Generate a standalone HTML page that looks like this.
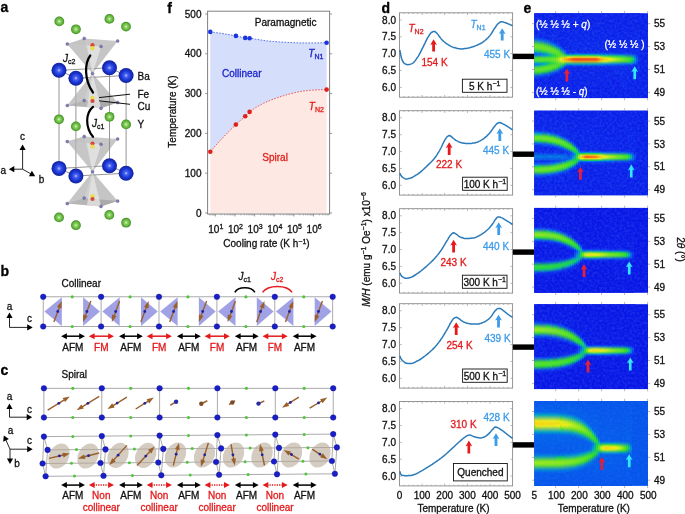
<!DOCTYPE html>
<html lang="en"><head><meta charset="utf-8"><title>Figure</title>
<style>
html,body{margin:0;padding:0;background:#fff;}
body{width:685px;height:514px;overflow:hidden;}
svg{display:block;font-family:'Liberation Sans', 'DejaVu Sans', sans-serif;}
</style></head><body>
<svg width="685" height="514" viewBox="0 0 685 514">
<defs>
<radialGradient id="gB" cx="50%" cy="50%" r="50%" fx="50%" fy="50%">
 <stop offset="0" stop-color="#c4ceff"/><stop offset="0.22" stop-color="#4a64f0"/>
 <stop offset="0.6" stop-color="#1c38d8"/><stop offset="1" stop-color="#10209a"/>
</radialGradient>
<radialGradient id="gG" cx="50%" cy="50%" r="50%" fx="50%" fy="50%">
 <stop offset="0" stop-color="#e4f8d0"/><stop offset="0.28" stop-color="#8fd468"/>
 <stop offset="0.7" stop-color="#62b43c"/><stop offset="1" stop-color="#3f8a24"/>
</radialGradient>

<filter id="nz" x="0" y="0" width="100%" height="100%"><feTurbulence type="fractalNoise" baseFrequency="0.4" numOctaves="2" seed="7"/><feColorMatrix type="matrix" values="0 0 0 0 0.15  0 0 0 0 0.4  0 0 0 0 0.98  2.4 0 0 0 -0.9"/></filter>
<clipPath id="cp0"><rect x="534.2" y="13.2" width="113.8" height="84.9"/></clipPath>
<linearGradient id="h1" x2="0" y2="1"><stop offset="0" stop-color="#0a1fe9"/><stop offset=".271" stop-color="#0a25ea"/><stop offset=".306" stop-color="#055beb"/><stop offset=".365" stop-color="#55e224"/><stop offset=".388" stop-color="#73e620"/><stop offset=".412" stop-color="#66e422"/><stop offset=".447" stop-color="#13cb60"/><stop offset=".471" stop-color="#0074e5"/><stop offset=".482" stop-color="#0460ea"/><stop offset=".494" stop-color="#0079e2"/><stop offset=".529" stop-color="#4ae125"/><stop offset=".553" stop-color="#5ae323"/><stop offset=".565" stop-color="#40e026"/><stop offset=".588" stop-color="#00a4c3"/><stop offset=".6" stop-color="#007ce0"/><stop offset=".612" stop-color="#0090d2"/><stop offset=".647" stop-color="#4de125"/><stop offset=".671" stop-color="#69e521"/><stop offset=".694" stop-color="#43e026"/><stop offset=".741" stop-color="#0755ec"/><stop offset=".776" stop-color="#0a21ea"/><stop offset="1" stop-color="#0a1fe9"/></linearGradient>
<linearGradient id="h2" x2="0" y2="1"><stop offset="0" stop-color="#0a1fe9"/><stop offset=".271" stop-color="#0a24ea"/><stop offset=".306" stop-color="#0657ec"/><stop offset=".365" stop-color="#51e224"/><stop offset=".388" stop-color="#73e620"/><stop offset=".412" stop-color="#68e521"/><stop offset=".447" stop-color="#16ce56"/><stop offset=".471" stop-color="#0079e1"/><stop offset=".482" stop-color="#0363ea"/><stop offset=".494" stop-color="#007ae1"/><stop offset=".529" stop-color="#4be125"/><stop offset=".553" stop-color="#5be323"/><stop offset=".565" stop-color="#40e026"/><stop offset=".588" stop-color="#00a5c2"/><stop offset=".6" stop-color="#007fdd"/><stop offset=".612" stop-color="#0096cd"/><stop offset=".647" stop-color="#51e224"/><stop offset=".671" stop-color="#68e521"/><stop offset=".694" stop-color="#3fe026"/><stop offset=".741" stop-color="#0751ec"/><stop offset=".776" stop-color="#0a21ea"/><stop offset="1" stop-color="#0a1fe9"/></linearGradient>
<linearGradient id="h3" x2="0" y2="1"><stop offset="0" stop-color="#0a1fe9"/><stop offset=".282" stop-color="#0a2beb"/><stop offset=".318" stop-color="#006fe8"/><stop offset=".376" stop-color="#64e422"/><stop offset=".412" stop-color="#6ce521"/><stop offset=".447" stop-color="#1cd24c"/><stop offset=".471" stop-color="#0083db"/><stop offset=".482" stop-color="#0268e9"/><stop offset=".494" stop-color="#007ce0"/><stop offset=".529" stop-color="#4ce125"/><stop offset=".553" stop-color="#5ce323"/><stop offset=".565" stop-color="#41e026"/><stop offset=".588" stop-color="#01a7be"/><stop offset=".6" stop-color="#0085d9"/><stop offset=".612" stop-color="#00a1c6"/><stop offset=".647" stop-color="#56e323"/><stop offset=".671" stop-color="#67e521"/><stop offset=".694" stop-color="#37df27"/><stop offset=".741" stop-color="#094bed"/><stop offset=".776" stop-color="#0a20e9"/><stop offset="1" stop-color="#0a1fe9"/></linearGradient>
<linearGradient id="h4" x2="0" y2="1"><stop offset="0" stop-color="#0a1fe9"/><stop offset=".282" stop-color="#0a27eb"/><stop offset=".318" stop-color="#0364ea"/><stop offset=".376" stop-color="#5de323"/><stop offset=".4" stop-color="#74e620"/><stop offset=".424" stop-color="#5fe422"/><stop offset=".482" stop-color="#0071e7"/><stop offset=".494" stop-color="#007fde"/><stop offset=".529" stop-color="#4ce125"/><stop offset=".553" stop-color="#5ce323"/><stop offset=".576" stop-color="#1fd348"/><stop offset=".588" stop-color="#02a9b9"/><stop offset=".6" stop-color="#008ed3"/><stop offset=".624" stop-color="#1ed349"/><stop offset=".647" stop-color="#5ce323"/><stop offset=".671" stop-color="#65e422"/><stop offset=".694" stop-color="#2edc2e"/><stop offset=".729" stop-color="#0364ea"/><stop offset=".765" stop-color="#0a22ea"/><stop offset="1" stop-color="#0a1fe9"/></linearGradient>
<linearGradient id="h5" x2="0" y2="1"><stop offset="0" stop-color="#0a1fe9"/><stop offset=".282" stop-color="#0a24ea"/><stop offset=".318" stop-color="#0658eb"/><stop offset=".376" stop-color="#51e224"/><stop offset=".4" stop-color="#73e620"/><stop offset=".424" stop-color="#67e521"/><stop offset=".459" stop-color="#15ce58"/><stop offset=".482" stop-color="#007fde"/><stop offset=".494" stop-color="#0084da"/><stop offset=".529" stop-color="#4de125"/><stop offset=".553" stop-color="#5de323"/><stop offset=".576" stop-color="#1fd347"/><stop offset=".588" stop-color="#04acaf"/><stop offset=".6" stop-color="#009bca"/><stop offset=".635" stop-color="#4ae125"/><stop offset=".659" stop-color="#68e521"/><stop offset=".682" stop-color="#47e125"/><stop offset=".729" stop-color="#0658eb"/><stop offset=".765" stop-color="#0a21ea"/><stop offset="1" stop-color="#0a1fe9"/></linearGradient>
<linearGradient id="h6" x2="0" y2="1"><stop offset="0" stop-color="#0a1fe9"/><stop offset=".294" stop-color="#0a28eb"/><stop offset=".329" stop-color="#0268e9"/><stop offset=".388" stop-color="#5fe422"/><stop offset=".424" stop-color="#6ee521"/><stop offset=".447" stop-color="#3ddf27"/><stop offset=".482" stop-color="#0091d1"/><stop offset=".494" stop-color="#008cd5"/><stop offset=".529" stop-color="#4ee125"/><stop offset=".553" stop-color="#5ee323"/><stop offset=".576" stop-color="#20d446"/><stop offset=".588" stop-color="#07b2a1"/><stop offset=".6" stop-color="#03abb3"/><stop offset=".635" stop-color="#55e224"/><stop offset=".659" stop-color="#67e521"/><stop offset=".682" stop-color="#38df27"/><stop offset=".729" stop-color="#094ced"/><stop offset=".765" stop-color="#0a20e9"/><stop offset="1" stop-color="#0a1fe9"/></linearGradient>
<linearGradient id="h7" x2="0" y2="1"><stop offset="0" stop-color="#0a1fe9"/><stop offset=".294" stop-color="#0a23ea"/><stop offset=".329" stop-color="#0656ec"/><stop offset=".388" stop-color="#50e224"/><stop offset=".412" stop-color="#72e620"/><stop offset=".435" stop-color="#67e521"/><stop offset=".482" stop-color="#01a7bd"/><stop offset=".494" stop-color="#0098cc"/><stop offset=".529" stop-color="#4ee224"/><stop offset=".553" stop-color="#5fe422"/><stop offset=".576" stop-color="#21d544"/><stop offset=".588" stop-color="#0bbb8a"/><stop offset=".6" stop-color="#0cbe82"/><stop offset=".635" stop-color="#5ee422"/><stop offset=".659" stop-color="#63e422"/><stop offset=".682" stop-color="#2ad936"/><stop offset=".718" stop-color="#045eeb"/><stop offset=".753" stop-color="#0a22ea"/><stop offset="1" stop-color="#0a1fe9"/></linearGradient>
<linearGradient id="h8" x2="0" y2="1"><stop offset="0" stop-color="#0a1fe9"/><stop offset=".306" stop-color="#0a26ea"/><stop offset=".341" stop-color="#0460ea"/><stop offset=".4" stop-color="#59e323"/><stop offset=".424" stop-color="#72e620"/><stop offset=".447" stop-color="#5ee323"/><stop offset=".494" stop-color="#02a9b7"/><stop offset=".506" stop-color="#0ec179"/><stop offset=".529" stop-color="#4fe224"/><stop offset=".553" stop-color="#5fe422"/><stop offset=".588" stop-color="#11c868"/><stop offset=".6" stop-color="#18cf53"/><stop offset=".624" stop-color="#51e224"/><stop offset=".647" stop-color="#66e422"/><stop offset=".671" stop-color="#39df27"/><stop offset=".718" stop-color="#084ded"/><stop offset=".753" stop-color="#0a20e9"/><stop offset="1" stop-color="#0a1fe9"/></linearGradient>
<linearGradient id="h9" x2="0" y2="1"><stop offset="0" stop-color="#0a1fe9"/><stop offset=".318" stop-color="#0a28eb"/><stop offset=".353" stop-color="#0269e9"/><stop offset=".412" stop-color="#5fe422"/><stop offset=".447" stop-color="#68e521"/><stop offset=".494" stop-color="#0dbf7e"/><stop offset=".506" stop-color="#14cd5a"/><stop offset=".529" stop-color="#57e323"/><stop offset=".553" stop-color="#67e521"/><stop offset=".588" stop-color="#1cd24c"/><stop offset=".624" stop-color="#5ce323"/><stop offset=".647" stop-color="#5fe422"/><stop offset=".671" stop-color="#27d83b"/><stop offset=".706" stop-color="#055aeb"/><stop offset=".741" stop-color="#0a21ea"/><stop offset="1" stop-color="#0a1fe9"/></linearGradient>
<linearGradient id="h10" x2="0" y2="1"><stop offset="0" stop-color="#0a1fe9"/><stop offset=".329" stop-color="#0a29eb"/><stop offset=".365" stop-color="#006ee8"/><stop offset=".412" stop-color="#48e125"/><stop offset=".435" stop-color="#6be521"/><stop offset=".459" stop-color="#61e422"/><stop offset=".494" stop-color="#1bd14e"/><stop offset=".506" stop-color="#1ed34a"/><stop offset=".529" stop-color="#5fe422"/><stop offset=".553" stop-color="#70e620"/><stop offset=".588" stop-color="#2ad936"/><stop offset=".624" stop-color="#60e422"/><stop offset=".647" stop-color="#50e224"/><stop offset=".706" stop-color="#0a46ee"/><stop offset=".753" stop-color="#0a1fe9"/><stop offset="1" stop-color="#0a1fe9"/></linearGradient>
<linearGradient id="h11" x2="0" y2="1"><stop offset="0" stop-color="#0a1fe9"/><stop offset=".341" stop-color="#0a2aeb"/><stop offset=".376" stop-color="#0070e8"/><stop offset=".424" stop-color="#48e125"/><stop offset=".447" stop-color="#67e521"/><stop offset=".471" stop-color="#58e323"/><stop offset=".494" stop-color="#2bda34"/><stop offset=".506" stop-color="#2ada35"/><stop offset=".541" stop-color="#7be71f"/><stop offset=".565" stop-color="#64e422"/><stop offset=".588" stop-color="#3cdf27"/><stop offset=".624" stop-color="#5de323"/><stop offset=".647" stop-color="#37df27"/><stop offset=".694" stop-color="#084eed"/><stop offset=".729" stop-color="#0a20e9"/><stop offset="1" stop-color="#0a1fe9"/></linearGradient>
<linearGradient id="h12" x2="0" y2="1"><stop offset="0" stop-color="#0a1fe9"/><stop offset=".353" stop-color="#0a28eb"/><stop offset=".388" stop-color="#016de8"/><stop offset=".435" stop-color="#43e026"/><stop offset=".459" stop-color="#60e422"/><stop offset=".506" stop-color="#3fe026"/><stop offset=".541" stop-color="#91e91d"/><stop offset=".565" stop-color="#79e71f"/><stop offset=".588" stop-color="#53e224"/><stop offset=".624" stop-color="#51e224"/><stop offset=".647" stop-color="#1fd348"/><stop offset=".682" stop-color="#0753ec"/><stop offset=".718" stop-color="#0a21ea"/><stop offset="1" stop-color="#0a1fe9"/></linearGradient>
<linearGradient id="h13" x2="0" y2="1"><stop offset="0" stop-color="#0a1fe9"/><stop offset=".365" stop-color="#0a25ea"/><stop offset=".4" stop-color="#0365ea"/><stop offset=".447" stop-color="#39df27"/><stop offset=".471" stop-color="#56e224"/><stop offset=".506" stop-color="#5ae323"/><stop offset=".541" stop-color="#bcec19"/><stop offset=".565" stop-color="#a2ea1b"/><stop offset=".6" stop-color="#55e224"/><stop offset=".624" stop-color="#36df27"/><stop offset=".671" stop-color="#0655ec"/><stop offset=".706" stop-color="#0a21ea"/><stop offset="1" stop-color="#0a1fe9"/></linearGradient>
<linearGradient id="h14" x2="0" y2="1"><stop offset="0" stop-color="#0a1fe9"/><stop offset=".376" stop-color="#0a22ea"/><stop offset=".412" stop-color="#0658eb"/><stop offset=".471" stop-color="#3edf27"/><stop offset=".506" stop-color="#6de521"/><stop offset=".529" stop-color="#d3ee17"/><stop offset=".553" stop-color="#eef014"/><stop offset=".576" stop-color="#95e91c"/><stop offset=".635" stop-color="#04adae"/><stop offset=".671" stop-color="#0a37ec"/><stop offset=".729" stop-color="#0a1fe9"/><stop offset="1" stop-color="#0a1fe9"/></linearGradient>
<linearGradient id="h15" x2="0" y2="1"><stop offset="0" stop-color="#0a1fe9"/><stop offset=".4" stop-color="#0a24ea"/><stop offset=".435" stop-color="#0363ea"/><stop offset=".506" stop-color="#73e620"/><stop offset=".529" stop-color="#f4e211"/><stop offset=".553" stop-color="#f8d40e"/><stop offset=".565" stop-color="#f2e812"/><stop offset=".612" stop-color="#14cc5c"/><stop offset=".647" stop-color="#084ded"/><stop offset=".682" stop-color="#0a20e9"/><stop offset="1" stop-color="#0a1fe9"/></linearGradient>
<linearGradient id="h16" x2="0" y2="1"><stop offset="0" stop-color="#0a1fe9"/><stop offset=".424" stop-color="#0a24ea"/><stop offset=".459" stop-color="#0365ea"/><stop offset=".494" stop-color="#29d938"/><stop offset=".529" stop-color="#fbcd0d"/><stop offset=".541" stop-color="#ffb20a"/><stop offset=".553" stop-color="#ffb90a"/><stop offset=".565" stop-color="#f7d90f"/><stop offset=".6" stop-color="#13cb5f"/><stop offset=".624" stop-color="#045fea"/><stop offset=".659" stop-color="#0a22ea"/><stop offset="1" stop-color="#0a1fe9"/></linearGradient>
<linearGradient id="h17" x2="0" y2="1"><stop offset="0" stop-color="#0a1fe9"/><stop offset=".447" stop-color="#0a22ea"/><stop offset=".471" stop-color="#0a47ee"/><stop offset=".482" stop-color="#0074e5"/><stop offset=".494" stop-color="#0fc375"/><stop offset=".518" stop-color="#daee16"/><stop offset=".529" stop-color="#fec20b"/><stop offset=".541" stop-color="#ff940a"/><stop offset=".553" stop-color="#ff9d0a"/><stop offset=".565" stop-color="#f9d10e"/><stop offset=".6" stop-color="#01a7bf"/><stop offset=".612" stop-color="#045fea"/><stop offset=".635" stop-color="#0a25ea"/><stop offset="1" stop-color="#0a1fe9"/></linearGradient>
<linearGradient id="h18" x2="0" y2="1"><stop offset="0" stop-color="#0a1fe9"/><stop offset=".459" stop-color="#0a27eb"/><stop offset=".471" stop-color="#0a3fed"/><stop offset=".482" stop-color="#016de8"/><stop offset=".494" stop-color="#0dbf7e"/><stop offset=".518" stop-color="#e9f015"/><stop offset=".529" stop-color="#ffb10a"/><stop offset=".541" stop-color="#ff7b0a"/><stop offset=".553" stop-color="#ff830a"/><stop offset=".565" stop-color="#fdc60c"/><stop offset=".6" stop-color="#01a6c0"/><stop offset=".612" stop-color="#055deb"/><stop offset=".635" stop-color="#0a23ea"/><stop offset="1" stop-color="#0a1fe9"/></linearGradient>
<linearGradient id="h19" x2="0" y2="1"><stop offset="0" stop-color="#0a1fe9"/><stop offset=".459" stop-color="#0a27eb"/><stop offset=".471" stop-color="#0a40ed"/><stop offset=".482" stop-color="#0070e8"/><stop offset=".494" stop-color="#10c570"/><stop offset=".518" stop-color="#f2ea13"/><stop offset=".529" stop-color="#ff980a"/><stop offset=".541" stop-color="#fb630b"/><stop offset=".553" stop-color="#fe6a0a"/><stop offset=".565" stop-color="#ffb70a"/><stop offset=".6" stop-color="#03abb5"/><stop offset=".612" stop-color="#045fea"/><stop offset=".635" stop-color="#0a23ea"/><stop offset="1" stop-color="#0a1fe9"/></linearGradient>
<linearGradient id="h20" x2="0" y2="1"><stop offset="0" stop-color="#0a1fe9"/><stop offset=".459" stop-color="#0a27eb"/><stop offset=".471" stop-color="#0a41ed"/><stop offset=".482" stop-color="#0073e6"/><stop offset=".494" stop-color="#12c964"/><stop offset=".518" stop-color="#f4e111"/><stop offset=".529" stop-color="#ff820a"/><stop offset=".541" stop-color="#f5510d"/><stop offset=".553" stop-color="#f7570d"/><stop offset=".565" stop-color="#ffa20a"/><stop offset=".6" stop-color="#05aeaa"/><stop offset=".612" stop-color="#0461ea"/><stop offset=".635" stop-color="#0a24ea"/><stop offset="1" stop-color="#0a1fe9"/></linearGradient>
<linearGradient id="h21" x2="0" y2="1"><stop offset="0" stop-color="#0a1fe9"/><stop offset=".459" stop-color="#0a28eb"/><stop offset=".471" stop-color="#0a42ee"/><stop offset=".482" stop-color="#0074e5"/><stop offset=".494" stop-color="#14cc5c"/><stop offset=".518" stop-color="#f6dc10"/><stop offset=".529" stop-color="#ff750a"/><stop offset=".541" stop-color="#f2460e"/><stop offset=".553" stop-color="#f44c0e"/><stop offset=".565" stop-color="#ff950a"/><stop offset=".6" stop-color="#06b1a4"/><stop offset=".612" stop-color="#0362ea"/><stop offset=".635" stop-color="#0a24ea"/><stop offset="1" stop-color="#0a1fe9"/></linearGradient>
<linearGradient id="h22" x2="0" y2="1"><stop offset="0" stop-color="#0a1fe9"/><stop offset=".459" stop-color="#0a28eb"/><stop offset=".471" stop-color="#0a42ee"/><stop offset=".482" stop-color="#0074e5"/><stop offset=".494" stop-color="#13cc5d"/><stop offset=".518" stop-color="#f6dc10"/><stop offset=".529" stop-color="#ff760a"/><stop offset=".541" stop-color="#f2460e"/><stop offset=".553" stop-color="#f44d0e"/><stop offset=".565" stop-color="#ff960a"/><stop offset=".6" stop-color="#06b1a4"/><stop offset=".612" stop-color="#0362ea"/><stop offset=".635" stop-color="#0a24ea"/><stop offset="1" stop-color="#0a1fe9"/></linearGradient>
<linearGradient id="h23" x2="0" y2="1"><stop offset="0" stop-color="#0a1fe9"/><stop offset=".459" stop-color="#0a28eb"/><stop offset=".471" stop-color="#0a42ee"/><stop offset=".482" stop-color="#0074e5"/><stop offset=".494" stop-color="#13cc5d"/><stop offset=".518" stop-color="#f6dd10"/><stop offset=".529" stop-color="#ff760a"/><stop offset=".541" stop-color="#f2470e"/><stop offset=".553" stop-color="#f44d0e"/><stop offset=".565" stop-color="#ff970a"/><stop offset=".6" stop-color="#06b1a5"/><stop offset=".612" stop-color="#0362ea"/><stop offset=".635" stop-color="#0a24ea"/><stop offset="1" stop-color="#0a1fe9"/></linearGradient>
<linearGradient id="h24" x2="0" y2="1"><stop offset="0" stop-color="#0a1fe9"/><stop offset=".459" stop-color="#0a28eb"/><stop offset=".471" stop-color="#0a42ee"/><stop offset=".482" stop-color="#0074e5"/><stop offset=".494" stop-color="#13cc5d"/><stop offset=".518" stop-color="#f6dd10"/><stop offset=".529" stop-color="#ff770a"/><stop offset=".541" stop-color="#f2470e"/><stop offset=".553" stop-color="#f44e0e"/><stop offset=".565" stop-color="#ff980a"/><stop offset=".6" stop-color="#06b0a5"/><stop offset=".612" stop-color="#0362ea"/><stop offset=".635" stop-color="#0a24ea"/><stop offset="1" stop-color="#0a1fe9"/></linearGradient>
<linearGradient id="h25" x2="0" y2="1"><stop offset="0" stop-color="#0a1fe9"/><stop offset=".459" stop-color="#0a28eb"/><stop offset=".471" stop-color="#0a42ee"/><stop offset=".482" stop-color="#0074e5"/><stop offset=".494" stop-color="#13cc5e"/><stop offset=".518" stop-color="#f6dd10"/><stop offset=".529" stop-color="#ff780a"/><stop offset=".541" stop-color="#f2480e"/><stop offset=".553" stop-color="#f54f0d"/><stop offset=".565" stop-color="#ff980a"/><stop offset=".6" stop-color="#06b0a5"/><stop offset=".612" stop-color="#0362ea"/><stop offset=".635" stop-color="#0a24ea"/><stop offset="1" stop-color="#0a1fe9"/></linearGradient>
<linearGradient id="h26" x2="0" y2="1"><stop offset="0" stop-color="#0a1fe9"/><stop offset=".459" stop-color="#0a28eb"/><stop offset=".471" stop-color="#0a42ee"/><stop offset=".482" stop-color="#0074e5"/><stop offset=".494" stop-color="#13cb5e"/><stop offset=".518" stop-color="#f6de10"/><stop offset=".529" stop-color="#ff780a"/><stop offset=".541" stop-color="#f3490e"/><stop offset=".553" stop-color="#f54f0d"/><stop offset=".565" stop-color="#ff990a"/><stop offset=".6" stop-color="#06b0a6"/><stop offset=".612" stop-color="#0362ea"/><stop offset=".635" stop-color="#0a24ea"/><stop offset="1" stop-color="#0a1fe9"/></linearGradient>
<linearGradient id="h27" x2="0" y2="1"><stop offset="0" stop-color="#0a1fe9"/><stop offset=".459" stop-color="#0a28eb"/><stop offset=".471" stop-color="#0a42ee"/><stop offset=".482" stop-color="#0074e5"/><stop offset=".494" stop-color="#13cb5f"/><stop offset=".518" stop-color="#f5de10"/><stop offset=".529" stop-color="#ff790a"/><stop offset=".541" stop-color="#f3490e"/><stop offset=".553" stop-color="#f5500d"/><stop offset=".565" stop-color="#ff9a0a"/><stop offset=".6" stop-color="#06b0a6"/><stop offset=".612" stop-color="#0362ea"/><stop offset=".635" stop-color="#0a24ea"/><stop offset="1" stop-color="#0a1fe9"/></linearGradient>
<linearGradient id="h28" x2="0" y2="1"><stop offset="0" stop-color="#0a1fe9"/><stop offset=".459" stop-color="#0a28eb"/><stop offset=".471" stop-color="#0a42ee"/><stop offset=".482" stop-color="#0074e6"/><stop offset=".494" stop-color="#13cb5f"/><stop offset=".518" stop-color="#f5de10"/><stop offset=".529" stop-color="#ff7a0a"/><stop offset=".541" stop-color="#f34a0e"/><stop offset=".553" stop-color="#f5500d"/><stop offset=".565" stop-color="#ff9a0a"/><stop offset=".6" stop-color="#05b0a6"/><stop offset=".612" stop-color="#0362ea"/><stop offset=".635" stop-color="#0a24ea"/><stop offset="1" stop-color="#0a1fe9"/></linearGradient>
<linearGradient id="h29" x2="0" y2="1"><stop offset="0" stop-color="#0a1fe9"/><stop offset=".459" stop-color="#0a28eb"/><stop offset=".471" stop-color="#0a42ee"/><stop offset=".482" stop-color="#0073e6"/><stop offset=".494" stop-color="#13cb5f"/><stop offset=".518" stop-color="#f5de10"/><stop offset=".529" stop-color="#ff7b0a"/><stop offset=".541" stop-color="#f34a0e"/><stop offset=".553" stop-color="#f5510d"/><stop offset=".565" stop-color="#ff9b0a"/><stop offset=".6" stop-color="#05b0a7"/><stop offset=".612" stop-color="#0361ea"/><stop offset=".635" stop-color="#0a24ea"/><stop offset="1" stop-color="#0a1fe9"/></linearGradient>
<linearGradient id="h30" x2="0" y2="1"><stop offset="0" stop-color="#0a1fe9"/><stop offset=".459" stop-color="#0a28eb"/><stop offset=".471" stop-color="#0a42ee"/><stop offset=".482" stop-color="#0073e6"/><stop offset=".494" stop-color="#13cb60"/><stop offset=".518" stop-color="#f5df11"/><stop offset=".529" stop-color="#ff7b0a"/><stop offset=".541" stop-color="#f34b0e"/><stop offset=".553" stop-color="#f6520d"/><stop offset=".565" stop-color="#ff9c0a"/><stop offset=".6" stop-color="#05b0a7"/><stop offset=".612" stop-color="#0361ea"/><stop offset=".635" stop-color="#0a24ea"/><stop offset="1" stop-color="#0a1fe9"/></linearGradient>
<linearGradient id="h31" x2="0" y2="1"><stop offset="0" stop-color="#0a1fe9"/><stop offset=".459" stop-color="#0a28eb"/><stop offset=".471" stop-color="#0a42ee"/><stop offset=".482" stop-color="#0073e6"/><stop offset=".494" stop-color="#13cb60"/><stop offset=".518" stop-color="#f5df11"/><stop offset=".529" stop-color="#ff7c0a"/><stop offset=".541" stop-color="#f44c0e"/><stop offset=".553" stop-color="#f6520d"/><stop offset=".565" stop-color="#ff9c0a"/><stop offset=".6" stop-color="#05b0a7"/><stop offset=".612" stop-color="#0361ea"/><stop offset=".635" stop-color="#0a24ea"/><stop offset="1" stop-color="#0a1fe9"/></linearGradient>
<linearGradient id="h32" x2="0" y2="1"><stop offset="0" stop-color="#0a1fe9"/><stop offset=".459" stop-color="#0a27eb"/><stop offset=".471" stop-color="#0a41ed"/><stop offset=".482" stop-color="#0071e7"/><stop offset=".494" stop-color="#11c769"/><stop offset=".518" stop-color="#f3e512"/><stop offset=".529" stop-color="#ff8b0a"/><stop offset=".541" stop-color="#f8580c"/><stop offset=".553" stop-color="#fa5f0c"/><stop offset=".565" stop-color="#ffab0a"/><stop offset=".6" stop-color="#04adaf"/><stop offset=".612" stop-color="#0460ea"/><stop offset=".635" stop-color="#0a23ea"/><stop offset="1" stop-color="#0a1fe9"/></linearGradient>
<linearGradient id="h33" x2="0" y2="1"><stop offset="0" stop-color="#0a1fe9"/><stop offset=".459" stop-color="#0a27eb"/><stop offset=".471" stop-color="#0a3fed"/><stop offset=".482" stop-color="#016de8"/><stop offset=".494" stop-color="#0dbf7e"/><stop offset=".518" stop-color="#eaf015"/><stop offset=".529" stop-color="#ffb00a"/><stop offset=".541" stop-color="#ff7a0a"/><stop offset=".553" stop-color="#ff820a"/><stop offset=".565" stop-color="#fdc60c"/><stop offset=".6" stop-color="#01a6c0"/><stop offset=".612" stop-color="#055deb"/><stop offset=".635" stop-color="#0a23ea"/><stop offset="1" stop-color="#0a1fe9"/></linearGradient>
<linearGradient id="h34" x2="0" y2="1"><stop offset="0" stop-color="#0a1fe9"/><stop offset=".459" stop-color="#0a26ea"/><stop offset=".482" stop-color="#0269e9"/><stop offset=".494" stop-color="#09b793"/><stop offset=".518" stop-color="#caed17"/><stop offset=".529" stop-color="#fcc90c"/><stop offset=".541" stop-color="#ffa30a"/><stop offset=".553" stop-color="#ffaa0a"/><stop offset=".565" stop-color="#f8d60f"/><stop offset=".6" stop-color="#009fc7"/><stop offset=".612" stop-color="#055aeb"/><stop offset=".635" stop-color="#0a23ea"/><stop offset="1" stop-color="#0a1fe9"/></linearGradient>
<linearGradient id="h35" x2="0" y2="1"><stop offset="0" stop-color="#0a1fe9"/><stop offset=".459" stop-color="#0a25ea"/><stop offset=".482" stop-color="#0266e9"/><stop offset=".494" stop-color="#06b1a5"/><stop offset=".518" stop-color="#b0eb1a"/><stop offset=".529" stop-color="#f7d80f"/><stop offset=".541" stop-color="#fec10b"/><stop offset=".553" stop-color="#fdc40b"/><stop offset=".565" stop-color="#f3e412"/><stop offset=".6" stop-color="#0098cc"/><stop offset=".612" stop-color="#0657ec"/><stop offset=".635" stop-color="#0a22ea"/><stop offset="1" stop-color="#0a1fe9"/></linearGradient>
<linearGradient id="h36" x2="0" y2="1"><stop offset="0" stop-color="#0a1fe9"/><stop offset=".459" stop-color="#0a25ea"/><stop offset=".482" stop-color="#0363ea"/><stop offset=".494" stop-color="#03acb1"/><stop offset=".518" stop-color="#9eea1b"/><stop offset=".529" stop-color="#f4e211"/><stop offset=".541" stop-color="#fbcc0d"/><stop offset=".553" stop-color="#facf0d"/><stop offset=".565" stop-color="#f0ee14"/><stop offset=".6" stop-color="#0094cf"/><stop offset=".612" stop-color="#0655ec"/><stop offset=".635" stop-color="#0a22ea"/><stop offset="1" stop-color="#0a1fe9"/></linearGradient>
<linearGradient id="h37" x2="0" y2="1"><stop offset="0" stop-color="#0a1fe9"/><stop offset=".459" stop-color="#0a25ea"/><stop offset=".482" stop-color="#0461ea"/><stop offset=".494" stop-color="#01a7be"/><stop offset=".518" stop-color="#8be91d"/><stop offset=".529" stop-color="#f1ed13"/><stop offset=".541" stop-color="#f7d70f"/><stop offset=".553" stop-color="#f6db10"/><stop offset=".565" stop-color="#deef16"/><stop offset=".6" stop-color="#008fd2"/><stop offset=".612" stop-color="#0753ec"/><stop offset=".635" stop-color="#0a22ea"/><stop offset="1" stop-color="#0a1fe9"/></linearGradient>
<linearGradient id="h38" x2="0" y2="1"><stop offset="0" stop-color="#0a1fe9"/><stop offset=".459" stop-color="#0a24ea"/><stop offset=".482" stop-color="#045eeb"/><stop offset=".506" stop-color="#2bda34"/><stop offset=".529" stop-color="#e1ef15"/><stop offset=".541" stop-color="#f4e311"/><stop offset=".553" stop-color="#f3e612"/><stop offset=".565" stop-color="#c8ed18"/><stop offset=".6" stop-color="#008ad6"/><stop offset=".612" stop-color="#0751ec"/><stop offset=".635" stop-color="#0a22ea"/><stop offset="1" stop-color="#0a1fe9"/></linearGradient>
<linearGradient id="h39" x2="0" y2="1"><stop offset="0" stop-color="#0a1fe9"/><stop offset=".459" stop-color="#0a24ea"/><stop offset=".482" stop-color="#055ceb"/><stop offset=".506" stop-color="#26d73c"/><stop offset=".529" stop-color="#caed17"/><stop offset=".541" stop-color="#f1ee14"/><stop offset=".553" stop-color="#eef014"/><stop offset=".565" stop-color="#b2eb1a"/><stop offset=".6" stop-color="#0086d9"/><stop offset=".612" stop-color="#084fed"/><stop offset=".635" stop-color="#0a22ea"/><stop offset="1" stop-color="#0a1fe9"/></linearGradient>
<linearGradient id="h40" x2="0" y2="1"><stop offset="0" stop-color="#0a1fe9"/><stop offset=".459" stop-color="#0a24ea"/><stop offset=".482" stop-color="#0559eb"/><stop offset=".506" stop-color="#22d543"/><stop offset=".529" stop-color="#b4ec19"/><stop offset=".541" stop-color="#ddef16"/><stop offset=".553" stop-color="#d7ee16"/><stop offset=".565" stop-color="#9dea1c"/><stop offset=".6" stop-color="#0082dc"/><stop offset=".624" stop-color="#0a2feb"/><stop offset=".741" stop-color="#0a1fe9"/><stop offset="1" stop-color="#0a1fe9"/></linearGradient>
<linearGradient id="h41" x2="0" y2="1"><stop offset="0" stop-color="#0a1fe9"/><stop offset=".459" stop-color="#0a23ea"/><stop offset=".482" stop-color="#0657ec"/><stop offset=".506" stop-color="#1ed34a"/><stop offset=".529" stop-color="#a1ea1b"/><stop offset=".541" stop-color="#c9ed18"/><stop offset=".553" stop-color="#c3ed18"/><stop offset=".565" stop-color="#8be91d"/><stop offset=".6" stop-color="#007ede"/><stop offset=".624" stop-color="#0a2eeb"/><stop offset=".765" stop-color="#0a1fe9"/><stop offset="1" stop-color="#0a1fe9"/></linearGradient>
<linearGradient id="h42" x2="0" y2="1"><stop offset="0" stop-color="#0a1fe9"/><stop offset=".459" stop-color="#0a23ea"/><stop offset=".482" stop-color="#0655ec"/><stop offset=".506" stop-color="#1ad050"/><stop offset=".529" stop-color="#8ee91d"/><stop offset=".541" stop-color="#b4ec19"/><stop offset=".553" stop-color="#aeeb1a"/><stop offset=".565" stop-color="#7ce71f"/><stop offset=".6" stop-color="#007ae1"/><stop offset=".624" stop-color="#0a2deb"/><stop offset=".788" stop-color="#0a1fe9"/><stop offset="1" stop-color="#0a1fe9"/></linearGradient>
<linearGradient id="h43" x2="0" y2="1"><stop offset="0" stop-color="#0a1fe9"/><stop offset=".459" stop-color="#0a23ea"/><stop offset=".482" stop-color="#0753ec"/><stop offset=".506" stop-color="#16ce57"/><stop offset=".529" stop-color="#7de71f"/><stop offset=".541" stop-color="#9fea1b"/><stop offset=".553" stop-color="#9aea1c"/><stop offset=".565" stop-color="#71e620"/><stop offset=".6" stop-color="#0076e4"/><stop offset=".624" stop-color="#0a2ceb"/><stop offset=".835" stop-color="#0a1fe9"/><stop offset="1" stop-color="#0a1fe9"/></linearGradient>
<linearGradient id="h44" x2="0" y2="1"><stop offset="0" stop-color="#0a1fe9"/><stop offset=".459" stop-color="#0a22ea"/><stop offset=".482" stop-color="#0751ec"/><stop offset=".506" stop-color="#12c964"/><stop offset=".529" stop-color="#71e620"/><stop offset=".541" stop-color="#8be91d"/><stop offset=".553" stop-color="#85e81e"/><stop offset=".565" stop-color="#65e422"/><stop offset=".6" stop-color="#0072e6"/><stop offset=".624" stop-color="#0a2ceb"/><stop offset=".894" stop-color="#0a1fe9"/><stop offset="1" stop-color="#0a1fe9"/></linearGradient>
<linearGradient id="h45" x2="0" y2="1"><stop offset="0" stop-color="#0a1fe9"/><stop offset=".459" stop-color="#0a22ea"/><stop offset=".482" stop-color="#084fed"/><stop offset=".506" stop-color="#0fc376"/><stop offset=".529" stop-color="#66e422"/><stop offset=".541" stop-color="#7ae71f"/><stop offset=".553" stop-color="#77e71f"/><stop offset=".565" stop-color="#5ae323"/><stop offset=".6" stop-color="#006fe8"/><stop offset=".624" stop-color="#0a2beb"/><stop offset="1" stop-color="#0a1fe9"/></linearGradient>
<linearGradient id="h46" x2="0" y2="1"><stop offset="0" stop-color="#0a1fe9"/><stop offset=".459" stop-color="#0a22ea"/><stop offset=".482" stop-color="#084ded"/><stop offset=".506" stop-color="#0bbb88"/><stop offset=".529" stop-color="#59e323"/><stop offset=".553" stop-color="#6ae521"/><stop offset=".565" stop-color="#4ee125"/><stop offset=".6" stop-color="#016be9"/><stop offset=".624" stop-color="#0a2aeb"/><stop offset="1" stop-color="#0a1fe9"/></linearGradient>
<linearGradient id="h47" x2="0" y2="1"><stop offset="0" stop-color="#0a1fe9"/><stop offset=".459" stop-color="#0a22ea"/><stop offset=".482" stop-color="#094bed"/><stop offset=".529" stop-color="#4be125"/><stop offset=".553" stop-color="#5be323"/><stop offset=".565" stop-color="#41e026"/><stop offset=".6" stop-color="#0267e9"/><stop offset=".624" stop-color="#0a29eb"/><stop offset="1" stop-color="#0a1fe9"/></linearGradient>
<linearGradient id="h48" x2="0" y2="1"><stop offset="0" stop-color="#0a1fe9"/><stop offset=".459" stop-color="#0a22ea"/><stop offset=".482" stop-color="#0948ee"/><stop offset=".529" stop-color="#3edf27"/><stop offset=".553" stop-color="#4de125"/><stop offset=".576" stop-color="#18cf54"/><stop offset=".6" stop-color="#0363ea"/><stop offset=".624" stop-color="#0a28eb"/><stop offset="1" stop-color="#0a1fe9"/></linearGradient>
<linearGradient id="h49" x2="0" y2="1"><stop offset="0" stop-color="#0a1fe9"/><stop offset=".459" stop-color="#0a21ea"/><stop offset=".482" stop-color="#0a44ee"/><stop offset=".529" stop-color="#2ada35"/><stop offset=".553" stop-color="#33de28"/><stop offset=".576" stop-color="#0ec179"/><stop offset=".612" stop-color="#0a3bed"/><stop offset=".659" stop-color="#0a1fe9"/><stop offset="1" stop-color="#0a1fe9"/></linearGradient>
<linearGradient id="h50" x2="0" y2="1"><stop offset="0" stop-color="#0a1fe9"/><stop offset=".471" stop-color="#0a28eb"/><stop offset=".506" stop-color="#0082dc"/><stop offset=".529" stop-color="#13cb60"/><stop offset=".553" stop-color="#19d052"/><stop offset=".576" stop-color="#00a2c5"/><stop offset=".612" stop-color="#0a34ec"/><stop offset=".682" stop-color="#0a1fe9"/><stop offset="1" stop-color="#0a1fe9"/></linearGradient>
<linearGradient id="h51" x2="0" y2="1"><stop offset="0" stop-color="#0a1fe9"/><stop offset=".471" stop-color="#0a24ea"/><stop offset=".541" stop-color="#00a0c6"/><stop offset=".576" stop-color="#0077e3"/><stop offset=".612" stop-color="#0a2ceb"/><stop offset=".859" stop-color="#0a1fe9"/><stop offset="1" stop-color="#0a1fe9"/></linearGradient>
<linearGradient id="h52" x2="0" y2="1"><stop offset="0" stop-color="#0a1fe9"/><stop offset=".482" stop-color="#0a26ea"/><stop offset=".541" stop-color="#0362ea"/><stop offset=".635" stop-color="#0a1fe9"/><stop offset="1" stop-color="#0a1fe9"/></linearGradient>
<linearGradient id="h53" x2="0" y2="1"><stop offset="0" stop-color="#0a1fe9"/><stop offset=".506" stop-color="#0a29eb"/><stop offset=".588" stop-color="#0a28eb"/><stop offset="1" stop-color="#0a1fe9"/></linearGradient>
<clipPath id="cp1"><rect x="534.2" y="110.5" width="113.8" height="84.9"/></clipPath>
<linearGradient id="h54" x2="0" y2="1"><stop offset="0" stop-color="#0a1fe9"/><stop offset=".224" stop-color="#0a23ea"/><stop offset=".247" stop-color="#0949ee"/><stop offset=".271" stop-color="#00a2c5"/><stop offset=".306" stop-color="#63e422"/><stop offset=".329" stop-color="#72e620"/><stop offset=".353" stop-color="#38df27"/><stop offset=".388" stop-color="#0266e9"/><stop offset=".412" stop-color="#0a2deb"/><stop offset=".482" stop-color="#0a22ea"/><stop offset=".541" stop-color="#0079e2"/><stop offset=".576" stop-color="#0658eb"/><stop offset=".6" stop-color="#0a2deb"/><stop offset=".624" stop-color="#0a48ee"/><stop offset=".647" stop-color="#00a4c3"/><stop offset=".671" stop-color="#42e026"/><stop offset=".694" stop-color="#73e620"/><stop offset=".718" stop-color="#58e323"/><stop offset=".765" stop-color="#0559eb"/><stop offset=".8" stop-color="#0a21ea"/><stop offset="1" stop-color="#0a1fe9"/></linearGradient>
<linearGradient id="h55" x2="0" y2="1"><stop offset="0" stop-color="#0a1fe9"/><stop offset=".224" stop-color="#0a23ea"/><stop offset=".247" stop-color="#0a48ee"/><stop offset=".271" stop-color="#00a1c6"/><stop offset=".306" stop-color="#62e422"/><stop offset=".329" stop-color="#72e620"/><stop offset=".353" stop-color="#39df27"/><stop offset=".388" stop-color="#0267e9"/><stop offset=".412" stop-color="#0a2eeb"/><stop offset=".482" stop-color="#0a22ea"/><stop offset=".541" stop-color="#0079e2"/><stop offset=".576" stop-color="#0658eb"/><stop offset=".6" stop-color="#0a2deb"/><stop offset=".624" stop-color="#0948ee"/><stop offset=".647" stop-color="#00a5c2"/><stop offset=".671" stop-color="#43e026"/><stop offset=".694" stop-color="#73e620"/><stop offset=".718" stop-color="#57e323"/><stop offset=".765" stop-color="#0559eb"/><stop offset=".8" stop-color="#0a21ea"/><stop offset="1" stop-color="#0a1fe9"/></linearGradient>
<linearGradient id="h56" x2="0" y2="1"><stop offset="0" stop-color="#0a1fe9"/><stop offset=".224" stop-color="#0a22ea"/><stop offset=".247" stop-color="#0a46ee"/><stop offset=".271" stop-color="#009dc8"/><stop offset=".306" stop-color="#60e422"/><stop offset=".329" stop-color="#72e620"/><stop offset=".353" stop-color="#3bdf27"/><stop offset=".388" stop-color="#026ae9"/><stop offset=".412" stop-color="#0a2feb"/><stop offset=".482" stop-color="#0a22ea"/><stop offset=".541" stop-color="#0078e2"/><stop offset=".576" stop-color="#0658eb"/><stop offset=".6" stop-color="#0a2deb"/><stop offset=".624" stop-color="#0949ee"/><stop offset=".647" stop-color="#01a7bd"/><stop offset=".671" stop-color="#45e026"/><stop offset=".694" stop-color="#73e620"/><stop offset=".718" stop-color="#56e323"/><stop offset=".765" stop-color="#0658eb"/><stop offset=".8" stop-color="#0a21ea"/><stop offset="1" stop-color="#0a1fe9"/></linearGradient>
<linearGradient id="h57" x2="0" y2="1"><stop offset="0" stop-color="#0a1fe9"/><stop offset=".224" stop-color="#0a22ea"/><stop offset=".247" stop-color="#0a43ee"/><stop offset=".271" stop-color="#0097cd"/><stop offset=".306" stop-color="#5de323"/><stop offset=".329" stop-color="#73e620"/><stop offset=".353" stop-color="#40e026"/><stop offset=".388" stop-color="#016ee8"/><stop offset=".412" stop-color="#0a30ec"/><stop offset=".482" stop-color="#0a22ea"/><stop offset=".541" stop-color="#0078e2"/><stop offset=".576" stop-color="#0657ec"/><stop offset=".6" stop-color="#0a2deb"/><stop offset=".624" stop-color="#094bed"/><stop offset=".659" stop-color="#21d444"/><stop offset=".682" stop-color="#69e521"/><stop offset=".706" stop-color="#6ee620"/><stop offset=".729" stop-color="#2bda34"/><stop offset=".765" stop-color="#0655ec"/><stop offset=".8" stop-color="#0a21ea"/><stop offset="1" stop-color="#0a1fe9"/></linearGradient>
<linearGradient id="h58" x2="0" y2="1"><stop offset="0" stop-color="#0a1fe9"/><stop offset=".235" stop-color="#0a2aeb"/><stop offset=".259" stop-color="#045fea"/><stop offset=".306" stop-color="#59e323"/><stop offset=".329" stop-color="#73e620"/><stop offset=".353" stop-color="#46e125"/><stop offset=".4" stop-color="#084eed"/><stop offset=".435" stop-color="#0a20e9"/><stop offset=".494" stop-color="#0a2deb"/><stop offset=".541" stop-color="#0078e3"/><stop offset=".576" stop-color="#0657ec"/><stop offset=".6" stop-color="#0a2eeb"/><stop offset=".624" stop-color="#084eed"/><stop offset=".671" stop-color="#4ce125"/><stop offset=".694" stop-color="#74e620"/><stop offset=".718" stop-color="#50e224"/><stop offset=".765" stop-color="#0752ec"/><stop offset=".8" stop-color="#0a20e9"/><stop offset="1" stop-color="#0a1fe9"/></linearGradient>
<linearGradient id="h59" x2="0" y2="1"><stop offset="0" stop-color="#0a1fe9"/><stop offset=".235" stop-color="#0a28eb"/><stop offset=".259" stop-color="#0658eb"/><stop offset=".306" stop-color="#52e224"/><stop offset=".329" stop-color="#74e620"/><stop offset=".353" stop-color="#4ee224"/><stop offset=".4" stop-color="#0754ec"/><stop offset=".435" stop-color="#0a21ea"/><stop offset=".494" stop-color="#0a2deb"/><stop offset=".541" stop-color="#0077e3"/><stop offset=".576" stop-color="#0657ec"/><stop offset=".6" stop-color="#0a2eeb"/><stop offset=".624" stop-color="#0753ec"/><stop offset=".671" stop-color="#51e224"/><stop offset=".694" stop-color="#74e620"/><stop offset=".718" stop-color="#4ae125"/><stop offset=".765" stop-color="#084ded"/><stop offset=".8" stop-color="#0a20e9"/><stop offset="1" stop-color="#0a1fe9"/></linearGradient>
<linearGradient id="h60" x2="0" y2="1"><stop offset="0" stop-color="#0a1fe9"/><stop offset=".235" stop-color="#0a25ea"/><stop offset=".259" stop-color="#084fed"/><stop offset=".306" stop-color="#48e125"/><stop offset=".329" stop-color="#73e620"/><stop offset=".353" stop-color="#57e323"/><stop offset=".4" stop-color="#055deb"/><stop offset=".435" stop-color="#0a21ea"/><stop offset=".494" stop-color="#0a2deb"/><stop offset=".541" stop-color="#0077e3"/><stop offset=".576" stop-color="#0657ec"/><stop offset=".6" stop-color="#0a2feb"/><stop offset=".624" stop-color="#0658eb"/><stop offset=".671" stop-color="#57e323"/><stop offset=".694" stop-color="#73e620"/><stop offset=".718" stop-color="#43e026"/><stop offset=".753" stop-color="#016de8"/><stop offset=".776" stop-color="#0a2feb"/><stop offset=".906" stop-color="#0a1fe9"/><stop offset="1" stop-color="#0a1fe9"/></linearGradient>
<linearGradient id="h61" x2="0" y2="1"><stop offset="0" stop-color="#0a1fe9"/><stop offset=".235" stop-color="#0a22ea"/><stop offset=".259" stop-color="#0a46ee"/><stop offset=".282" stop-color="#009dc9"/><stop offset=".318" stop-color="#60e422"/><stop offset=".341" stop-color="#72e620"/><stop offset=".365" stop-color="#3adf27"/><stop offset=".4" stop-color="#0269e9"/><stop offset=".424" stop-color="#0a2eeb"/><stop offset=".482" stop-color="#0a22ea"/><stop offset=".541" stop-color="#0076e4"/><stop offset=".576" stop-color="#0657ec"/><stop offset=".6" stop-color="#0a31ec"/><stop offset=".624" stop-color="#0460ea"/><stop offset=".671" stop-color="#5ee323"/><stop offset=".694" stop-color="#72e620"/><stop offset=".718" stop-color="#39df27"/><stop offset=".753" stop-color="#0364ea"/><stop offset=".776" stop-color="#0a2beb"/><stop offset="1" stop-color="#0a1fe9"/></linearGradient>
<linearGradient id="h62" x2="0" y2="1"><stop offset="0" stop-color="#0a1fe9"/><stop offset=".247" stop-color="#0a28eb"/><stop offset=".271" stop-color="#0559eb"/><stop offset=".318" stop-color="#54e224"/><stop offset=".341" stop-color="#73e620"/><stop offset=".365" stop-color="#4ae125"/><stop offset=".412" stop-color="#0751ec"/><stop offset=".447" stop-color="#0a21ea"/><stop offset=".494" stop-color="#0a2deb"/><stop offset=".541" stop-color="#0076e4"/><stop offset=".576" stop-color="#0656ec"/><stop offset=".6" stop-color="#0a33ec"/><stop offset=".624" stop-color="#016ae9"/><stop offset=".659" stop-color="#40e026"/><stop offset=".682" stop-color="#72e620"/><stop offset=".706" stop-color="#58e323"/><stop offset=".753" stop-color="#055aeb"/><stop offset=".788" stop-color="#0a21ea"/><stop offset="1" stop-color="#0a1fe9"/></linearGradient>
<linearGradient id="h63" x2="0" y2="1"><stop offset="0" stop-color="#0a1fe9"/><stop offset=".247" stop-color="#0a23ea"/><stop offset=".271" stop-color="#094bed"/><stop offset=".306" stop-color="#1ed34a"/><stop offset=".329" stop-color="#64e422"/><stop offset=".353" stop-color="#6fe620"/><stop offset=".376" stop-color="#31dd2a"/><stop offset=".412" stop-color="#045fea"/><stop offset=".435" stop-color="#0a2aeb"/><stop offset=".482" stop-color="#0a22ea"/><stop offset=".541" stop-color="#0075e4"/><stop offset=".576" stop-color="#0656ec"/><stop offset=".6" stop-color="#0a37ec"/><stop offset=".624" stop-color="#0077e3"/><stop offset=".659" stop-color="#4ce125"/><stop offset=".682" stop-color="#72e620"/><stop offset=".706" stop-color="#4ce125"/><stop offset=".753" stop-color="#084fed"/><stop offset=".788" stop-color="#0a20e9"/><stop offset="1" stop-color="#0a1fe9"/></linearGradient>
<linearGradient id="h64" x2="0" y2="1"><stop offset="0" stop-color="#0a1fe9"/><stop offset=".259" stop-color="#0a29eb"/><stop offset=".282" stop-color="#055aeb"/><stop offset=".329" stop-color="#54e224"/><stop offset=".353" stop-color="#71e620"/><stop offset=".376" stop-color="#45e026"/><stop offset=".424" stop-color="#084ded"/><stop offset=".459" stop-color="#0a20e9"/><stop offset=".506" stop-color="#0a41ed"/><stop offset=".541" stop-color="#0075e5"/><stop offset=".576" stop-color="#0656ec"/><stop offset=".6" stop-color="#0a3ded"/><stop offset=".624" stop-color="#0089d7"/><stop offset=".659" stop-color="#57e323"/><stop offset=".682" stop-color="#71e620"/><stop offset=".706" stop-color="#3ddf27"/><stop offset=".741" stop-color="#0267e9"/><stop offset=".765" stop-color="#0a2ceb"/><stop offset=".988" stop-color="#0a1fe9"/><stop offset="1" stop-color="#0a1fe9"/></linearGradient>
<linearGradient id="h65" x2="0" y2="1"><stop offset="0" stop-color="#0a1fe9"/><stop offset=".259" stop-color="#0a22ea"/><stop offset=".282" stop-color="#0a47ee"/><stop offset=".306" stop-color="#00a0c7"/><stop offset=".341" stop-color="#60e422"/><stop offset=".365" stop-color="#6de521"/><stop offset=".388" stop-color="#31dd2a"/><stop offset=".424" stop-color="#0460ea"/><stop offset=".447" stop-color="#0a2aeb"/><stop offset=".494" stop-color="#0a2deb"/><stop offset=".541" stop-color="#0075e5"/><stop offset=".576" stop-color="#0656ec"/><stop offset=".6" stop-color="#0a47ee"/><stop offset=".624" stop-color="#009ec8"/><stop offset=".647" stop-color="#3ddf27"/><stop offset=".671" stop-color="#6fe620"/><stop offset=".694" stop-color="#54e224"/><stop offset=".741" stop-color="#0657ec"/><stop offset=".776" stop-color="#0a21ea"/><stop offset="1" stop-color="#0a1fe9"/></linearGradient>
<linearGradient id="h66" x2="0" y2="1"><stop offset="0" stop-color="#0a1fe9"/><stop offset=".271" stop-color="#0a25ea"/><stop offset=".294" stop-color="#0850ed"/><stop offset=".341" stop-color="#49e125"/><stop offset=".365" stop-color="#6ee521"/><stop offset=".388" stop-color="#4ae125"/><stop offset=".435" stop-color="#0752ec"/><stop offset=".471" stop-color="#0a21ea"/><stop offset=".506" stop-color="#0a41ed"/><stop offset=".541" stop-color="#0074e5"/><stop offset=".576" stop-color="#0656ec"/><stop offset=".588" stop-color="#0a45ee"/><stop offset=".6" stop-color="#0752ec"/><stop offset=".647" stop-color="#4de125"/><stop offset=".671" stop-color="#6ee521"/><stop offset=".694" stop-color="#41e026"/><stop offset=".729" stop-color="#016ce9"/><stop offset=".753" stop-color="#0a2eeb"/><stop offset=".906" stop-color="#0a1fe9"/><stop offset="1" stop-color="#0a1fe9"/></linearGradient>
<linearGradient id="h67" x2="0" y2="1"><stop offset="0" stop-color="#0a1fe9"/><stop offset=".282" stop-color="#0a27eb"/><stop offset=".306" stop-color="#0658eb"/><stop offset=".353" stop-color="#50e224"/><stop offset=".376" stop-color="#6be521"/><stop offset=".4" stop-color="#3cdf27"/><stop offset=".435" stop-color="#016be9"/><stop offset=".459" stop-color="#0a2feb"/><stop offset=".494" stop-color="#0a2ceb"/><stop offset=".541" stop-color="#0074e5"/><stop offset=".588" stop-color="#094bed"/><stop offset=".6" stop-color="#0361ea"/><stop offset=".647" stop-color="#5ae323"/><stop offset=".671" stop-color="#68e521"/><stop offset=".694" stop-color="#2bda33"/><stop offset=".729" stop-color="#0656ec"/><stop offset=".765" stop-color="#0a21ea"/><stop offset="1" stop-color="#0a1fe9"/></linearGradient>
<linearGradient id="h68" x2="0" y2="1"><stop offset="0" stop-color="#0a1fe9"/><stop offset=".294" stop-color="#0a29eb"/><stop offset=".318" stop-color="#055ceb"/><stop offset=".365" stop-color="#52e224"/><stop offset=".388" stop-color="#66e521"/><stop offset=".412" stop-color="#30dd2b"/><stop offset=".447" stop-color="#0460ea"/><stop offset=".471" stop-color="#0a2aeb"/><stop offset=".494" stop-color="#0a2ceb"/><stop offset=".541" stop-color="#0073e6"/><stop offset=".588" stop-color="#0655ec"/><stop offset=".612" stop-color="#05b0a6"/><stop offset=".635" stop-color="#48e125"/><stop offset=".659" stop-color="#67e521"/><stop offset=".682" stop-color="#39df27"/><stop offset=".718" stop-color="#0365ea"/><stop offset=".741" stop-color="#0a2beb"/><stop offset="1" stop-color="#0a1fe9"/></linearGradient>
<linearGradient id="h69" x2="0" y2="1"><stop offset="0" stop-color="#0a1fe9"/><stop offset=".306" stop-color="#0a29eb"/><stop offset=".329" stop-color="#055ceb"/><stop offset=".376" stop-color="#50e224"/><stop offset=".4" stop-color="#60e422"/><stop offset=".424" stop-color="#2ada35"/><stop offset=".459" stop-color="#0659eb"/><stop offset=".482" stop-color="#0a28eb"/><stop offset=".541" stop-color="#006ee8"/><stop offset=".576" stop-color="#0659eb"/><stop offset=".588" stop-color="#0365ea"/><stop offset=".635" stop-color="#55e224"/><stop offset=".659" stop-color="#5ee323"/><stop offset=".682" stop-color="#22d543"/><stop offset=".718" stop-color="#094ced"/><stop offset=".753" stop-color="#0a20e9"/><stop offset="1" stop-color="#0a1fe9"/></linearGradient>
<linearGradient id="h70" x2="0" y2="1"><stop offset="0" stop-color="#0a1fe9"/><stop offset=".318" stop-color="#0a27eb"/><stop offset=".341" stop-color="#0658eb"/><stop offset=".388" stop-color="#49e125"/><stop offset=".412" stop-color="#5ae323"/><stop offset=".435" stop-color="#26d73b"/><stop offset=".471" stop-color="#0754ec"/><stop offset=".494" stop-color="#0a2ceb"/><stop offset=".541" stop-color="#0363ea"/><stop offset=".576" stop-color="#045deb"/><stop offset=".6" stop-color="#08b49a"/><stop offset=".624" stop-color="#45e026"/><stop offset=".647" stop-color="#5ae323"/><stop offset=".671" stop-color="#28d839"/><stop offset=".706" stop-color="#0753ec"/><stop offset=".741" stop-color="#0a20e9"/><stop offset="1" stop-color="#0a1fe9"/></linearGradient>
<linearGradient id="h71" x2="0" y2="1"><stop offset="0" stop-color="#0a1fe9"/><stop offset=".329" stop-color="#0a24ea"/><stop offset=".353" stop-color="#0850ed"/><stop offset=".4" stop-color="#3edf27"/><stop offset=".424" stop-color="#52e224"/><stop offset=".447" stop-color="#24d63f"/><stop offset=".482" stop-color="#0753ec"/><stop offset=".506" stop-color="#0a35ec"/><stop offset=".576" stop-color="#016de8"/><stop offset=".612" stop-color="#34de28"/><stop offset=".635" stop-color="#53e224"/><stop offset=".659" stop-color="#2ad936"/><stop offset=".694" stop-color="#0658eb"/><stop offset=".718" stop-color="#0a26ea"/><stop offset="1" stop-color="#0a1fe9"/></linearGradient>
<linearGradient id="h72" x2="0" y2="1"><stop offset="0" stop-color="#0a1fe9"/><stop offset=".341" stop-color="#0a21ea"/><stop offset=".365" stop-color="#0a43ee"/><stop offset=".412" stop-color="#2edc2f"/><stop offset=".435" stop-color="#47e125"/><stop offset=".459" stop-color="#23d641"/><stop offset=".494" stop-color="#0655ec"/><stop offset=".506" stop-color="#0a42ee"/><stop offset=".565" stop-color="#016de8"/><stop offset=".588" stop-color="#0ec278"/><stop offset=".612" stop-color="#3fe026"/><stop offset=".635" stop-color="#3fe026"/><stop offset=".659" stop-color="#0dbf80"/><stop offset=".682" stop-color="#0658eb"/><stop offset=".706" stop-color="#0a26ea"/><stop offset="1" stop-color="#0a1fe9"/></linearGradient>
<linearGradient id="h73" x2="0" y2="1"><stop offset="0" stop-color="#0a1fe9"/><stop offset=".365" stop-color="#0a24ea"/><stop offset=".388" stop-color="#0850ed"/><stop offset=".435" stop-color="#30dd2c"/><stop offset=".459" stop-color="#32de28"/><stop offset=".482" stop-color="#0bbb89"/><stop offset=".506" stop-color="#0364ea"/><stop offset=".565" stop-color="#00a0c7"/><stop offset=".6" stop-color="#30dd2b"/><stop offset=".624" stop-color="#32de29"/><stop offset=".647" stop-color="#09b696"/><stop offset=".671" stop-color="#0754ec"/><stop offset=".706" stop-color="#0a20e9"/><stop offset="1" stop-color="#0a1fe9"/></linearGradient>
<linearGradient id="h74" x2="0" y2="1"><stop offset="0" stop-color="#0a1fe9"/><stop offset=".388" stop-color="#0a26ea"/><stop offset=".412" stop-color="#0657ec"/><stop offset=".447" stop-color="#1cd24c"/><stop offset=".471" stop-color="#29d936"/><stop offset=".494" stop-color="#0ec278"/><stop offset=".506" stop-color="#009dc9"/><stop offset=".518" stop-color="#0095ce"/><stop offset=".6" stop-color="#2ada35"/><stop offset=".624" stop-color="#16ce57"/><stop offset=".659" stop-color="#094aed"/><stop offset=".694" stop-color="#0a20e9"/><stop offset="1" stop-color="#0a1fe9"/></linearGradient>
<linearGradient id="h75" x2="0" y2="1"><stop offset="0" stop-color="#0a1fe9"/><stop offset=".412" stop-color="#0a25ea"/><stop offset=".435" stop-color="#0754ec"/><stop offset=".471" stop-color="#12c966"/><stop offset=".518" stop-color="#19d051"/><stop offset=".553" stop-color="#3ddf27"/><stop offset=".6" stop-color="#16ce57"/><stop offset=".647" stop-color="#0a3bed"/><stop offset=".694" stop-color="#0a1fe9"/><stop offset="1" stop-color="#0a1fe9"/></linearGradient>
<linearGradient id="h76" x2="0" y2="1"><stop offset="0" stop-color="#0a1fe9"/><stop offset=".435" stop-color="#0a21ea"/><stop offset=".471" stop-color="#0460ea"/><stop offset=".506" stop-color="#19d052"/><stop offset=".529" stop-color="#7ee81e"/><stop offset=".541" stop-color="#adeb1a"/><stop offset=".553" stop-color="#aeeb1a"/><stop offset=".565" stop-color="#7de71f"/><stop offset=".6" stop-color="#008cd5"/><stop offset=".624" stop-color="#0a3fed"/><stop offset=".671" stop-color="#0a1fe9"/><stop offset="1" stop-color="#0a1fe9"/></linearGradient>
<linearGradient id="h77" x2="0" y2="1"><stop offset="0" stop-color="#0a1fe9"/><stop offset=".471" stop-color="#0a24ea"/><stop offset=".482" stop-color="#0a3ced"/><stop offset=".494" stop-color="#006fe8"/><stop offset=".506" stop-color="#12ca63"/><stop offset=".529" stop-color="#edf014"/><stop offset=".541" stop-color="#fad00e"/><stop offset=".553" stop-color="#f9d10e"/><stop offset=".565" stop-color="#e1ef15"/><stop offset=".588" stop-color="#0ec17b"/><stop offset=".6" stop-color="#0269e9"/><stop offset=".612" stop-color="#0a39ed"/><stop offset=".647" stop-color="#0a1fe9"/><stop offset="1" stop-color="#0a1fe9"/></linearGradient>
<linearGradient id="h78" x2="0" y2="1"><stop offset="0" stop-color="#0a1fe9"/><stop offset=".471" stop-color="#0a25ea"/><stop offset=".482" stop-color="#0a3fed"/><stop offset=".494" stop-color="#0076e4"/><stop offset=".506" stop-color="#1ad14f"/><stop offset=".529" stop-color="#f7d90f"/><stop offset=".541" stop-color="#ffaa0a"/><stop offset=".553" stop-color="#ffad0a"/><stop offset=".565" stop-color="#f5df11"/><stop offset=".588" stop-color="#15cd59"/><stop offset=".6" stop-color="#006fe8"/><stop offset=".612" stop-color="#0a3bed"/><stop offset=".647" stop-color="#0a1fe9"/><stop offset="1" stop-color="#0a1fe9"/></linearGradient>
<linearGradient id="h79" x2="0" y2="1"><stop offset="0" stop-color="#0a1fe9"/><stop offset=".471" stop-color="#0a25ea"/><stop offset=".482" stop-color="#0a42ee"/><stop offset=".494" stop-color="#007ddf"/><stop offset=".506" stop-color="#22d543"/><stop offset=".529" stop-color="#fdc40b"/><stop offset=".541" stop-color="#ff760a"/><stop offset=".553" stop-color="#ff7a0a"/><stop offset=".565" stop-color="#fbca0c"/><stop offset=".588" stop-color="#1cd14d"/><stop offset=".6" stop-color="#0075e4"/><stop offset=".612" stop-color="#0a3eed"/><stop offset=".647" stop-color="#0a1fe9"/><stop offset="1" stop-color="#0a1fe9"/></linearGradient>
<linearGradient id="h80" x2="0" y2="1"><stop offset="0" stop-color="#0a1fe9"/><stop offset=".471" stop-color="#0a26ea"/><stop offset=".482" stop-color="#0a43ee"/><stop offset=".494" stop-color="#0081dc"/><stop offset=".506" stop-color="#26d73c"/><stop offset=".529" stop-color="#ffb30a"/><stop offset=".541" stop-color="#fa5f0c"/><stop offset=".553" stop-color="#fb620b"/><stop offset=".565" stop-color="#ffbf0a"/><stop offset=".588" stop-color="#1fd347"/><stop offset=".6" stop-color="#0079e2"/><stop offset=".612" stop-color="#0a3fed"/><stop offset=".635" stop-color="#0a20e9"/><stop offset="1" stop-color="#0a1fe9"/></linearGradient>
<linearGradient id="h81" x2="0" y2="1"><stop offset="0" stop-color="#0a1fe9"/><stop offset=".471" stop-color="#0a26ea"/><stop offset=".482" stop-color="#0a43ee"/><stop offset=".494" stop-color="#0080dd"/><stop offset=".506" stop-color="#24d63f"/><stop offset=".529" stop-color="#ffbb0a"/><stop offset=".541" stop-color="#fc660b"/><stop offset=".553" stop-color="#fd690b"/><stop offset=".565" stop-color="#fec30b"/><stop offset=".588" stop-color="#1ed349"/><stop offset=".6" stop-color="#0078e3"/><stop offset=".612" stop-color="#0a3fed"/><stop offset=".635" stop-color="#0a20e9"/><stop offset="1" stop-color="#0a1fe9"/></linearGradient>
<linearGradient id="h82" x2="0" y2="1"><stop offset="0" stop-color="#0a1fe9"/><stop offset=".471" stop-color="#0a26ea"/><stop offset=".482" stop-color="#0a42ee"/><stop offset=".494" stop-color="#007fde"/><stop offset=".506" stop-color="#23d641"/><stop offset=".529" stop-color="#fec00a"/><stop offset=".541" stop-color="#ff6d0a"/><stop offset=".553" stop-color="#ff700a"/><stop offset=".565" stop-color="#fdc60c"/><stop offset=".588" stop-color="#1dd24b"/><stop offset=".6" stop-color="#0077e3"/><stop offset=".612" stop-color="#0a3eed"/><stop offset=".647" stop-color="#0a1fe9"/><stop offset="1" stop-color="#0a1fe9"/></linearGradient>
<linearGradient id="h83" x2="0" y2="1"><stop offset="0" stop-color="#0a1fe9"/><stop offset=".471" stop-color="#0a25ea"/><stop offset=".482" stop-color="#0a42ee"/><stop offset=".494" stop-color="#007ddf"/><stop offset=".506" stop-color="#22d543"/><stop offset=".529" stop-color="#fdc40b"/><stop offset=".541" stop-color="#ff750a"/><stop offset=".553" stop-color="#ff780a"/><stop offset=".565" stop-color="#fcc90c"/><stop offset=".588" stop-color="#1cd14d"/><stop offset=".6" stop-color="#0076e4"/><stop offset=".612" stop-color="#0a3eed"/><stop offset=".647" stop-color="#0a1fe9"/><stop offset="1" stop-color="#0a1fe9"/></linearGradient>
<linearGradient id="h84" x2="0" y2="1"><stop offset="0" stop-color="#0a1fe9"/><stop offset=".471" stop-color="#0a25ea"/><stop offset=".482" stop-color="#0a41ed"/><stop offset=".494" stop-color="#007cdf"/><stop offset=".506" stop-color="#21d445"/><stop offset=".529" stop-color="#fcc70c"/><stop offset=".541" stop-color="#ff7d0a"/><stop offset=".553" stop-color="#ff810a"/><stop offset=".565" stop-color="#fbcd0d"/><stop offset=".588" stop-color="#1bd14f"/><stop offset=".6" stop-color="#0075e5"/><stop offset=".612" stop-color="#0a3ded"/><stop offset=".647" stop-color="#0a1fe9"/><stop offset="1" stop-color="#0a1fe9"/></linearGradient>
<linearGradient id="h85" x2="0" y2="1"><stop offset="0" stop-color="#0a1fe9"/><stop offset=".471" stop-color="#0a25ea"/><stop offset=".482" stop-color="#0a40ed"/><stop offset=".494" stop-color="#0079e1"/><stop offset=".506" stop-color="#1ed24a"/><stop offset=".529" stop-color="#fad00e"/><stop offset=".541" stop-color="#ff930a"/><stop offset=".553" stop-color="#ff960a"/><stop offset=".565" stop-color="#f8d60f"/><stop offset=".588" stop-color="#18cf54"/><stop offset=".6" stop-color="#0072e7"/><stop offset=".612" stop-color="#0a3ced"/><stop offset=".647" stop-color="#0a1fe9"/><stop offset="1" stop-color="#0a1fe9"/></linearGradient>
<linearGradient id="h86" x2="0" y2="1"><stop offset="0" stop-color="#0a1fe9"/><stop offset=".471" stop-color="#0a24ea"/><stop offset=".482" stop-color="#0a3eed"/><stop offset=".494" stop-color="#0074e5"/><stop offset=".506" stop-color="#18cf54"/><stop offset=".529" stop-color="#f5e111"/><stop offset=".541" stop-color="#ffbb0a"/><stop offset=".553" stop-color="#ffbe0a"/><stop offset=".565" stop-color="#f3e612"/><stop offset=".588" stop-color="#12ca62"/><stop offset=".6" stop-color="#016de8"/><stop offset=".612" stop-color="#0a3bed"/><stop offset=".647" stop-color="#0a1fe9"/><stop offset="1" stop-color="#0a1fe9"/></linearGradient>
<linearGradient id="h87" x2="0" y2="1"><stop offset="0" stop-color="#0a1fe9"/><stop offset=".471" stop-color="#0a24ea"/><stop offset=".482" stop-color="#0a3ced"/><stop offset=".494" stop-color="#006fe8"/><stop offset=".506" stop-color="#12c963"/><stop offset=".529" stop-color="#edf014"/><stop offset=".541" stop-color="#fad00e"/><stop offset=".553" stop-color="#f9d10e"/><stop offset=".565" stop-color="#e1ef15"/><stop offset=".588" stop-color="#0ec07b"/><stop offset=".6" stop-color="#0269e9"/><stop offset=".612" stop-color="#0a39ed"/><stop offset=".647" stop-color="#0a1fe9"/><stop offset="1" stop-color="#0a1fe9"/></linearGradient>
<linearGradient id="h88" x2="0" y2="1"><stop offset="0" stop-color="#0a1fe9"/><stop offset=".471" stop-color="#0a23ea"/><stop offset=".482" stop-color="#0a3aed"/><stop offset=".494" stop-color="#016ae9"/><stop offset=".529" stop-color="#c7ed18"/><stop offset=".541" stop-color="#f4e311"/><stop offset=".553" stop-color="#f4e412"/><stop offset=".565" stop-color="#bdec19"/><stop offset=".588" stop-color="#09b794"/><stop offset=".6" stop-color="#0364ea"/><stop offset=".612" stop-color="#0a37ec"/><stop offset=".659" stop-color="#0a1fe9"/><stop offset="1" stop-color="#0a1fe9"/></linearGradient>
<linearGradient id="h89" x2="0" y2="1"><stop offset="0" stop-color="#0a1fe9"/><stop offset=".471" stop-color="#0a23ea"/><stop offset=".482" stop-color="#0a38ec"/><stop offset=".494" stop-color="#0266e9"/><stop offset=".529" stop-color="#abeb1a"/><stop offset=".541" stop-color="#edf014"/><stop offset=".553" stop-color="#eaf015"/><stop offset=".565" stop-color="#a1ea1b"/><stop offset=".588" stop-color="#05b0a7"/><stop offset=".6" stop-color="#0461ea"/><stop offset=".612" stop-color="#0a35ec"/><stop offset=".659" stop-color="#0a1fe9"/><stop offset="1" stop-color="#0a1fe9"/></linearGradient>
<linearGradient id="h90" x2="0" y2="1"><stop offset="0" stop-color="#0a1fe9"/><stop offset=".471" stop-color="#0a23ea"/><stop offset=".482" stop-color="#0a37ec"/><stop offset=".494" stop-color="#0364ea"/><stop offset=".529" stop-color="#9aea1c"/><stop offset=".541" stop-color="#daee16"/><stop offset=".553" stop-color="#d7ee16"/><stop offset=".565" stop-color="#90e91d"/><stop offset=".588" stop-color="#03abb3"/><stop offset=".6" stop-color="#045eeb"/><stop offset=".624" stop-color="#0a22ea"/><stop offset="1" stop-color="#0a1fe9"/></linearGradient>
<linearGradient id="h91" x2="0" y2="1"><stop offset="0" stop-color="#0a1fe9"/><stop offset=".471" stop-color="#0a22ea"/><stop offset=".494" stop-color="#0361ea"/><stop offset=".529" stop-color="#89e91d"/><stop offset=".541" stop-color="#c7ed18"/><stop offset=".553" stop-color="#c4ed18"/><stop offset=".565" stop-color="#81e81e"/><stop offset=".588" stop-color="#01a7be"/><stop offset=".6" stop-color="#055ceb"/><stop offset=".624" stop-color="#0a22ea"/><stop offset="1" stop-color="#0a1fe9"/></linearGradient>
<linearGradient id="h92" x2="0" y2="1"><stop offset="0" stop-color="#0a1fe9"/><stop offset=".471" stop-color="#0a22ea"/><stop offset=".494" stop-color="#045fea"/><stop offset=".529" stop-color="#7ce71f"/><stop offset=".541" stop-color="#b4ec19"/><stop offset=".553" stop-color="#b2eb1a"/><stop offset=".565" stop-color="#77e71f"/><stop offset=".588" stop-color="#00a2c5"/><stop offset=".6" stop-color="#055aeb"/><stop offset=".624" stop-color="#0a22ea"/><stop offset="1" stop-color="#0a1fe9"/></linearGradient>
<linearGradient id="h93" x2="0" y2="1"><stop offset="0" stop-color="#0a1fe9"/><stop offset=".471" stop-color="#0a22ea"/><stop offset=".494" stop-color="#055deb"/><stop offset=".529" stop-color="#72e620"/><stop offset=".541" stop-color="#a1ea1b"/><stop offset=".553" stop-color="#9fea1b"/><stop offset=".565" stop-color="#6ce521"/><stop offset=".6" stop-color="#0658eb"/><stop offset=".624" stop-color="#0a22ea"/><stop offset="1" stop-color="#0a1fe9"/></linearGradient>
<linearGradient id="h94" x2="0" y2="1"><stop offset="0" stop-color="#0a1fe9"/><stop offset=".471" stop-color="#0a22ea"/><stop offset=".494" stop-color="#055beb"/><stop offset=".529" stop-color="#67e521"/><stop offset=".541" stop-color="#8fe91d"/><stop offset=".553" stop-color="#8ce91d"/><stop offset=".565" stop-color="#62e422"/><stop offset=".6" stop-color="#0656ec"/><stop offset=".624" stop-color="#0a21ea"/><stop offset="1" stop-color="#0a1fe9"/></linearGradient>
<linearGradient id="h95" x2="0" y2="1"><stop offset="0" stop-color="#0a1fe9"/><stop offset=".471" stop-color="#0a22ea"/><stop offset=".494" stop-color="#0659eb"/><stop offset=".529" stop-color="#5de323"/><stop offset=".541" stop-color="#7ee81e"/><stop offset=".553" stop-color="#7de71f"/><stop offset=".565" stop-color="#58e323"/><stop offset=".6" stop-color="#0754ec"/><stop offset=".624" stop-color="#0a21ea"/><stop offset="1" stop-color="#0a1fe9"/></linearGradient>
<linearGradient id="h96" x2="0" y2="1"><stop offset="0" stop-color="#0a1fe9"/><stop offset=".471" stop-color="#0a22ea"/><stop offset=".494" stop-color="#0656ec"/><stop offset=".529" stop-color="#53e224"/><stop offset=".541" stop-color="#72e620"/><stop offset=".553" stop-color="#71e620"/><stop offset=".565" stop-color="#4ee125"/><stop offset=".6" stop-color="#0752ec"/><stop offset=".624" stop-color="#0a21ea"/><stop offset="1" stop-color="#0a1fe9"/></linearGradient>
<linearGradient id="h97" x2="0" y2="1"><stop offset="0" stop-color="#0a1fe9"/><stop offset=".471" stop-color="#0a21ea"/><stop offset=".494" stop-color="#0754ec"/><stop offset=".529" stop-color="#49e125"/><stop offset=".541" stop-color="#67e521"/><stop offset=".553" stop-color="#66e521"/><stop offset=".565" stop-color="#44e026"/><stop offset=".6" stop-color="#0850ed"/><stop offset=".624" stop-color="#0a21ea"/><stop offset="1" stop-color="#0a1fe9"/></linearGradient>
<linearGradient id="h98" x2="0" y2="1"><stop offset="0" stop-color="#0a1fe9"/><stop offset=".471" stop-color="#0a21ea"/><stop offset=".494" stop-color="#0752ec"/><stop offset=".529" stop-color="#3fe026"/><stop offset=".541" stop-color="#5ce323"/><stop offset=".553" stop-color="#5be323"/><stop offset=".565" stop-color="#3bdf27"/><stop offset=".6" stop-color="#084eed"/><stop offset=".624" stop-color="#0a21ea"/><stop offset="1" stop-color="#0a1fe9"/></linearGradient>
<linearGradient id="h99" x2="0" y2="1"><stop offset="0" stop-color="#0a1fe9"/><stop offset=".471" stop-color="#0a21ea"/><stop offset=".494" stop-color="#0850ed"/><stop offset=".529" stop-color="#35de28"/><stop offset=".541" stop-color="#51e224"/><stop offset=".553" stop-color="#50e224"/><stop offset=".565" stop-color="#32de29"/><stop offset=".6" stop-color="#084ced"/><stop offset=".624" stop-color="#0a21ea"/><stop offset="1" stop-color="#0a1fe9"/></linearGradient>
<linearGradient id="h100" x2="0" y2="1"><stop offset="0" stop-color="#0a1fe9"/><stop offset=".471" stop-color="#0a21ea"/><stop offset=".494" stop-color="#084eed"/><stop offset=".529" stop-color="#2edc2e"/><stop offset=".541" stop-color="#46e125"/><stop offset=".553" stop-color="#45e026"/><stop offset=".565" stop-color="#2cdb32"/><stop offset=".6" stop-color="#094bed"/><stop offset=".624" stop-color="#0a21ea"/><stop offset="1" stop-color="#0a1fe9"/></linearGradient>
<linearGradient id="h101" x2="0" y2="1"><stop offset="0" stop-color="#0a1fe9"/><stop offset=".482" stop-color="#0a2aeb"/><stop offset=".506" stop-color="#0070e8"/><stop offset=".529" stop-color="#19d051"/><stop offset=".541" stop-color="#26d73c"/><stop offset=".553" stop-color="#26d73d"/><stop offset=".576" stop-color="#00a5c3"/><stop offset=".6" stop-color="#0a43ee"/><stop offset=".635" stop-color="#0a1fe9"/><stop offset="1" stop-color="#0a1fe9"/></linearGradient>
<linearGradient id="h102" x2="0" y2="1"><stop offset="0" stop-color="#0a1fe9"/><stop offset=".482" stop-color="#0a27eb"/><stop offset=".506" stop-color="#055ceb"/><stop offset=".529" stop-color="#03abb2"/><stop offset=".553" stop-color="#0bbb89"/><stop offset=".576" stop-color="#0082dc"/><stop offset=".6" stop-color="#0a39ed"/><stop offset=".647" stop-color="#0a1fe9"/><stop offset="1" stop-color="#0a1fe9"/></linearGradient>
<linearGradient id="h103" x2="0" y2="1"><stop offset="0" stop-color="#0a1fe9"/><stop offset=".482" stop-color="#0a22ea"/><stop offset=".541" stop-color="#0080dd"/><stop offset=".576" stop-color="#055ceb"/><stop offset=".612" stop-color="#0a22ea"/><stop offset="1" stop-color="#0a1fe9"/></linearGradient>
<linearGradient id="h104" x2="0" y2="1"><stop offset="0" stop-color="#0a1fe9"/><stop offset=".494" stop-color="#0a24ea"/><stop offset=".553" stop-color="#094ced"/><stop offset=".635" stop-color="#0a1fe9"/><stop offset="1" stop-color="#0a1fe9"/></linearGradient>
<clipPath id="cp2"><rect x="534.2" y="207.9" width="113.8" height="84.9"/></clipPath>
<linearGradient id="h105" x2="0" y2="1"><stop offset="0" stop-color="#0816e6"/><stop offset=".212" stop-color="#0819e7"/><stop offset=".235" stop-color="#0a30ec"/><stop offset=".259" stop-color="#008fd3"/><stop offset=".294" stop-color="#6fe620"/><stop offset=".318" stop-color="#93e91c"/><stop offset=".329" stop-color="#7ee71f"/><stop offset=".353" stop-color="#26d73b"/><stop offset=".376" stop-color="#016de8"/><stop offset=".4" stop-color="#0a22ea"/><stop offset=".459" stop-color="#0816e6"/><stop offset=".612" stop-color="#091ae7"/><stop offset=".635" stop-color="#0a39ed"/><stop offset=".682" stop-color="#27d83a"/><stop offset=".706" stop-color="#31dd2a"/><stop offset=".729" stop-color="#11c66b"/><stop offset=".765" stop-color="#0a37ec"/><stop offset=".8" stop-color="#0817e6"/><stop offset="1" stop-color="#0816e6"/></linearGradient>
<linearGradient id="h106" x2="0" y2="1"><stop offset="0" stop-color="#0816e6"/><stop offset=".212" stop-color="#0819e7"/><stop offset=".235" stop-color="#0a2feb"/><stop offset=".259" stop-color="#008dd3"/><stop offset=".294" stop-color="#6de521"/><stop offset=".318" stop-color="#90e91d"/><stop offset=".329" stop-color="#7ce71f"/><stop offset=".353" stop-color="#26d73c"/><stop offset=".376" stop-color="#016de8"/><stop offset=".4" stop-color="#0a22ea"/><stop offset=".459" stop-color="#0816e6"/><stop offset=".612" stop-color="#091ae7"/><stop offset=".635" stop-color="#0a39ed"/><stop offset=".682" stop-color="#26d73c"/><stop offset=".706" stop-color="#30dd2c"/><stop offset=".729" stop-color="#10c56f"/><stop offset=".765" stop-color="#0a36ec"/><stop offset=".8" stop-color="#0817e6"/><stop offset="1" stop-color="#0816e6"/></linearGradient>
<linearGradient id="h107" x2="0" y2="1"><stop offset="0" stop-color="#0816e6"/><stop offset=".224" stop-color="#091de8"/><stop offset=".247" stop-color="#0655ec"/><stop offset=".294" stop-color="#6be521"/><stop offset=".318" stop-color="#8ee91d"/><stop offset=".329" stop-color="#7ce71f"/><stop offset=".353" stop-color="#26d73c"/><stop offset=".376" stop-color="#006ee8"/><stop offset=".4" stop-color="#0a22ea"/><stop offset=".459" stop-color="#0816e6"/><stop offset=".612" stop-color="#091ae7"/><stop offset=".635" stop-color="#0a39ed"/><stop offset=".682" stop-color="#26d73d"/><stop offset=".706" stop-color="#2fdc2d"/><stop offset=".729" stop-color="#0fc374"/><stop offset=".765" stop-color="#0a36ec"/><stop offset=".8" stop-color="#0817e6"/><stop offset="1" stop-color="#0816e6"/></linearGradient>
<linearGradient id="h108" x2="0" y2="1"><stop offset="0" stop-color="#0816e6"/><stop offset=".224" stop-color="#091de8"/><stop offset=".247" stop-color="#0753ec"/><stop offset=".294" stop-color="#68e521"/><stop offset=".318" stop-color="#8ce91d"/><stop offset=".329" stop-color="#7be71f"/><stop offset=".353" stop-color="#27d83a"/><stop offset=".376" stop-color="#0070e8"/><stop offset=".4" stop-color="#0a22ea"/><stop offset=".459" stop-color="#0816e6"/><stop offset=".612" stop-color="#091ae7"/><stop offset=".635" stop-color="#0a3aed"/><stop offset=".682" stop-color="#25d73d"/><stop offset=".706" stop-color="#2edc2f"/><stop offset=".729" stop-color="#0ec17a"/><stop offset=".765" stop-color="#0a34ec"/><stop offset=".8" stop-color="#0817e6"/><stop offset="1" stop-color="#0816e6"/></linearGradient>
<linearGradient id="h109" x2="0" y2="1"><stop offset="0" stop-color="#0816e6"/><stop offset=".224" stop-color="#091ce8"/><stop offset=".247" stop-color="#084fed"/><stop offset=".294" stop-color="#63e422"/><stop offset=".318" stop-color="#89e91d"/><stop offset=".329" stop-color="#7ce71f"/><stop offset=".353" stop-color="#2ad936"/><stop offset=".388" stop-color="#0a46ee"/><stop offset=".424" stop-color="#0818e7"/><stop offset=".612" stop-color="#091ae7"/><stop offset=".635" stop-color="#0a3bed"/><stop offset=".682" stop-color="#25d73d"/><stop offset=".706" stop-color="#2ddb31"/><stop offset=".729" stop-color="#0cbd83"/><stop offset=".765" stop-color="#0a32ec"/><stop offset=".8" stop-color="#0817e6"/><stop offset="1" stop-color="#0816e6"/></linearGradient>
<linearGradient id="h110" x2="0" y2="1"><stop offset="0" stop-color="#0816e6"/><stop offset=".224" stop-color="#091ce8"/><stop offset=".247" stop-color="#094aed"/><stop offset=".294" stop-color="#5de323"/><stop offset=".306" stop-color="#7ce71f"/><stop offset=".329" stop-color="#7de71f"/><stop offset=".353" stop-color="#2ddb30"/><stop offset=".388" stop-color="#094bed"/><stop offset=".412" stop-color="#091ce8"/><stop offset=".612" stop-color="#091ae7"/><stop offset=".635" stop-color="#0a3eed"/><stop offset=".682" stop-color="#25d73d"/><stop offset=".706" stop-color="#2bda33"/><stop offset=".729" stop-color="#0ab98f"/><stop offset=".765" stop-color="#0a2feb"/><stop offset=".8" stop-color="#0817e6"/><stop offset="1" stop-color="#0816e6"/></linearGradient>
<linearGradient id="h111" x2="0" y2="1"><stop offset="0" stop-color="#0816e6"/><stop offset=".224" stop-color="#091be8"/><stop offset=".247" stop-color="#0a43ee"/><stop offset=".282" stop-color="#26d73b"/><stop offset=".306" stop-color="#77e71f"/><stop offset=".329" stop-color="#7ee71f"/><stop offset=".353" stop-color="#32de29"/><stop offset=".388" stop-color="#0850ed"/><stop offset=".412" stop-color="#091de8"/><stop offset=".6" stop-color="#0817e6"/><stop offset=".635" stop-color="#0a41ed"/><stop offset=".682" stop-color="#26d73c"/><stop offset=".706" stop-color="#2ad936"/><stop offset=".729" stop-color="#07b39e"/><stop offset=".765" stop-color="#0a2ceb"/><stop offset=".812" stop-color="#0816e6"/><stop offset="1" stop-color="#0816e6"/></linearGradient>
<linearGradient id="h112" x2="0" y2="1"><stop offset="0" stop-color="#0816e6"/><stop offset=".224" stop-color="#091ae7"/><stop offset=".247" stop-color="#0a3aed"/><stop offset=".271" stop-color="#00a1c6"/><stop offset=".294" stop-color="#49e125"/><stop offset=".306" stop-color="#70e620"/><stop offset=".329" stop-color="#7fe81e"/><stop offset=".353" stop-color="#3bdf27"/><stop offset=".388" stop-color="#0659eb"/><stop offset=".412" stop-color="#091ee9"/><stop offset=".565" stop-color="#0816e6"/><stop offset=".612" stop-color="#091be8"/><stop offset=".635" stop-color="#0a46ee"/><stop offset=".671" stop-color="#16ce57"/><stop offset=".694" stop-color="#2bda33"/><stop offset=".718" stop-color="#19d052"/><stop offset=".765" stop-color="#0a28eb"/><stop offset=".812" stop-color="#0816e6"/><stop offset="1" stop-color="#0816e6"/></linearGradient>
<linearGradient id="h113" x2="0" y2="1"><stop offset="0" stop-color="#0816e6"/><stop offset=".224" stop-color="#0819e7"/><stop offset=".247" stop-color="#0a31ec"/><stop offset=".271" stop-color="#008ed3"/><stop offset=".306" stop-color="#66e521"/><stop offset=".329" stop-color="#7fe81e"/><stop offset=".341" stop-color="#6fe620"/><stop offset=".365" stop-color="#1ed24a"/><stop offset=".388" stop-color="#0364ea"/><stop offset=".412" stop-color="#0a20e9"/><stop offset=".494" stop-color="#0816e6"/><stop offset=".612" stop-color="#091ce8"/><stop offset=".635" stop-color="#094bed"/><stop offset=".671" stop-color="#19d052"/><stop offset=".694" stop-color="#2ada35"/><stop offset=".718" stop-color="#15cd59"/><stop offset=".753" stop-color="#0a44ee"/><stop offset=".788" stop-color="#0818e7"/><stop offset="1" stop-color="#0816e6"/></linearGradient>
<linearGradient id="h114" x2="0" y2="1"><stop offset="0" stop-color="#0816e6"/><stop offset=".235" stop-color="#091ce8"/><stop offset=".259" stop-color="#094aed"/><stop offset=".306" stop-color="#58e323"/><stop offset=".329" stop-color="#7ee71f"/><stop offset=".353" stop-color="#55e224"/><stop offset=".4" stop-color="#0a46ee"/><stop offset=".435" stop-color="#0818e7"/><stop offset=".612" stop-color="#091de8"/><stop offset=".635" stop-color="#0752ec"/><stop offset=".671" stop-color="#1bd14e"/><stop offset=".694" stop-color="#29d937"/><stop offset=".718" stop-color="#10c570"/><stop offset=".753" stop-color="#0a3bed"/><stop offset=".788" stop-color="#0817e6"/><stop offset="1" stop-color="#0816e6"/></linearGradient>
<linearGradient id="h115" x2="0" y2="1"><stop offset="0" stop-color="#0816e6"/><stop offset=".235" stop-color="#091ae7"/><stop offset=".259" stop-color="#0a39ed"/><stop offset=".282" stop-color="#009ec8"/><stop offset=".306" stop-color="#44e026"/><stop offset=".318" stop-color="#6be521"/><stop offset=".341" stop-color="#78e71f"/><stop offset=".365" stop-color="#34de28"/><stop offset=".4" stop-color="#0655ec"/><stop offset=".424" stop-color="#091de8"/><stop offset=".588" stop-color="#0817e6"/><stop offset=".624" stop-color="#0a35ec"/><stop offset=".671" stop-color="#1ed349"/><stop offset=".694" stop-color="#27d83a"/><stop offset=".718" stop-color="#0ab98f"/><stop offset=".753" stop-color="#0a32ec"/><stop offset=".788" stop-color="#0817e6"/><stop offset="1" stop-color="#0816e6"/></linearGradient>
<linearGradient id="h116" x2="0" y2="1"><stop offset="0" stop-color="#0816e6"/><stop offset=".247" stop-color="#091ce8"/><stop offset=".271" stop-color="#084ded"/><stop offset=".318" stop-color="#59e323"/><stop offset=".341" stop-color="#79e71f"/><stop offset=".353" stop-color="#6ce521"/><stop offset=".376" stop-color="#20d446"/><stop offset=".4" stop-color="#0268e9"/><stop offset=".424" stop-color="#0a21ea"/><stop offset=".494" stop-color="#0816e6"/><stop offset=".6" stop-color="#091ae7"/><stop offset=".624" stop-color="#0a3eed"/><stop offset=".671" stop-color="#21d445"/><stop offset=".694" stop-color="#24d63f"/><stop offset=".718" stop-color="#03aab5"/><stop offset=".753" stop-color="#0a28eb"/><stop offset=".8" stop-color="#0816e6"/><stop offset="1" stop-color="#0816e6"/></linearGradient>
<linearGradient id="h117" x2="0" y2="1"><stop offset="0" stop-color="#0816e6"/><stop offset=".247" stop-color="#0919e7"/><stop offset=".271" stop-color="#0a36ec"/><stop offset=".294" stop-color="#0099cb"/><stop offset=".318" stop-color="#3fe026"/><stop offset=".329" stop-color="#66e422"/><stop offset=".353" stop-color="#73e620"/><stop offset=".376" stop-color="#30dd2b"/><stop offset=".412" stop-color="#0751ec"/><stop offset=".435" stop-color="#091de8"/><stop offset=".588" stop-color="#0818e7"/><stop offset=".624" stop-color="#094aed"/><stop offset=".659" stop-color="#15ce58"/><stop offset=".682" stop-color="#25d73e"/><stop offset=".706" stop-color="#0fc473"/><stop offset=".741" stop-color="#0a3ded"/><stop offset=".776" stop-color="#0817e6"/><stop offset="1" stop-color="#0816e6"/></linearGradient>
<linearGradient id="h118" x2="0" y2="1"><stop offset="0" stop-color="#0816e6"/><stop offset=".259" stop-color="#091be8"/><stop offset=".282" stop-color="#0a44ee"/><stop offset=".329" stop-color="#4de125"/><stop offset=".353" stop-color="#72e620"/><stop offset=".376" stop-color="#49e125"/><stop offset=".424" stop-color="#0a40ed"/><stop offset=".459" stop-color="#0817e6"/><stop offset=".588" stop-color="#0819e7"/><stop offset=".612" stop-color="#0a31ec"/><stop offset=".659" stop-color="#1ad050"/><stop offset=".682" stop-color="#22d542"/><stop offset=".706" stop-color="#06b2a2"/><stop offset=".741" stop-color="#0a2eeb"/><stop offset=".776" stop-color="#0817e6"/><stop offset="1" stop-color="#0816e6"/></linearGradient>
<linearGradient id="h119" x2="0" y2="1"><stop offset="0" stop-color="#0816e6"/><stop offset=".271" stop-color="#091ce8"/><stop offset=".294" stop-color="#084ded"/><stop offset=".341" stop-color="#54e224"/><stop offset=".365" stop-color="#6de521"/><stop offset=".388" stop-color="#37df27"/><stop offset=".424" stop-color="#055aeb"/><stop offset=".447" stop-color="#091ee9"/><stop offset=".565" stop-color="#0816e6"/><stop offset=".6" stop-color="#0a21ea"/><stop offset=".635" stop-color="#0099cb"/><stop offset=".659" stop-color="#1dd24b"/><stop offset=".682" stop-color="#1dd24b"/><stop offset=".741" stop-color="#0a21ea"/><stop offset=".8" stop-color="#0816e6"/><stop offset="1" stop-color="#0816e6"/></linearGradient>
<linearGradient id="h120" x2="0" y2="1"><stop offset="0" stop-color="#0816e6"/><stop offset=".282" stop-color="#091de8"/><stop offset=".306" stop-color="#0752ec"/><stop offset=".353" stop-color="#55e224"/><stop offset=".376" stop-color="#67e521"/><stop offset=".4" stop-color="#2cdb32"/><stop offset=".435" stop-color="#084eed"/><stop offset=".459" stop-color="#091ce8"/><stop offset=".576" stop-color="#0818e7"/><stop offset=".6" stop-color="#0a2ceb"/><stop offset=".647" stop-color="#15ce58"/><stop offset=".671" stop-color="#1fd348"/><stop offset=".694" stop-color="#05aeab"/><stop offset=".729" stop-color="#0a2deb"/><stop offset=".776" stop-color="#0816e6"/><stop offset="1" stop-color="#0816e6"/></linearGradient>
<linearGradient id="h121" x2="0" y2="1"><stop offset="0" stop-color="#0816e6"/><stop offset=".294" stop-color="#091de8"/><stop offset=".318" stop-color="#0752ec"/><stop offset=".365" stop-color="#51e224"/><stop offset=".388" stop-color="#5fe422"/><stop offset=".412" stop-color="#25d73d"/><stop offset=".447" stop-color="#0a47ee"/><stop offset=".471" stop-color="#091be8"/><stop offset=".576" stop-color="#091ae7"/><stop offset=".6" stop-color="#0a3eed"/><stop offset=".635" stop-color="#0ec179"/><stop offset=".659" stop-color="#1fd348"/><stop offset=".682" stop-color="#0cbd84"/><stop offset=".718" stop-color="#0a3aed"/><stop offset=".753" stop-color="#0817e6"/><stop offset="1" stop-color="#0816e6"/></linearGradient>
<linearGradient id="h122" x2="0" y2="1"><stop offset="0" stop-color="#0816e6"/><stop offset=".306" stop-color="#091ce8"/><stop offset=".329" stop-color="#084ced"/><stop offset=".376" stop-color="#49e125"/><stop offset=".4" stop-color="#58e323"/><stop offset=".424" stop-color="#21d544"/><stop offset=".459" stop-color="#0a42ee"/><stop offset=".494" stop-color="#0817e6"/><stop offset=".576" stop-color="#091de8"/><stop offset=".6" stop-color="#0754ec"/><stop offset=".635" stop-color="#16ce57"/><stop offset=".659" stop-color="#1cd14d"/><stop offset=".682" stop-color="#00a1c6"/><stop offset=".718" stop-color="#0a24ea"/><stop offset=".765" stop-color="#0816e6"/><stop offset="1" stop-color="#0816e6"/></linearGradient>
<linearGradient id="h123" x2="0" y2="1"><stop offset="0" stop-color="#0816e6"/><stop offset=".318" stop-color="#091ae7"/><stop offset=".341" stop-color="#0a41ed"/><stop offset=".388" stop-color="#3bdf27"/><stop offset=".412" stop-color="#4fe224"/><stop offset=".435" stop-color="#20d446"/><stop offset=".471" stop-color="#0a42ee"/><stop offset=".506" stop-color="#0817e6"/><stop offset=".565" stop-color="#091be8"/><stop offset=".588" stop-color="#0a46ee"/><stop offset=".624" stop-color="#10c56f"/><stop offset=".647" stop-color="#1bd14f"/><stop offset=".671" stop-color="#02a9b8"/><stop offset=".706" stop-color="#0a29eb"/><stop offset=".753" stop-color="#0816e6"/><stop offset="1" stop-color="#0816e6"/></linearGradient>
<linearGradient id="h124" x2="0" y2="1"><stop offset="0" stop-color="#0816e6"/><stop offset=".329" stop-color="#0819e7"/><stop offset=".353" stop-color="#0a31ec"/><stop offset=".4" stop-color="#2bda33"/><stop offset=".424" stop-color="#44e026"/><stop offset=".447" stop-color="#20d446"/><stop offset=".482" stop-color="#0a46ee"/><stop offset=".506" stop-color="#091be8"/><stop offset=".565" stop-color="#0a23ea"/><stop offset=".588" stop-color="#0461ea"/><stop offset=".612" stop-color="#0ab98f"/><stop offset=".635" stop-color="#18cf54"/><stop offset=".659" stop-color="#03abb3"/><stop offset=".694" stop-color="#0a2ceb"/><stop offset=".741" stop-color="#0816e6"/><stop offset="1" stop-color="#0816e6"/></linearGradient>
<linearGradient id="h125" x2="0" y2="1"><stop offset="0" stop-color="#0816e6"/><stop offset=".353" stop-color="#091ae7"/><stop offset=".376" stop-color="#0a3fed"/><stop offset=".424" stop-color="#2ddb30"/><stop offset=".447" stop-color="#31dd2a"/><stop offset=".471" stop-color="#09b793"/><stop offset=".494" stop-color="#084eed"/><stop offset=".506" stop-color="#0a2deb"/><stop offset=".576" stop-color="#0461ea"/><stop offset=".612" stop-color="#10c56f"/><stop offset=".635" stop-color="#0fc276"/><stop offset=".682" stop-color="#0a2beb"/><stop offset=".729" stop-color="#0816e6"/><stop offset="1" stop-color="#0816e6"/></linearGradient>
<linearGradient id="h126" x2="0" y2="1"><stop offset="0" stop-color="#0816e6"/><stop offset=".376" stop-color="#091be8"/><stop offset=".4" stop-color="#0a46ee"/><stop offset=".435" stop-color="#18cf53"/><stop offset=".459" stop-color="#29d938"/><stop offset=".482" stop-color="#0ec179"/><stop offset=".506" stop-color="#0460ea"/><stop offset=".518" stop-color="#0753ec"/><stop offset=".553" stop-color="#0080dc"/><stop offset=".588" stop-color="#01a7bd"/><stop offset=".612" stop-color="#0dbf7f"/><stop offset=".635" stop-color="#009cca"/><stop offset=".671" stop-color="#0a26ea"/><stop offset=".718" stop-color="#0816e6"/><stop offset="1" stop-color="#0816e6"/></linearGradient>
<linearGradient id="h127" x2="0" y2="1"><stop offset="0" stop-color="#0816e6"/><stop offset=".4" stop-color="#091ae7"/><stop offset=".424" stop-color="#0a41ed"/><stop offset=".459" stop-color="#0fc373"/><stop offset=".482" stop-color="#19d052"/><stop offset=".518" stop-color="#008bd5"/><stop offset=".565" stop-color="#0ab98f"/><stop offset=".612" stop-color="#00a4c4"/><stop offset=".659" stop-color="#0a20e9"/><stop offset=".729" stop-color="#0816e6"/><stop offset="1" stop-color="#0816e6"/></linearGradient>
<linearGradient id="h128" x2="0" y2="1"><stop offset="0" stop-color="#0816e6"/><stop offset=".424" stop-color="#0818e7"/><stop offset=".459" stop-color="#0755ec"/><stop offset=".482" stop-color="#00a2c5"/><stop offset=".553" stop-color="#2ada35"/><stop offset=".576" stop-color="#18cf54"/><stop offset=".635" stop-color="#0a27eb"/><stop offset=".682" stop-color="#0816e6"/><stop offset="1" stop-color="#0816e6"/></linearGradient>
<linearGradient id="h129" x2="0" y2="1"><stop offset="0" stop-color="#0816e6"/><stop offset=".459" stop-color="#0818e7"/><stop offset=".482" stop-color="#0a2ceb"/><stop offset=".506" stop-color="#0084da"/><stop offset=".529" stop-color="#3edf27"/><stop offset=".541" stop-color="#6ae521"/><stop offset=".553" stop-color="#72e620"/><stop offset=".565" stop-color="#5ce323"/><stop offset=".6" stop-color="#045fea"/><stop offset=".624" stop-color="#091ce8"/><stop offset="1" stop-color="#0816e6"/></linearGradient>
<linearGradient id="h130" x2="0" y2="1"><stop offset="0" stop-color="#0816e6"/><stop offset=".471" stop-color="#0818e7"/><stop offset=".494" stop-color="#0a3ded"/><stop offset=".506" stop-color="#007fde"/><stop offset=".529" stop-color="#6ae521"/><stop offset=".541" stop-color="#bbec19"/><stop offset=".553" stop-color="#d1ee17"/><stop offset=".565" stop-color="#a7eb1b"/><stop offset=".6" stop-color="#0267e9"/><stop offset=".612" stop-color="#0a2eeb"/><stop offset=".635" stop-color="#0817e6"/><stop offset="1" stop-color="#0816e6"/></linearGradient>
<linearGradient id="h131" x2="0" y2="1"><stop offset="0" stop-color="#0816e6"/><stop offset=".471" stop-color="#0818e7"/><stop offset=".494" stop-color="#0a40ed"/><stop offset=".506" stop-color="#0086d9"/><stop offset=".529" stop-color="#7ae71f"/><stop offset=".541" stop-color="#daee16"/><stop offset=".553" stop-color="#f0f014"/><stop offset=".565" stop-color="#c5ed18"/><stop offset=".576" stop-color="#60e422"/><stop offset=".6" stop-color="#016ce9"/><stop offset=".612" stop-color="#0a31ec"/><stop offset=".635" stop-color="#0817e6"/><stop offset="1" stop-color="#0816e6"/></linearGradient>
<linearGradient id="h132" x2="0" y2="1"><stop offset="0" stop-color="#0816e6"/><stop offset=".471" stop-color="#0818e7"/><stop offset=".494" stop-color="#0a42ee"/><stop offset=".506" stop-color="#008ad6"/><stop offset=".529" stop-color="#87e81e"/><stop offset=".541" stop-color="#f0f014"/><stop offset=".553" stop-color="#f3e612"/><stop offset=".565" stop-color="#daee16"/><stop offset=".576" stop-color="#6ae521"/><stop offset=".6" stop-color="#0070e8"/><stop offset=".612" stop-color="#0a32ec"/><stop offset=".635" stop-color="#0817e6"/><stop offset="1" stop-color="#0816e6"/></linearGradient>
<linearGradient id="h133" x2="0" y2="1"><stop offset="0" stop-color="#0816e6"/><stop offset=".471" stop-color="#0818e7"/><stop offset=".494" stop-color="#0a43ee"/><stop offset=".506" stop-color="#008cd4"/><stop offset=".529" stop-color="#8de91d"/><stop offset=".541" stop-color="#f1ed13"/><stop offset=".553" stop-color="#f4e211"/><stop offset=".565" stop-color="#e1ef15"/><stop offset=".576" stop-color="#6ee521"/><stop offset=".6" stop-color="#0071e7"/><stop offset=".612" stop-color="#0a33ec"/><stop offset=".635" stop-color="#0817e6"/><stop offset="1" stop-color="#0816e6"/></linearGradient>
<linearGradient id="h134" x2="0" y2="1"><stop offset="0" stop-color="#0816e6"/><stop offset=".471" stop-color="#0818e7"/><stop offset=".494" stop-color="#0a41ed"/><stop offset=".506" stop-color="#0089d6"/><stop offset=".529" stop-color="#84e81e"/><stop offset=".541" stop-color="#ecf014"/><stop offset=".553" stop-color="#f3e712"/><stop offset=".565" stop-color="#d6ee16"/><stop offset=".576" stop-color="#68e521"/><stop offset=".6" stop-color="#006fe8"/><stop offset=".612" stop-color="#0a32ec"/><stop offset=".635" stop-color="#0817e6"/><stop offset="1" stop-color="#0816e6"/></linearGradient>
<linearGradient id="h135" x2="0" y2="1"><stop offset="0" stop-color="#0816e6"/><stop offset=".471" stop-color="#0818e7"/><stop offset=".494" stop-color="#0a40ed"/><stop offset=".506" stop-color="#0087d8"/><stop offset=".529" stop-color="#7de71f"/><stop offset=".541" stop-color="#e0ef15"/><stop offset=".553" stop-color="#f1ed13"/><stop offset=".565" stop-color="#cbed17"/><stop offset=".576" stop-color="#63e422"/><stop offset=".6" stop-color="#016de8"/><stop offset=".612" stop-color="#0a31ec"/><stop offset=".635" stop-color="#0817e6"/><stop offset="1" stop-color="#0816e6"/></linearGradient>
<linearGradient id="h136" x2="0" y2="1"><stop offset="0" stop-color="#0816e6"/><stop offset=".471" stop-color="#0818e7"/><stop offset=".494" stop-color="#0a3fed"/><stop offset=".506" stop-color="#0084da"/><stop offset=".529" stop-color="#77e71f"/><stop offset=".541" stop-color="#d4ee17"/><stop offset=".553" stop-color="#ebf014"/><stop offset=".565" stop-color="#bfec18"/><stop offset=".576" stop-color="#5de323"/><stop offset=".6" stop-color="#016be9"/><stop offset=".612" stop-color="#0a30ec"/><stop offset=".635" stop-color="#0817e6"/><stop offset="1" stop-color="#0816e6"/></linearGradient>
<linearGradient id="h137" x2="0" y2="1"><stop offset="0" stop-color="#0816e6"/><stop offset=".471" stop-color="#0818e7"/><stop offset=".494" stop-color="#0a3eed"/><stop offset=".506" stop-color="#0082dc"/><stop offset=".529" stop-color="#71e620"/><stop offset=".541" stop-color="#c9ed18"/><stop offset=".553" stop-color="#dfef16"/><stop offset=".565" stop-color="#b4ec19"/><stop offset=".576" stop-color="#57e323"/><stop offset=".6" stop-color="#026ae9"/><stop offset=".612" stop-color="#0a2feb"/><stop offset=".635" stop-color="#0817e6"/><stop offset="1" stop-color="#0816e6"/></linearGradient>
<linearGradient id="h138" x2="0" y2="1"><stop offset="0" stop-color="#0816e6"/><stop offset=".471" stop-color="#0818e7"/><stop offset=".494" stop-color="#0a3ded"/><stop offset=".506" stop-color="#007fdd"/><stop offset=".529" stop-color="#6be521"/><stop offset=".541" stop-color="#bdec19"/><stop offset=".553" stop-color="#d2ee17"/><stop offset=".565" stop-color="#a9eb1a"/><stop offset=".6" stop-color="#0268e9"/><stop offset=".612" stop-color="#0a2eeb"/><stop offset=".635" stop-color="#0817e6"/><stop offset="1" stop-color="#0816e6"/></linearGradient>
<linearGradient id="h139" x2="0" y2="1"><stop offset="0" stop-color="#0816e6"/><stop offset=".471" stop-color="#0818e7"/><stop offset=".494" stop-color="#0a3bed"/><stop offset=".506" stop-color="#007ce0"/><stop offset=".529" stop-color="#63e422"/><stop offset=".541" stop-color="#aeeb1a"/><stop offset=".553" stop-color="#c3ed18"/><stop offset=".565" stop-color="#9aea1c"/><stop offset=".6" stop-color="#0365ea"/><stop offset=".612" stop-color="#0a2deb"/><stop offset=".635" stop-color="#0817e6"/><stop offset="1" stop-color="#0816e6"/></linearGradient>
<linearGradient id="h140" x2="0" y2="1"><stop offset="0" stop-color="#0816e6"/><stop offset=".471" stop-color="#0818e7"/><stop offset=".494" stop-color="#0a39ed"/><stop offset=".506" stop-color="#0077e3"/><stop offset=".529" stop-color="#59e323"/><stop offset=".541" stop-color="#9aea1c"/><stop offset=".553" stop-color="#aeeb1a"/><stop offset=".565" stop-color="#87e81e"/><stop offset=".6" stop-color="#0362ea"/><stop offset=".612" stop-color="#0a2ceb"/><stop offset=".647" stop-color="#0816e6"/><stop offset="1" stop-color="#0816e6"/></linearGradient>
<linearGradient id="h141" x2="0" y2="1"><stop offset="0" stop-color="#0816e6"/><stop offset=".471" stop-color="#0818e7"/><stop offset=".494" stop-color="#0a37ec"/><stop offset=".506" stop-color="#0073e6"/><stop offset=".529" stop-color="#4ee224"/><stop offset=".541" stop-color="#85e81e"/><stop offset=".553" stop-color="#99ea1c"/><stop offset=".565" stop-color="#79e71f"/><stop offset=".6" stop-color="#045fea"/><stop offset=".612" stop-color="#0a2aeb"/><stop offset=".647" stop-color="#0816e6"/><stop offset="1" stop-color="#0816e6"/></linearGradient>
<linearGradient id="h142" x2="0" y2="1"><stop offset="0" stop-color="#0816e6"/><stop offset=".482" stop-color="#091ce8"/><stop offset=".494" stop-color="#0a35ec"/><stop offset=".506" stop-color="#006fe8"/><stop offset=".529" stop-color="#44e026"/><stop offset=".541" stop-color="#78e71f"/><stop offset=".553" stop-color="#84e81e"/><stop offset=".565" stop-color="#6de521"/><stop offset=".6" stop-color="#055ceb"/><stop offset=".612" stop-color="#0a29eb"/><stop offset=".647" stop-color="#0816e6"/><stop offset="1" stop-color="#0816e6"/></linearGradient>
<linearGradient id="h143" x2="0" y2="1"><stop offset="0" stop-color="#0816e6"/><stop offset=".482" stop-color="#091ce8"/><stop offset=".494" stop-color="#0a34ec"/><stop offset=".506" stop-color="#016ce9"/><stop offset=".529" stop-color="#3edf27"/><stop offset=".541" stop-color="#70e620"/><stop offset=".553" stop-color="#7ce71f"/><stop offset=".565" stop-color="#66e422"/><stop offset=".6" stop-color="#055aeb"/><stop offset=".612" stop-color="#0a28eb"/><stop offset=".647" stop-color="#0816e6"/><stop offset="1" stop-color="#0816e6"/></linearGradient>
<linearGradient id="h144" x2="0" y2="1"><stop offset="0" stop-color="#0816e6"/><stop offset=".482" stop-color="#091ce8"/><stop offset=".494" stop-color="#0a33ec"/><stop offset=".506" stop-color="#016ae9"/><stop offset=".529" stop-color="#38df27"/><stop offset=".541" stop-color="#6ae521"/><stop offset=".553" stop-color="#75e620"/><stop offset=".565" stop-color="#5fe422"/><stop offset=".6" stop-color="#0658eb"/><stop offset=".612" stop-color="#0a27eb"/><stop offset=".647" stop-color="#0816e6"/><stop offset="1" stop-color="#0816e6"/></linearGradient>
<linearGradient id="h145" x2="0" y2="1"><stop offset="0" stop-color="#0816e6"/><stop offset=".482" stop-color="#091ce8"/><stop offset=".494" stop-color="#0a32ec"/><stop offset=".506" stop-color="#0268e9"/><stop offset=".529" stop-color="#33de28"/><stop offset=".541" stop-color="#63e422"/><stop offset=".553" stop-color="#6ee521"/><stop offset=".565" stop-color="#59e323"/><stop offset=".6" stop-color="#0657ec"/><stop offset=".624" stop-color="#091ae7"/><stop offset="1" stop-color="#0816e6"/></linearGradient>
<linearGradient id="h146" x2="0" y2="1"><stop offset="0" stop-color="#0816e6"/><stop offset=".482" stop-color="#091ce8"/><stop offset=".494" stop-color="#0a31ec"/><stop offset=".518" stop-color="#07b49c"/><stop offset=".529" stop-color="#2fdd2c"/><stop offset=".541" stop-color="#5de323"/><stop offset=".553" stop-color="#67e521"/><stop offset=".565" stop-color="#53e224"/><stop offset=".6" stop-color="#0655ec"/><stop offset=".624" stop-color="#091ae7"/><stop offset="1" stop-color="#0816e6"/></linearGradient>
<linearGradient id="h147" x2="0" y2="1"><stop offset="0" stop-color="#0816e6"/><stop offset=".482" stop-color="#091ce8"/><stop offset=".494" stop-color="#0a30ec"/><stop offset=".518" stop-color="#06b0a6"/><stop offset=".529" stop-color="#2cdb32"/><stop offset=".541" stop-color="#56e224"/><stop offset=".553" stop-color="#60e422"/><stop offset=".565" stop-color="#4ce125"/><stop offset=".6" stop-color="#0753ec"/><stop offset=".624" stop-color="#091ae7"/><stop offset="1" stop-color="#0816e6"/></linearGradient>
<linearGradient id="h148" x2="0" y2="1"><stop offset="0" stop-color="#0816e6"/><stop offset=".482" stop-color="#091be8"/><stop offset=".506" stop-color="#0460ea"/><stop offset=".529" stop-color="#26d73d"/><stop offset=".541" stop-color="#48e125"/><stop offset=".553" stop-color="#52e224"/><stop offset=".565" stop-color="#3fe026"/><stop offset=".6" stop-color="#0850ed"/><stop offset=".624" stop-color="#091ae7"/><stop offset="1" stop-color="#0816e6"/></linearGradient>
<linearGradient id="h149" x2="0" y2="1"><stop offset="0" stop-color="#0816e6"/><stop offset=".482" stop-color="#091be8"/><stop offset=".506" stop-color="#055beb"/><stop offset=".529" stop-color="#1ed349"/><stop offset=".541" stop-color="#39df27"/><stop offset=".553" stop-color="#43e026"/><stop offset=".565" stop-color="#31de29"/><stop offset=".6" stop-color="#094ced"/><stop offset=".624" stop-color="#091ae7"/><stop offset="1" stop-color="#0816e6"/></linearGradient>
<linearGradient id="h150" x2="0" y2="1"><stop offset="0" stop-color="#0816e6"/><stop offset=".482" stop-color="#091be8"/><stop offset=".506" stop-color="#0656ec"/><stop offset=".529" stop-color="#17cf54"/><stop offset=".541" stop-color="#2edc2f"/><stop offset=".553" stop-color="#33de28"/><stop offset=".565" stop-color="#29d937"/><stop offset=".6" stop-color="#0948ee"/><stop offset=".624" stop-color="#0919e7"/><stop offset="1" stop-color="#0816e6"/></linearGradient>
<linearGradient id="h151" x2="0" y2="1"><stop offset="0" stop-color="#0816e6"/><stop offset=".482" stop-color="#091ae7"/><stop offset=".506" stop-color="#094bed"/><stop offset=".541" stop-color="#1ad050"/><stop offset=".565" stop-color="#16ce57"/><stop offset=".6" stop-color="#0a3eed"/><stop offset=".624" stop-color="#0819e7"/><stop offset="1" stop-color="#0816e6"/></linearGradient>
<linearGradient id="h152" x2="0" y2="1"><stop offset="0" stop-color="#0816e6"/><stop offset=".482" stop-color="#0919e7"/><stop offset=".506" stop-color="#0a3ced"/><stop offset=".541" stop-color="#03abb4"/><stop offset=".565" stop-color="#00a6c1"/><stop offset=".612" stop-color="#091de8"/><stop offset=".847" stop-color="#0816e6"/><stop offset="1" stop-color="#0816e6"/></linearGradient>
<linearGradient id="h153" x2="0" y2="1"><stop offset="0" stop-color="#0816e6"/><stop offset=".494" stop-color="#091ce8"/><stop offset=".541" stop-color="#016ce9"/><stop offset=".576" stop-color="#0656ec"/><stop offset=".612" stop-color="#091ae7"/><stop offset="1" stop-color="#0816e6"/></linearGradient>
<linearGradient id="h154" x2="0" y2="1"><stop offset="0" stop-color="#0816e6"/><stop offset=".506" stop-color="#091ce8"/><stop offset=".553" stop-color="#0a3aed"/><stop offset=".635" stop-color="#0816e6"/><stop offset="1" stop-color="#0816e6"/></linearGradient>
<clipPath id="cp3"><rect x="534.2" y="304.2" width="113.8" height="84.9"/></clipPath>
<linearGradient id="h155" x2="0" y2="1"><stop offset="0" stop-color="#0816e6"/><stop offset=".188" stop-color="#091ae7"/><stop offset=".224" stop-color="#0754ec"/><stop offset=".271" stop-color="#60e422"/><stop offset=".294" stop-color="#a3ea1b"/><stop offset=".318" stop-color="#8ae91d"/><stop offset=".341" stop-color="#30dd2b"/><stop offset=".376" stop-color="#0656ec"/><stop offset=".412" stop-color="#091ae7"/><stop offset=".612" stop-color="#091ce8"/><stop offset=".635" stop-color="#0a48ee"/><stop offset=".682" stop-color="#41e026"/><stop offset=".706" stop-color="#5fe422"/><stop offset=".729" stop-color="#37df27"/><stop offset=".776" stop-color="#0a3eed"/><stop offset=".812" stop-color="#0818e7"/><stop offset="1" stop-color="#0816e6"/></linearGradient>
<linearGradient id="h156" x2="0" y2="1"><stop offset="0" stop-color="#0816e6"/><stop offset=".188" stop-color="#0919e7"/><stop offset=".224" stop-color="#0753ec"/><stop offset=".271" stop-color="#5ee422"/><stop offset=".294" stop-color="#9fea1b"/><stop offset=".318" stop-color="#87e81e"/><stop offset=".341" stop-color="#30dd2c"/><stop offset=".376" stop-color="#0656ec"/><stop offset=".412" stop-color="#091ae7"/><stop offset=".612" stop-color="#091ce8"/><stop offset=".635" stop-color="#0a48ee"/><stop offset=".682" stop-color="#40e026"/><stop offset=".706" stop-color="#5fe422"/><stop offset=".729" stop-color="#36df27"/><stop offset=".776" stop-color="#0a3ded"/><stop offset=".812" stop-color="#0818e7"/><stop offset="1" stop-color="#0816e6"/></linearGradient>
<linearGradient id="h157" x2="0" y2="1"><stop offset="0" stop-color="#0816e6"/><stop offset=".188" stop-color="#0919e7"/><stop offset=".224" stop-color="#0752ec"/><stop offset=".271" stop-color="#5be323"/><stop offset=".294" stop-color="#9bea1c"/><stop offset=".318" stop-color="#84e81e"/><stop offset=".341" stop-color="#2fdd2c"/><stop offset=".376" stop-color="#0656ec"/><stop offset=".412" stop-color="#091ae7"/><stop offset=".612" stop-color="#091ce8"/><stop offset=".635" stop-color="#0948ee"/><stop offset=".682" stop-color="#40e026"/><stop offset=".706" stop-color="#5ee323"/><stop offset=".729" stop-color="#35de28"/><stop offset=".776" stop-color="#0a3ded"/><stop offset=".812" stop-color="#0818e7"/><stop offset="1" stop-color="#0816e6"/></linearGradient>
<linearGradient id="h158" x2="0" y2="1"><stop offset="0" stop-color="#0816e6"/><stop offset=".188" stop-color="#0919e7"/><stop offset=".224" stop-color="#0850ed"/><stop offset=".282" stop-color="#7de71f"/><stop offset=".306" stop-color="#99ea1c"/><stop offset=".329" stop-color="#60e422"/><stop offset=".376" stop-color="#0657ec"/><stop offset=".412" stop-color="#091ae7"/><stop offset=".612" stop-color="#091ce8"/><stop offset=".635" stop-color="#0949ee"/><stop offset=".682" stop-color="#40e026"/><stop offset=".706" stop-color="#5de323"/><stop offset=".729" stop-color="#33de28"/><stop offset=".776" stop-color="#0a3ced"/><stop offset=".812" stop-color="#0817e6"/><stop offset="1" stop-color="#0816e6"/></linearGradient>
<linearGradient id="h159" x2="0" y2="1"><stop offset="0" stop-color="#0816e6"/><stop offset=".2" stop-color="#091de8"/><stop offset=".224" stop-color="#084ded"/><stop offset=".282" stop-color="#79e71f"/><stop offset=".306" stop-color="#96e91c"/><stop offset=".329" stop-color="#61e422"/><stop offset=".376" stop-color="#0559eb"/><stop offset=".412" stop-color="#091ae7"/><stop offset=".612" stop-color="#091ce8"/><stop offset=".635" stop-color="#094aed"/><stop offset=".682" stop-color="#41e026"/><stop offset=".706" stop-color="#5ce323"/><stop offset=".729" stop-color="#31de29"/><stop offset=".776" stop-color="#0a3aed"/><stop offset=".812" stop-color="#0817e6"/><stop offset="1" stop-color="#0816e6"/></linearGradient>
<linearGradient id="h160" x2="0" y2="1"><stop offset="0" stop-color="#0816e6"/><stop offset=".2" stop-color="#091de8"/><stop offset=".224" stop-color="#0949ee"/><stop offset=".282" stop-color="#74e620"/><stop offset=".306" stop-color="#92e91d"/><stop offset=".329" stop-color="#63e422"/><stop offset=".376" stop-color="#055deb"/><stop offset=".4" stop-color="#0a20e9"/><stop offset=".482" stop-color="#0816e6"/><stop offset=".612" stop-color="#091de8"/><stop offset=".635" stop-color="#084ced"/><stop offset=".682" stop-color="#42e026"/><stop offset=".706" stop-color="#5be323"/><stop offset=".729" stop-color="#2fdd2c"/><stop offset=".776" stop-color="#0a37ec"/><stop offset=".812" stop-color="#0817e6"/><stop offset="1" stop-color="#0816e6"/></linearGradient>
<linearGradient id="h161" x2="0" y2="1"><stop offset="0" stop-color="#0816e6"/><stop offset=".2" stop-color="#091ce8"/><stop offset=".224" stop-color="#0a44ee"/><stop offset=".259" stop-color="#1dd24b"/><stop offset=".282" stop-color="#6de521"/><stop offset=".306" stop-color="#8fe91d"/><stop offset=".329" stop-color="#66e422"/><stop offset=".376" stop-color="#0362ea"/><stop offset=".4" stop-color="#0a21ea"/><stop offset=".471" stop-color="#0816e6"/><stop offset=".612" stop-color="#091de8"/><stop offset=".635" stop-color="#0850ed"/><stop offset=".682" stop-color="#44e026"/><stop offset=".706" stop-color="#5ae323"/><stop offset=".729" stop-color="#2ddb30"/><stop offset=".765" stop-color="#055aeb"/><stop offset=".788" stop-color="#091fe9"/><stop offset=".906" stop-color="#0816e6"/><stop offset="1" stop-color="#0816e6"/></linearGradient>
<linearGradient id="h162" x2="0" y2="1"><stop offset="0" stop-color="#0816e6"/><stop offset=".2" stop-color="#091be8"/><stop offset=".224" stop-color="#0a3ded"/><stop offset=".259" stop-color="#16ce56"/><stop offset=".282" stop-color="#65e422"/><stop offset=".306" stop-color="#8be91d"/><stop offset=".329" stop-color="#6ae521"/><stop offset=".388" stop-color="#0a42ee"/><stop offset=".424" stop-color="#0818e7"/><stop offset=".6" stop-color="#0819e7"/><stop offset=".624" stop-color="#0a2feb"/><stop offset=".647" stop-color="#0084da"/><stop offset=".682" stop-color="#47e125"/><stop offset=".706" stop-color="#58e323"/><stop offset=".729" stop-color="#2ad936"/><stop offset=".765" stop-color="#0655ec"/><stop offset=".788" stop-color="#091ee9"/><stop offset=".941" stop-color="#0816e6"/><stop offset="1" stop-color="#0816e6"/></linearGradient>
<linearGradient id="h163" x2="0" y2="1"><stop offset="0" stop-color="#0816e6"/><stop offset=".2" stop-color="#091ae7"/><stop offset=".235" stop-color="#0659eb"/><stop offset=".282" stop-color="#5ae323"/><stop offset=".306" stop-color="#87e81e"/><stop offset=".329" stop-color="#6fe620"/><stop offset=".388" stop-color="#0949ee"/><stop offset=".424" stop-color="#0819e7"/><stop offset=".6" stop-color="#0919e7"/><stop offset=".624" stop-color="#0a33ec"/><stop offset=".659" stop-color="#10c471"/><stop offset=".682" stop-color="#4ae125"/><stop offset=".706" stop-color="#56e323"/><stop offset=".729" stop-color="#25d73d"/><stop offset=".765" stop-color="#084fed"/><stop offset=".8" stop-color="#0819e7"/><stop offset="1" stop-color="#0816e6"/></linearGradient>
<linearGradient id="h164" x2="0" y2="1"><stop offset="0" stop-color="#0816e6"/><stop offset=".212" stop-color="#091de8"/><stop offset=".235" stop-color="#084ded"/><stop offset=".294" stop-color="#70e620"/><stop offset=".318" stop-color="#82e81e"/><stop offset=".341" stop-color="#52e224"/><stop offset=".388" stop-color="#0752ec"/><stop offset=".424" stop-color="#0919e7"/><stop offset=".6" stop-color="#091ae7"/><stop offset=".624" stop-color="#0a39ed"/><stop offset=".671" stop-color="#2fdd2c"/><stop offset=".694" stop-color="#58e323"/><stop offset=".718" stop-color="#3cdf27"/><stop offset=".765" stop-color="#0948ee"/><stop offset=".8" stop-color="#0818e7"/><stop offset="1" stop-color="#0816e6"/></linearGradient>
<linearGradient id="h165" x2="0" y2="1"><stop offset="0" stop-color="#0816e6"/><stop offset=".212" stop-color="#091ce8"/><stop offset=".235" stop-color="#0a40ed"/><stop offset=".271" stop-color="#19d052"/><stop offset=".294" stop-color="#64e422"/><stop offset=".318" stop-color="#80e81e"/><stop offset=".341" stop-color="#5ce323"/><stop offset=".388" stop-color="#045deb"/><stop offset=".424" stop-color="#091be8"/><stop offset=".6" stop-color="#091be8"/><stop offset=".624" stop-color="#0a40ed"/><stop offset=".671" stop-color="#34de28"/><stop offset=".694" stop-color="#57e323"/><stop offset=".718" stop-color="#34de28"/><stop offset=".765" stop-color="#0a3fed"/><stop offset=".8" stop-color="#0818e7"/><stop offset="1" stop-color="#0816e6"/></linearGradient>
<linearGradient id="h166" x2="0" y2="1"><stop offset="0" stop-color="#0816e6"/><stop offset=".212" stop-color="#091ae7"/><stop offset=".247" stop-color="#0655ec"/><stop offset=".294" stop-color="#53e224"/><stop offset=".318" stop-color="#7ce71f"/><stop offset=".341" stop-color="#66e422"/><stop offset=".4" stop-color="#0a45ee"/><stop offset=".435" stop-color="#0818e7"/><stop offset=".6" stop-color="#091ce8"/><stop offset=".624" stop-color="#0949ee"/><stop offset=".671" stop-color="#3cdf27"/><stop offset=".694" stop-color="#55e224"/><stop offset=".718" stop-color="#2ddb31"/><stop offset=".765" stop-color="#0a35ec"/><stop offset=".8" stop-color="#0817e6"/><stop offset="1" stop-color="#0816e6"/></linearGradient>
<linearGradient id="h167" x2="0" y2="1"><stop offset="0" stop-color="#0816e6"/><stop offset=".224" stop-color="#091ce8"/><stop offset=".247" stop-color="#0a44ee"/><stop offset=".306" stop-color="#63e422"/><stop offset=".329" stop-color="#79e71f"/><stop offset=".353" stop-color="#4fe224"/><stop offset=".4" stop-color="#0753ec"/><stop offset=".435" stop-color="#091ae7"/><stop offset=".588" stop-color="#0819e7"/><stop offset=".612" stop-color="#0a2eeb"/><stop offset=".647" stop-color="#0bbc88"/><stop offset=".671" stop-color="#42e026"/><stop offset=".694" stop-color="#52e224"/><stop offset=".718" stop-color="#24d63f"/><stop offset=".753" stop-color="#084fed"/><stop offset=".788" stop-color="#0819e7"/><stop offset="1" stop-color="#0816e6"/></linearGradient>
<linearGradient id="h168" x2="0" y2="1"><stop offset="0" stop-color="#0816e6"/><stop offset=".224" stop-color="#091ae7"/><stop offset=".259" stop-color="#0753ec"/><stop offset=".306" stop-color="#4ee125"/><stop offset=".329" stop-color="#75e620"/><stop offset=".353" stop-color="#5ee323"/><stop offset=".412" stop-color="#0a3fed"/><stop offset=".447" stop-color="#0818e7"/><stop offset=".588" stop-color="#091ae7"/><stop offset=".612" stop-color="#0a38ec"/><stop offset=".659" stop-color="#2edc2f"/><stop offset=".682" stop-color="#51e224"/><stop offset=".706" stop-color="#33de28"/><stop offset=".753" stop-color="#0a41ed"/><stop offset=".788" stop-color="#0818e7"/><stop offset="1" stop-color="#0816e6"/></linearGradient>
<linearGradient id="h169" x2="0" y2="1"><stop offset="0" stop-color="#0816e6"/><stop offset=".235" stop-color="#091be8"/><stop offset=".259" stop-color="#0a3bed"/><stop offset=".294" stop-color="#13cc5d"/><stop offset=".318" stop-color="#58e323"/><stop offset=".341" stop-color="#71e620"/><stop offset=".365" stop-color="#4be125"/><stop offset=".412" stop-color="#0752ec"/><stop offset=".447" stop-color="#0919e7"/><stop offset=".588" stop-color="#091be8"/><stop offset=".612" stop-color="#0a45ee"/><stop offset=".659" stop-color="#36de28"/><stop offset=".682" stop-color="#4fe224"/><stop offset=".706" stop-color="#29d938"/><stop offset=".741" stop-color="#0657ec"/><stop offset=".765" stop-color="#091ee9"/><stop offset=".906" stop-color="#0816e6"/><stop offset="1" stop-color="#0816e6"/></linearGradient>
<linearGradient id="h170" x2="0" y2="1"><stop offset="0" stop-color="#0816e6"/><stop offset=".247" stop-color="#091ce8"/><stop offset=".271" stop-color="#0a44ee"/><stop offset=".329" stop-color="#5de323"/><stop offset=".353" stop-color="#6ce521"/><stop offset=".376" stop-color="#3adf27"/><stop offset=".424" stop-color="#0a43ee"/><stop offset=".459" stop-color="#0818e7"/><stop offset=".588" stop-color="#091de8"/><stop offset=".612" stop-color="#0753ec"/><stop offset=".659" stop-color="#3ee026"/><stop offset=".682" stop-color="#49e125"/><stop offset=".706" stop-color="#1bd14e"/><stop offset=".741" stop-color="#0a44ee"/><stop offset=".776" stop-color="#0818e7"/><stop offset="1" stop-color="#0816e6"/></linearGradient>
<linearGradient id="h171" x2="0" y2="1"><stop offset="0" stop-color="#0816e6"/><stop offset=".259" stop-color="#091de8"/><stop offset=".282" stop-color="#094aed"/><stop offset=".329" stop-color="#40e026"/><stop offset=".353" stop-color="#68e521"/><stop offset=".376" stop-color="#50e224"/><stop offset=".435" stop-color="#0a37ec"/><stop offset=".471" stop-color="#0818e7"/><stop offset=".576" stop-color="#091ae7"/><stop offset=".6" stop-color="#0a3ded"/><stop offset=".647" stop-color="#2edc2e"/><stop offset=".671" stop-color="#48e125"/><stop offset=".694" stop-color="#26d73b"/><stop offset=".729" stop-color="#0655ec"/><stop offset=".753" stop-color="#091ee9"/><stop offset=".929" stop-color="#0816e6"/><stop offset="1" stop-color="#0816e6"/></linearGradient>
<linearGradient id="h172" x2="0" y2="1"><stop offset="0" stop-color="#0816e6"/><stop offset=".271" stop-color="#091de8"/><stop offset=".294" stop-color="#094ced"/><stop offset=".341" stop-color="#40e026"/><stop offset=".365" stop-color="#63e422"/><stop offset=".388" stop-color="#46e026"/><stop offset=".435" stop-color="#0751ec"/><stop offset=".471" stop-color="#0919e7"/><stop offset=".576" stop-color="#091de8"/><stop offset=".6" stop-color="#084eed"/><stop offset=".647" stop-color="#36df27"/><stop offset=".671" stop-color="#3fe026"/><stop offset=".694" stop-color="#15ce58"/><stop offset=".729" stop-color="#0a3ded"/><stop offset=".765" stop-color="#0817e6"/><stop offset="1" stop-color="#0816e6"/></linearGradient>
<linearGradient id="h173" x2="0" y2="1"><stop offset="0" stop-color="#0816e6"/><stop offset=".282" stop-color="#091ce8"/><stop offset=".306" stop-color="#0949ee"/><stop offset=".353" stop-color="#3cdf27"/><stop offset=".376" stop-color="#5de323"/><stop offset=".4" stop-color="#3ddf27"/><stop offset=".447" stop-color="#094aed"/><stop offset=".482" stop-color="#0819e7"/><stop offset=".565" stop-color="#091ae7"/><stop offset=".588" stop-color="#0a3bed"/><stop offset=".635" stop-color="#2bda34"/><stop offset=".659" stop-color="#3cdf27"/><stop offset=".682" stop-color="#1cd24c"/><stop offset=".718" stop-color="#0948ee"/><stop offset=".753" stop-color="#0818e7"/><stop offset="1" stop-color="#0816e6"/></linearGradient>
<linearGradient id="h174" x2="0" y2="1"><stop offset="0" stop-color="#0816e6"/><stop offset=".294" stop-color="#091be8"/><stop offset=".318" stop-color="#0a42ee"/><stop offset=".365" stop-color="#32de28"/><stop offset=".388" stop-color="#55e224"/><stop offset=".412" stop-color="#36de28"/><stop offset=".459" stop-color="#0a46ee"/><stop offset=".494" stop-color="#0818e7"/><stop offset=".565" stop-color="#091de8"/><stop offset=".588" stop-color="#0751ec"/><stop offset=".624" stop-color="#20d446"/><stop offset=".647" stop-color="#36de28"/><stop offset=".671" stop-color="#20d446"/><stop offset=".718" stop-color="#0a2beb"/><stop offset=".765" stop-color="#0816e6"/><stop offset="1" stop-color="#0816e6"/></linearGradient>
<linearGradient id="h175" x2="0" y2="1"><stop offset="0" stop-color="#0816e6"/><stop offset=".306" stop-color="#091ae7"/><stop offset=".329" stop-color="#0a36ec"/><stop offset=".388" stop-color="#40e026"/><stop offset=".412" stop-color="#46e125"/><stop offset=".435" stop-color="#1ad050"/><stop offset=".471" stop-color="#0a44ee"/><stop offset=".506" stop-color="#0818e7"/><stop offset=".553" stop-color="#091be8"/><stop offset=".576" stop-color="#0a41ed"/><stop offset=".624" stop-color="#28d839"/><stop offset=".647" stop-color="#2ddb31"/><stop offset=".671" stop-color="#0ab98e"/><stop offset=".706" stop-color="#0a2feb"/><stop offset=".741" stop-color="#0817e6"/><stop offset="1" stop-color="#0816e6"/></linearGradient>
<linearGradient id="h176" x2="0" y2="1"><stop offset="0" stop-color="#0816e6"/><stop offset=".329" stop-color="#091ce8"/><stop offset=".353" stop-color="#0948ee"/><stop offset=".4" stop-color="#2fdc2c"/><stop offset=".424" stop-color="#3ddf27"/><stop offset=".447" stop-color="#1ad051"/><stop offset=".482" stop-color="#0a46ee"/><stop offset=".506" stop-color="#091ce8"/><stop offset=".565" stop-color="#0a37ec"/><stop offset=".612" stop-color="#1fd347"/><stop offset=".635" stop-color="#27d83a"/><stop offset=".659" stop-color="#09b794"/><stop offset=".694" stop-color="#0a2feb"/><stop offset=".729" stop-color="#0817e6"/><stop offset="1" stop-color="#0816e6"/></linearGradient>
<linearGradient id="h177" x2="0" y2="1"><stop offset="0" stop-color="#0816e6"/><stop offset=".341" stop-color="#0819e7"/><stop offset=".365" stop-color="#0a30ec"/><stop offset=".412" stop-color="#1fd347"/><stop offset=".435" stop-color="#30dd2b"/><stop offset=".459" stop-color="#1ad14f"/><stop offset=".494" stop-color="#094ced"/><stop offset=".506" stop-color="#0a33ec"/><stop offset=".565" stop-color="#0460ea"/><stop offset=".6" stop-color="#16ce56"/><stop offset=".624" stop-color="#20d446"/><stop offset=".647" stop-color="#05aeab"/><stop offset=".682" stop-color="#0a2beb"/><stop offset=".729" stop-color="#0816e6"/><stop offset="1" stop-color="#0816e6"/></linearGradient>
<linearGradient id="h178" x2="0" y2="1"><stop offset="0" stop-color="#0816e6"/><stop offset=".365" stop-color="#0919e7"/><stop offset=".388" stop-color="#0a33ec"/><stop offset=".435" stop-color="#1cd14d"/><stop offset=".459" stop-color="#24d63f"/><stop offset=".482" stop-color="#07b49c"/><stop offset=".506" stop-color="#045fea"/><stop offset=".576" stop-color="#02aab7"/><stop offset=".6" stop-color="#16ce56"/><stop offset=".624" stop-color="#0dc07c"/><stop offset=".671" stop-color="#0a23ea"/><stop offset=".718" stop-color="#0816e6"/><stop offset="1" stop-color="#0816e6"/></linearGradient>
<linearGradient id="h179" x2="0" y2="1"><stop offset="0" stop-color="#0816e6"/><stop offset=".388" stop-color="#0819e7"/><stop offset=".424" stop-color="#0753ec"/><stop offset=".459" stop-color="#11c769"/><stop offset=".482" stop-color="#14cd5a"/><stop offset=".518" stop-color="#0093d0"/><stop offset=".576" stop-color="#0ec278"/><stop offset=".612" stop-color="#01a8bc"/><stop offset=".659" stop-color="#091ee9"/><stop offset=".776" stop-color="#0816e6"/><stop offset="1" stop-color="#0816e6"/></linearGradient>
<linearGradient id="h180" x2="0" y2="1"><stop offset="0" stop-color="#0816e6"/><stop offset=".424" stop-color="#091ae7"/><stop offset=".459" stop-color="#0364ea"/><stop offset=".482" stop-color="#01a7be"/><stop offset=".553" stop-color="#2ddb30"/><stop offset=".576" stop-color="#12c867"/><stop offset=".635" stop-color="#0a21ea"/><stop offset=".694" stop-color="#0816e6"/><stop offset="1" stop-color="#0816e6"/></linearGradient>
<linearGradient id="h181" x2="0" y2="1"><stop offset="0" stop-color="#0816e6"/><stop offset=".459" stop-color="#091ae7"/><stop offset=".482" stop-color="#0a3bed"/><stop offset=".506" stop-color="#01a7bd"/><stop offset=".529" stop-color="#5de323"/><stop offset=".541" stop-color="#79e71f"/><stop offset=".553" stop-color="#73e620"/><stop offset=".565" stop-color="#4ae125"/><stop offset=".6" stop-color="#0a48ee"/><stop offset=".624" stop-color="#091ae7"/><stop offset="1" stop-color="#0816e6"/></linearGradient>
<linearGradient id="h182" x2="0" y2="1"><stop offset="0" stop-color="#0816e6"/><stop offset=".471" stop-color="#091ae7"/><stop offset=".482" stop-color="#0a27eb"/><stop offset=".494" stop-color="#055ceb"/><stop offset=".529" stop-color="#a4eb1b"/><stop offset=".541" stop-color="#e0ef15"/><stop offset=".553" stop-color="#d7ee16"/><stop offset=".565" stop-color="#84e81e"/><stop offset=".588" stop-color="#0097cd"/><stop offset=".6" stop-color="#094aed"/><stop offset=".624" stop-color="#0819e7"/><stop offset="1" stop-color="#0816e6"/></linearGradient>
<linearGradient id="h183" x2="0" y2="1"><stop offset="0" stop-color="#0816e6"/><stop offset=".471" stop-color="#091ae7"/><stop offset=".482" stop-color="#0a29eb"/><stop offset=".494" stop-color="#0460ea"/><stop offset=".529" stop-color="#c2ed18"/><stop offset=".541" stop-color="#f2e812"/><stop offset=".553" stop-color="#f1ed13"/><stop offset=".565" stop-color="#a0ea1b"/><stop offset=".588" stop-color="#009fc7"/><stop offset=".6" stop-color="#084ded"/><stop offset=".612" stop-color="#0a21ea"/><stop offset=".671" stop-color="#0816e6"/><stop offset="1" stop-color="#0816e6"/></linearGradient>
<linearGradient id="h184" x2="0" y2="1"><stop offset="0" stop-color="#0816e6"/><stop offset=".471" stop-color="#091ae7"/><stop offset=".482" stop-color="#0a2aeb"/><stop offset=".494" stop-color="#0363ea"/><stop offset=".529" stop-color="#d6ee16"/><stop offset=".541" stop-color="#f5de10"/><stop offset=".553" stop-color="#f4e311"/><stop offset=".565" stop-color="#b2ec1a"/><stop offset=".588" stop-color="#00a4c4"/><stop offset=".6" stop-color="#0850ed"/><stop offset=".612" stop-color="#0a21ea"/><stop offset=".671" stop-color="#0816e6"/><stop offset="1" stop-color="#0816e6"/></linearGradient>
<linearGradient id="h185" x2="0" y2="1"><stop offset="0" stop-color="#0816e6"/><stop offset=".471" stop-color="#091ae7"/><stop offset=".482" stop-color="#0a2aeb"/><stop offset=".494" stop-color="#0364ea"/><stop offset=".529" stop-color="#ddef16"/><stop offset=".541" stop-color="#f6db10"/><stop offset=".553" stop-color="#f5df11"/><stop offset=".565" stop-color="#b9ec19"/><stop offset=".588" stop-color="#00a6c1"/><stop offset=".6" stop-color="#0850ed"/><stop offset=".612" stop-color="#0a21ea"/><stop offset=".659" stop-color="#0816e6"/><stop offset="1" stop-color="#0816e6"/></linearGradient>
<linearGradient id="h186" x2="0" y2="1"><stop offset="0" stop-color="#0816e6"/><stop offset=".471" stop-color="#091ae7"/><stop offset=".482" stop-color="#0a2aeb"/><stop offset=".494" stop-color="#0362ea"/><stop offset=".529" stop-color="#d2ee17"/><stop offset=".541" stop-color="#f5e011"/><stop offset=".553" stop-color="#f3e512"/><stop offset=".565" stop-color="#afeb1a"/><stop offset=".588" stop-color="#00a3c4"/><stop offset=".6" stop-color="#084fed"/><stop offset=".612" stop-color="#0a21ea"/><stop offset=".671" stop-color="#0816e6"/><stop offset="1" stop-color="#0816e6"/></linearGradient>
<linearGradient id="h187" x2="0" y2="1"><stop offset="0" stop-color="#0816e6"/><stop offset=".471" stop-color="#091ae7"/><stop offset=".482" stop-color="#0a29eb"/><stop offset=".494" stop-color="#0461ea"/><stop offset=".529" stop-color="#c7ed18"/><stop offset=".541" stop-color="#f3e612"/><stop offset=".553" stop-color="#f2ea13"/><stop offset=".565" stop-color="#a5eb1b"/><stop offset=".588" stop-color="#00a0c6"/><stop offset=".6" stop-color="#084eed"/><stop offset=".612" stop-color="#0a21ea"/><stop offset=".671" stop-color="#0816e6"/><stop offset="1" stop-color="#0816e6"/></linearGradient>
<linearGradient id="h188" x2="0" y2="1"><stop offset="0" stop-color="#0816e6"/><stop offset=".471" stop-color="#091ae7"/><stop offset=".482" stop-color="#0a28eb"/><stop offset=".494" stop-color="#045fea"/><stop offset=".529" stop-color="#bcec19"/><stop offset=".541" stop-color="#f1eb13"/><stop offset=".553" stop-color="#f0f014"/><stop offset=".565" stop-color="#9bea1c"/><stop offset=".588" stop-color="#009dc9"/><stop offset=".6" stop-color="#084ded"/><stop offset=".612" stop-color="#0a20e9"/><stop offset=".671" stop-color="#0816e6"/><stop offset="1" stop-color="#0816e6"/></linearGradient>
<linearGradient id="h189" x2="0" y2="1"><stop offset="0" stop-color="#0816e6"/><stop offset=".471" stop-color="#091ae7"/><stop offset=".482" stop-color="#0a28eb"/><stop offset=".494" stop-color="#045eeb"/><stop offset=".529" stop-color="#b1eb1a"/><stop offset=".541" stop-color="#eef014"/><stop offset=".553" stop-color="#e5ef15"/><stop offset=".565" stop-color="#90e91d"/><stop offset=".588" stop-color="#009acb"/><stop offset=".6" stop-color="#094ced"/><stop offset=".612" stop-color="#0a20e9"/><stop offset=".671" stop-color="#0816e6"/><stop offset="1" stop-color="#0816e6"/></linearGradient>
<linearGradient id="h190" x2="0" y2="1"><stop offset="0" stop-color="#0816e6"/><stop offset=".471" stop-color="#091ae7"/><stop offset=".482" stop-color="#0a27eb"/><stop offset=".494" stop-color="#055ceb"/><stop offset=".529" stop-color="#a6eb1b"/><stop offset=".541" stop-color="#e2ef15"/><stop offset=".553" stop-color="#d9ee16"/><stop offset=".565" stop-color="#86e81e"/><stop offset=".588" stop-color="#0097cd"/><stop offset=".6" stop-color="#094aed"/><stop offset=".624" stop-color="#0819e7"/><stop offset="1" stop-color="#0816e6"/></linearGradient>
<linearGradient id="h191" x2="0" y2="1"><stop offset="0" stop-color="#0816e6"/><stop offset=".471" stop-color="#091ae7"/><stop offset=".482" stop-color="#0a26ea"/><stop offset=".494" stop-color="#055aeb"/><stop offset=".529" stop-color="#98ea1c"/><stop offset=".541" stop-color="#d2ee17"/><stop offset=".553" stop-color="#c9ed18"/><stop offset=".565" stop-color="#7ce71f"/><stop offset=".588" stop-color="#0093d0"/><stop offset=".6" stop-color="#0949ee"/><stop offset=".624" stop-color="#0819e7"/><stop offset="1" stop-color="#0816e6"/></linearGradient>
<linearGradient id="h192" x2="0" y2="1"><stop offset="0" stop-color="#0816e6"/><stop offset=".471" stop-color="#091ae7"/><stop offset=".482" stop-color="#0a25ea"/><stop offset=".494" stop-color="#0657ec"/><stop offset=".529" stop-color="#83e81e"/><stop offset=".541" stop-color="#bbec19"/><stop offset=".553" stop-color="#b2ec1a"/><stop offset=".565" stop-color="#70e620"/><stop offset=".588" stop-color="#008dd3"/><stop offset=".6" stop-color="#0a47ee"/><stop offset=".624" stop-color="#0818e7"/><stop offset="1" stop-color="#0816e6"/></linearGradient>
<linearGradient id="h193" x2="0" y2="1"><stop offset="0" stop-color="#0816e6"/><stop offset=".471" stop-color="#091ae7"/><stop offset=".482" stop-color="#0a23ea"/><stop offset=".494" stop-color="#0754ec"/><stop offset=".529" stop-color="#76e620"/><stop offset=".541" stop-color="#a4ea1b"/><stop offset=".553" stop-color="#9cea1c"/><stop offset=".565" stop-color="#64e422"/><stop offset=".588" stop-color="#0088d7"/><stop offset=".6" stop-color="#0a44ee"/><stop offset=".624" stop-color="#0818e7"/><stop offset="1" stop-color="#0816e6"/></linearGradient>
<linearGradient id="h194" x2="0" y2="1"><stop offset="0" stop-color="#0816e6"/><stop offset=".471" stop-color="#0919e7"/><stop offset=".494" stop-color="#0751ec"/><stop offset=".529" stop-color="#69e521"/><stop offset=".541" stop-color="#8de91d"/><stop offset=".553" stop-color="#86e81e"/><stop offset=".565" stop-color="#58e323"/><stop offset=".588" stop-color="#0082db"/><stop offset=".6" stop-color="#0a41ed"/><stop offset=".624" stop-color="#0818e7"/><stop offset="1" stop-color="#0816e6"/></linearGradient>
<linearGradient id="h195" x2="0" y2="1"><stop offset="0" stop-color="#0816e6"/><stop offset=".471" stop-color="#0919e7"/><stop offset=".494" stop-color="#084fed"/><stop offset=".529" stop-color="#5ee422"/><stop offset=".541" stop-color="#7de71f"/><stop offset=".553" stop-color="#78e71f"/><stop offset=".565" stop-color="#4ee125"/><stop offset=".588" stop-color="#007edf"/><stop offset=".6" stop-color="#0a3fed"/><stop offset=".624" stop-color="#0818e7"/><stop offset="1" stop-color="#0816e6"/></linearGradient>
<linearGradient id="h196" x2="0" y2="1"><stop offset="0" stop-color="#0816e6"/><stop offset=".471" stop-color="#0919e7"/><stop offset=".494" stop-color="#084ded"/><stop offset=".529" stop-color="#57e323"/><stop offset=".541" stop-color="#74e620"/><stop offset=".553" stop-color="#70e620"/><stop offset=".565" stop-color="#47e125"/><stop offset=".588" stop-color="#007ae1"/><stop offset=".6" stop-color="#0a3ded"/><stop offset=".624" stop-color="#0818e7"/><stop offset="1" stop-color="#0816e6"/></linearGradient>
<linearGradient id="h197" x2="0" y2="1"><stop offset="0" stop-color="#0816e6"/><stop offset=".471" stop-color="#0919e7"/><stop offset=".494" stop-color="#094bed"/><stop offset=".529" stop-color="#4fe224"/><stop offset=".541" stop-color="#6ce521"/><stop offset=".553" stop-color="#68e521"/><stop offset=".565" stop-color="#3fe026"/><stop offset=".588" stop-color="#0077e3"/><stop offset=".6" stop-color="#0a3ced"/><stop offset=".624" stop-color="#0818e7"/><stop offset="1" stop-color="#0816e6"/></linearGradient>
<linearGradient id="h198" x2="0" y2="1"><stop offset="0" stop-color="#0816e6"/><stop offset=".471" stop-color="#0819e7"/><stop offset=".494" stop-color="#0949ee"/><stop offset=".529" stop-color="#47e125"/><stop offset=".541" stop-color="#63e422"/><stop offset=".553" stop-color="#5fe422"/><stop offset=".565" stop-color="#38df27"/><stop offset=".588" stop-color="#0073e6"/><stop offset=".6" stop-color="#0a3aed"/><stop offset=".624" stop-color="#0818e7"/><stop offset="1" stop-color="#0816e6"/></linearGradient>
<linearGradient id="h199" x2="0" y2="1"><stop offset="0" stop-color="#0816e6"/><stop offset=".471" stop-color="#0819e7"/><stop offset=".494" stop-color="#0a46ee"/><stop offset=".529" stop-color="#3bdf27"/><stop offset=".541" stop-color="#55e224"/><stop offset=".553" stop-color="#51e224"/><stop offset=".565" stop-color="#2fdc2e"/><stop offset=".6" stop-color="#0a37ec"/><stop offset=".624" stop-color="#0818e7"/><stop offset="1" stop-color="#0816e6"/></linearGradient>
<linearGradient id="h200" x2="0" y2="1"><stop offset="0" stop-color="#0816e6"/><stop offset=".471" stop-color="#0819e7"/><stop offset=".494" stop-color="#0a41ed"/><stop offset=".529" stop-color="#2bda33"/><stop offset=".541" stop-color="#3ee026"/><stop offset=".553" stop-color="#3bdf27"/><stop offset=".565" stop-color="#23d640"/><stop offset=".6" stop-color="#0a33ec"/><stop offset=".624" stop-color="#0818e7"/><stop offset="1" stop-color="#0816e6"/></linearGradient>
<linearGradient id="h201" x2="0" y2="1"><stop offset="0" stop-color="#0816e6"/><stop offset=".471" stop-color="#0818e7"/><stop offset=".494" stop-color="#0a3aed"/><stop offset=".529" stop-color="#1cd24d"/><stop offset=".541" stop-color="#28d938"/><stop offset=".553" stop-color="#27d83b"/><stop offset=".576" stop-color="#0099cb"/><stop offset=".6" stop-color="#0a2eeb"/><stop offset=".635" stop-color="#0816e6"/><stop offset="1" stop-color="#0816e6"/></linearGradient>
<linearGradient id="h202" x2="0" y2="1"><stop offset="0" stop-color="#0816e6"/><stop offset=".471" stop-color="#0818e7"/><stop offset=".494" stop-color="#0a30ec"/><stop offset=".529" stop-color="#0ab98f"/><stop offset=".553" stop-color="#11c868"/><stop offset=".576" stop-color="#007fde"/><stop offset=".6" stop-color="#0a26ea"/><stop offset=".647" stop-color="#0816e6"/><stop offset="1" stop-color="#0816e6"/></linearGradient>
<linearGradient id="h203" x2="0" y2="1"><stop offset="0" stop-color="#0816e6"/><stop offset=".482" stop-color="#091be8"/><stop offset=".541" stop-color="#0090d1"/><stop offset=".565" stop-color="#007be0"/><stop offset=".6" stop-color="#0a1fe9"/><stop offset=".682" stop-color="#0816e6"/><stop offset="1" stop-color="#0816e6"/></linearGradient>
<linearGradient id="h204" x2="0" y2="1"><stop offset="0" stop-color="#0816e6"/><stop offset=".494" stop-color="#091ce8"/><stop offset=".541" stop-color="#0752ec"/><stop offset=".588" stop-color="#0a21ea"/><stop offset=".659" stop-color="#0816e6"/><stop offset="1" stop-color="#0816e6"/></linearGradient>
<linearGradient id="h205" x2="0" y2="1"><stop offset="0" stop-color="#0816e6"/><stop offset=".506" stop-color="#091be8"/><stop offset=".576" stop-color="#091de8"/><stop offset=".918" stop-color="#0816e6"/><stop offset="1" stop-color="#0816e6"/></linearGradient>
<clipPath id="cp4"><rect x="534.2" y="401.0" width="113.8" height="84.9"/></clipPath>
<linearGradient id="h206" x2="0" y2="1"><stop offset="0" stop-color="#0655ec"/><stop offset=".129" stop-color="#0364ea"/><stop offset=".165" stop-color="#01a6c0"/><stop offset=".235" stop-color="#f3e812"/><stop offset=".259" stop-color="#f9d20e"/><stop offset=".282" stop-color="#f7da10"/><stop offset=".318" stop-color="#7fe81e"/><stop offset=".365" stop-color="#00a1c6"/><stop offset=".4" stop-color="#0363ea"/><stop offset=".612" stop-color="#055beb"/><stop offset=".647" stop-color="#008ad6"/><stop offset=".706" stop-color="#7fe81e"/><stop offset=".729" stop-color="#a2ea1b"/><stop offset=".753" stop-color="#7de71f"/><stop offset=".812" stop-color="#0089d7"/><stop offset=".847" stop-color="#055beb"/><stop offset="1" stop-color="#0655ec"/></linearGradient>
<linearGradient id="h207" x2="0" y2="1"><stop offset="0" stop-color="#0655ec"/><stop offset=".129" stop-color="#0364ea"/><stop offset=".165" stop-color="#00a6c1"/><stop offset=".235" stop-color="#f2e812"/><stop offset=".271" stop-color="#f9d30e"/><stop offset=".294" stop-color="#f1eb13"/><stop offset=".365" stop-color="#00a1c6"/><stop offset=".4" stop-color="#0363ea"/><stop offset=".612" stop-color="#055beb"/><stop offset=".647" stop-color="#008ad6"/><stop offset=".706" stop-color="#7ee71f"/><stop offset=".729" stop-color="#a1ea1b"/><stop offset=".753" stop-color="#7de71f"/><stop offset=".812" stop-color="#0088d7"/><stop offset=".847" stop-color="#055beb"/><stop offset="1" stop-color="#0655ec"/></linearGradient>
<linearGradient id="h208" x2="0" y2="1"><stop offset="0" stop-color="#0655ec"/><stop offset=".129" stop-color="#0364ea"/><stop offset=".165" stop-color="#00a6c1"/><stop offset=".235" stop-color="#f2e913"/><stop offset=".271" stop-color="#f8d40e"/><stop offset=".294" stop-color="#f1ec13"/><stop offset=".365" stop-color="#00a1c6"/><stop offset=".4" stop-color="#0363ea"/><stop offset=".612" stop-color="#055beb"/><stop offset=".647" stop-color="#008ad6"/><stop offset=".706" stop-color="#7de71f"/><stop offset=".729" stop-color="#a0ea1b"/><stop offset=".753" stop-color="#7ce71f"/><stop offset=".812" stop-color="#0088d7"/><stop offset=".847" stop-color="#055beb"/><stop offset="1" stop-color="#0655ec"/></linearGradient>
<linearGradient id="h209" x2="0" y2="1"><stop offset="0" stop-color="#0655ec"/><stop offset=".129" stop-color="#0364ea"/><stop offset=".165" stop-color="#00a5c2"/><stop offset=".235" stop-color="#f2ea13"/><stop offset=".271" stop-color="#f8d50f"/><stop offset=".294" stop-color="#f1ed13"/><stop offset=".365" stop-color="#00a0c6"/><stop offset=".4" stop-color="#0363ea"/><stop offset=".612" stop-color="#055beb"/><stop offset=".647" stop-color="#008ad6"/><stop offset=".706" stop-color="#7de71f"/><stop offset=".729" stop-color="#9fea1b"/><stop offset=".753" stop-color="#7be71f"/><stop offset=".812" stop-color="#0088d7"/><stop offset=".847" stop-color="#055beb"/><stop offset="1" stop-color="#0655ec"/></linearGradient>
<linearGradient id="h210" x2="0" y2="1"><stop offset="0" stop-color="#0655ec"/><stop offset=".129" stop-color="#0364ea"/><stop offset=".165" stop-color="#00a5c3"/><stop offset=".235" stop-color="#f2eb13"/><stop offset=".271" stop-color="#f8d60f"/><stop offset=".294" stop-color="#f1ee14"/><stop offset=".365" stop-color="#00a0c6"/><stop offset=".4" stop-color="#0363ea"/><stop offset=".612" stop-color="#055beb"/><stop offset=".647" stop-color="#008ad6"/><stop offset=".706" stop-color="#7ce71f"/><stop offset=".729" stop-color="#9dea1c"/><stop offset=".753" stop-color="#7be71f"/><stop offset=".812" stop-color="#0088d7"/><stop offset=".847" stop-color="#055beb"/><stop offset="1" stop-color="#0655ec"/></linearGradient>
<linearGradient id="h211" x2="0" y2="1"><stop offset="0" stop-color="#0655ec"/><stop offset=".129" stop-color="#0364ea"/><stop offset=".165" stop-color="#00a5c3"/><stop offset=".235" stop-color="#f1ec13"/><stop offset=".271" stop-color="#f8d70f"/><stop offset=".294" stop-color="#f0ef14"/><stop offset=".365" stop-color="#00a0c7"/><stop offset=".4" stop-color="#0363ea"/><stop offset=".612" stop-color="#055beb"/><stop offset=".647" stop-color="#008ad6"/><stop offset=".706" stop-color="#7ce71f"/><stop offset=".729" stop-color="#9cea1c"/><stop offset=".753" stop-color="#7ae71f"/><stop offset=".812" stop-color="#0088d7"/><stop offset=".847" stop-color="#055aeb"/><stop offset="1" stop-color="#0655ec"/></linearGradient>
<linearGradient id="h212" x2="0" y2="1"><stop offset="0" stop-color="#0655ec"/><stop offset=".129" stop-color="#0364ea"/><stop offset=".165" stop-color="#00a4c4"/><stop offset=".235" stop-color="#f1ed13"/><stop offset=".271" stop-color="#f7d70f"/><stop offset=".294" stop-color="#f0ef14"/><stop offset=".365" stop-color="#00a0c7"/><stop offset=".4" stop-color="#0363ea"/><stop offset=".612" stop-color="#055beb"/><stop offset=".647" stop-color="#008ad6"/><stop offset=".706" stop-color="#7be71f"/><stop offset=".729" stop-color="#9bea1c"/><stop offset=".753" stop-color="#79e71f"/><stop offset=".812" stop-color="#0087d8"/><stop offset=".847" stop-color="#055aeb"/><stop offset="1" stop-color="#0655ec"/></linearGradient>
<linearGradient id="h213" x2="0" y2="1"><stop offset="0" stop-color="#0655ec"/><stop offset=".129" stop-color="#0364ea"/><stop offset=".165" stop-color="#00a3c4"/><stop offset=".235" stop-color="#f1ee14"/><stop offset=".271" stop-color="#f7d80f"/><stop offset=".294" stop-color="#f0f014"/><stop offset=".365" stop-color="#00a0c7"/><stop offset=".4" stop-color="#0363ea"/><stop offset=".612" stop-color="#055beb"/><stop offset=".647" stop-color="#008ad6"/><stop offset=".706" stop-color="#7be71f"/><stop offset=".729" stop-color="#9aea1c"/><stop offset=".753" stop-color="#78e71f"/><stop offset=".812" stop-color="#0087d8"/><stop offset=".847" stop-color="#055aeb"/><stop offset="1" stop-color="#0655ec"/></linearGradient>
<linearGradient id="h214" x2="0" y2="1"><stop offset="0" stop-color="#0655ec"/><stop offset=".129" stop-color="#0363ea"/><stop offset=".165" stop-color="#00a2c5"/><stop offset=".235" stop-color="#f0ef14"/><stop offset=".271" stop-color="#f7d90f"/><stop offset=".294" stop-color="#f0f014"/><stop offset=".365" stop-color="#00a0c6"/><stop offset=".4" stop-color="#0363ea"/><stop offset=".612" stop-color="#055beb"/><stop offset=".647" stop-color="#008ad6"/><stop offset=".706" stop-color="#7ae71f"/><stop offset=".729" stop-color="#99ea1c"/><stop offset=".753" stop-color="#77e71f"/><stop offset=".812" stop-color="#0086d8"/><stop offset=".847" stop-color="#055aeb"/><stop offset="1" stop-color="#0655ec"/></linearGradient>
<linearGradient id="h215" x2="0" y2="1"><stop offset="0" stop-color="#0655ec"/><stop offset=".129" stop-color="#0363ea"/><stop offset=".165" stop-color="#00a0c6"/><stop offset=".235" stop-color="#eef014"/><stop offset=".271" stop-color="#f7da10"/><stop offset=".294" stop-color="#eff014"/><stop offset=".365" stop-color="#00a1c6"/><stop offset=".4" stop-color="#0363ea"/><stop offset=".612" stop-color="#055beb"/><stop offset=".647" stop-color="#008ad6"/><stop offset=".706" stop-color="#7ae71f"/><stop offset=".729" stop-color="#98ea1c"/><stop offset=".753" stop-color="#76e71f"/><stop offset=".812" stop-color="#0085d9"/><stop offset=".847" stop-color="#055aeb"/><stop offset="1" stop-color="#0655ec"/></linearGradient>
<linearGradient id="h216" x2="0" y2="1"><stop offset="0" stop-color="#0655ec"/><stop offset=".129" stop-color="#0362ea"/><stop offset=".165" stop-color="#009ec8"/><stop offset=".235" stop-color="#eaf015"/><stop offset=".271" stop-color="#f6db10"/><stop offset=".294" stop-color="#eff014"/><stop offset=".365" stop-color="#00a2c5"/><stop offset=".4" stop-color="#0363ea"/><stop offset=".612" stop-color="#055beb"/><stop offset=".647" stop-color="#008bd5"/><stop offset=".706" stop-color="#7ae71f"/><stop offset=".729" stop-color="#96e91c"/><stop offset=".753" stop-color="#75e620"/><stop offset=".812" stop-color="#0084da"/><stop offset=".847" stop-color="#055aeb"/><stop offset="1" stop-color="#0655ec"/></linearGradient>
<linearGradient id="h217" x2="0" y2="1"><stop offset="0" stop-color="#0655ec"/><stop offset=".129" stop-color="#0361ea"/><stop offset=".165" stop-color="#009bca"/><stop offset=".235" stop-color="#e5ef15"/><stop offset=".259" stop-color="#f6dd10"/><stop offset=".294" stop-color="#eff014"/><stop offset=".365" stop-color="#00a3c4"/><stop offset=".4" stop-color="#0364ea"/><stop offset=".6" stop-color="#0657ec"/><stop offset=".635" stop-color="#0071e7"/><stop offset=".671" stop-color="#1ad051"/><stop offset=".706" stop-color="#7ae71f"/><stop offset=".729" stop-color="#95e91c"/><stop offset=".753" stop-color="#73e620"/><stop offset=".812" stop-color="#0083db"/><stop offset=".859" stop-color="#0657ec"/><stop offset="1" stop-color="#0655ec"/></linearGradient>
<linearGradient id="h218" x2="0" y2="1"><stop offset="0" stop-color="#0655ec"/><stop offset=".129" stop-color="#0460ea"/><stop offset=".165" stop-color="#0097cd"/><stop offset=".235" stop-color="#deef16"/><stop offset=".259" stop-color="#f5de10"/><stop offset=".294" stop-color="#f0f014"/><stop offset=".365" stop-color="#00a5c3"/><stop offset=".4" stop-color="#0364ea"/><stop offset=".6" stop-color="#0657ec"/><stop offset=".635" stop-color="#0072e6"/><stop offset=".671" stop-color="#1bd14f"/><stop offset=".706" stop-color="#7ae71f"/><stop offset=".729" stop-color="#93e91c"/><stop offset=".753" stop-color="#70e620"/><stop offset=".812" stop-color="#0081dc"/><stop offset=".859" stop-color="#0657ec"/><stop offset="1" stop-color="#0655ec"/></linearGradient>
<linearGradient id="h219" x2="0" y2="1"><stop offset="0" stop-color="#0655ec"/><stop offset=".129" stop-color="#045fea"/><stop offset=".165" stop-color="#0091d1"/><stop offset=".212" stop-color="#63e422"/><stop offset=".247" stop-color="#f1ed13"/><stop offset=".282" stop-color="#f3e512"/><stop offset=".318" stop-color="#7fe81e"/><stop offset=".365" stop-color="#01a7bf"/><stop offset=".4" stop-color="#0365ea"/><stop offset=".6" stop-color="#0658eb"/><stop offset=".635" stop-color="#0073e6"/><stop offset=".671" stop-color="#1cd14d"/><stop offset=".706" stop-color="#7be71f"/><stop offset=".729" stop-color="#91e91d"/><stop offset=".753" stop-color="#6de521"/><stop offset=".812" stop-color="#007ede"/><stop offset=".859" stop-color="#0656ec"/><stop offset="1" stop-color="#0655ec"/></linearGradient>
<linearGradient id="h220" x2="0" y2="1"><stop offset="0" stop-color="#0655ec"/><stop offset=".141" stop-color="#0266e9"/><stop offset=".176" stop-color="#03aab5"/><stop offset=".235" stop-color="#bdec19"/><stop offset=".259" stop-color="#f2e913"/><stop offset=".294" stop-color="#e7ef15"/><stop offset=".329" stop-color="#55e224"/><stop offset=".365" stop-color="#02a9b9"/><stop offset=".4" stop-color="#0365ea"/><stop offset=".588" stop-color="#0656ec"/><stop offset=".635" stop-color="#0075e5"/><stop offset=".671" stop-color="#1dd24a"/><stop offset=".706" stop-color="#7be71f"/><stop offset=".729" stop-color="#8fe91d"/><stop offset=".753" stop-color="#69e521"/><stop offset=".812" stop-color="#007be0"/><stop offset=".859" stop-color="#0656ec"/><stop offset="1" stop-color="#0655ec"/></linearGradient>
<linearGradient id="h221" x2="0" y2="1"><stop offset="0" stop-color="#0655ec"/><stop offset=".141" stop-color="#0363ea"/><stop offset=".176" stop-color="#00a1c6"/><stop offset=".247" stop-color="#d6ee16"/><stop offset=".282" stop-color="#f1ed13"/><stop offset=".306" stop-color="#baec19"/><stop offset=".365" stop-color="#04acb0"/><stop offset=".4" stop-color="#0267e9"/><stop offset=".565" stop-color="#0655ec"/><stop offset=".624" stop-color="#0266e9"/><stop offset=".659" stop-color="#09b892"/><stop offset=".706" stop-color="#7ce71f"/><stop offset=".741" stop-color="#7de71f"/><stop offset=".812" stop-color="#0078e3"/><stop offset=".859" stop-color="#0656ec"/><stop offset="1" stop-color="#0655ec"/></linearGradient>
<linearGradient id="h222" x2="0" y2="1"><stop offset="0" stop-color="#0655ec"/><stop offset=".141" stop-color="#0460ea"/><stop offset=".176" stop-color="#0096ce"/><stop offset=".247" stop-color="#c2ed18"/><stop offset=".282" stop-color="#edf014"/><stop offset=".306" stop-color="#bbec19"/><stop offset=".376" stop-color="#0091d1"/><stop offset=".424" stop-color="#055aeb"/><stop offset=".612" stop-color="#055deb"/><stop offset=".647" stop-color="#0097cd"/><stop offset=".694" stop-color="#65e422"/><stop offset=".718" stop-color="#89e91d"/><stop offset=".741" stop-color="#78e71f"/><stop offset=".8" stop-color="#008ed3"/><stop offset=".835" stop-color="#055beb"/><stop offset="1" stop-color="#0655ec"/></linearGradient>
<linearGradient id="h223" x2="0" y2="1"><stop offset="0" stop-color="#0655ec"/><stop offset=".153" stop-color="#0365ea"/><stop offset=".188" stop-color="#02a9b9"/><stop offset=".247" stop-color="#a9eb1a"/><stop offset=".282" stop-color="#e2ef15"/><stop offset=".318" stop-color="#8de91d"/><stop offset=".376" stop-color="#0097cd"/><stop offset=".412" stop-color="#0460ea"/><stop offset=".612" stop-color="#045eeb"/><stop offset=".647" stop-color="#009cc9"/><stop offset=".694" stop-color="#68e521"/><stop offset=".718" stop-color="#86e81e"/><stop offset=".741" stop-color="#72e620"/><stop offset=".8" stop-color="#0087d8"/><stop offset=".835" stop-color="#055aeb"/><stop offset="1" stop-color="#0655ec"/></linearGradient>
<linearGradient id="h224" x2="0" y2="1"><stop offset="0" stop-color="#0655ec"/><stop offset=".153" stop-color="#0461ea"/><stop offset=".188" stop-color="#0099cc"/><stop offset=".259" stop-color="#b6ec19"/><stop offset=".294" stop-color="#d1ee17"/><stop offset=".329" stop-color="#6be521"/><stop offset=".376" stop-color="#009ec8"/><stop offset=".412" stop-color="#0362ea"/><stop offset=".6" stop-color="#0559eb"/><stop offset=".635" stop-color="#0081dc"/><stop offset=".694" stop-color="#6be521"/><stop offset=".718" stop-color="#82e81e"/><stop offset=".741" stop-color="#6ae521"/><stop offset=".8" stop-color="#007fdd"/><stop offset=".847" stop-color="#0656ec"/><stop offset="1" stop-color="#0655ec"/></linearGradient>
<linearGradient id="h225" x2="0" y2="1"><stop offset="0" stop-color="#0655ec"/><stop offset=".165" stop-color="#0365ea"/><stop offset=".2" stop-color="#01a6bf"/><stop offset=".259" stop-color="#98ea1c"/><stop offset=".294" stop-color="#c8ed18"/><stop offset=".329" stop-color="#73e620"/><stop offset=".388" stop-color="#008ad6"/><stop offset=".435" stop-color="#0659eb"/><stop offset=".612" stop-color="#0461ea"/><stop offset=".647" stop-color="#02aab7"/><stop offset=".694" stop-color="#6fe620"/><stop offset=".718" stop-color="#7fe81e"/><stop offset=".741" stop-color="#5fe422"/><stop offset=".8" stop-color="#0077e3"/><stop offset=".847" stop-color="#0656ec"/><stop offset="1" stop-color="#0655ec"/></linearGradient>
<linearGradient id="h226" x2="0" y2="1"><stop offset="0" stop-color="#0655ec"/><stop offset=".165" stop-color="#045fea"/><stop offset=".2" stop-color="#0091d1"/><stop offset=".271" stop-color="#9eea1b"/><stop offset=".306" stop-color="#b8ec19"/><stop offset=".341" stop-color="#5be323"/><stop offset=".388" stop-color="#0095ce"/><stop offset=".424" stop-color="#0460ea"/><stop offset=".6" stop-color="#055beb"/><stop offset=".635" stop-color="#008fd3"/><stop offset=".694" stop-color="#71e620"/><stop offset=".718" stop-color="#7ae71f"/><stop offset=".741" stop-color="#51e224"/><stop offset=".788" stop-color="#0087d8"/><stop offset=".824" stop-color="#055aeb"/><stop offset="1" stop-color="#0655ec"/></linearGradient>
<linearGradient id="h227" x2="0" y2="1"><stop offset="0" stop-color="#0655ec"/><stop offset=".176" stop-color="#0460ea"/><stop offset=".212" stop-color="#0097cd"/><stop offset=".271" stop-color="#7de71f"/><stop offset=".306" stop-color="#b2ec1a"/><stop offset=".341" stop-color="#6be521"/><stop offset=".4" stop-color="#0086d9"/><stop offset=".447" stop-color="#0658eb"/><stop offset=".6" stop-color="#045deb"/><stop offset=".635" stop-color="#0099cb"/><stop offset=".682" stop-color="#60e422"/><stop offset=".706" stop-color="#77e71f"/><stop offset=".729" stop-color="#5fe422"/><stop offset=".788" stop-color="#007ae1"/><stop offset=".835" stop-color="#0656ec"/><stop offset="1" stop-color="#0655ec"/></linearGradient>
<linearGradient id="h228" x2="0" y2="1"><stop offset="0" stop-color="#0655ec"/><stop offset=".188" stop-color="#0460ea"/><stop offset=".224" stop-color="#0099cb"/><stop offset=".282" stop-color="#7de71f"/><stop offset=".318" stop-color="#a6eb1b"/><stop offset=".353" stop-color="#5be323"/><stop offset=".4" stop-color="#0096cd"/><stop offset=".435" stop-color="#0460ea"/><stop offset=".6" stop-color="#0460ea"/><stop offset=".635" stop-color="#01a6c0"/><stop offset=".682" stop-color="#66e422"/><stop offset=".706" stop-color="#72e620"/><stop offset=".729" stop-color="#4ee125"/><stop offset=".776" stop-color="#0086d9"/><stop offset=".812" stop-color="#055aeb"/><stop offset="1" stop-color="#0655ec"/></linearGradient>
<linearGradient id="h229" x2="0" y2="1"><stop offset="0" stop-color="#0655ec"/><stop offset=".2" stop-color="#0460ea"/><stop offset=".235" stop-color="#0097cd"/><stop offset=".294" stop-color="#78e71f"/><stop offset=".329" stop-color="#98ea1c"/><stop offset=".365" stop-color="#4ee224"/><stop offset=".412" stop-color="#008cd4"/><stop offset=".459" stop-color="#0659eb"/><stop offset=".6" stop-color="#0364ea"/><stop offset=".635" stop-color="#08b599"/><stop offset=".671" stop-color="#56e224"/><stop offset=".694" stop-color="#6de521"/><stop offset=".718" stop-color="#56e224"/><stop offset=".776" stop-color="#0075e5"/><stop offset=".824" stop-color="#0656ec"/><stop offset="1" stop-color="#0655ec"/></linearGradient>
<linearGradient id="h230" x2="0" y2="1"><stop offset="0" stop-color="#0655ec"/><stop offset=".212" stop-color="#045eeb"/><stop offset=".247" stop-color="#008fd2"/><stop offset=".306" stop-color="#6ee620"/><stop offset=".341" stop-color="#8ae91d"/><stop offset=".376" stop-color="#46e026"/><stop offset=".424" stop-color="#0086d8"/><stop offset=".471" stop-color="#0658eb"/><stop offset=".588" stop-color="#045fea"/><stop offset=".624" stop-color="#00a2c5"/><stop offset=".671" stop-color="#5de323"/><stop offset=".694" stop-color="#66e422"/><stop offset=".718" stop-color="#3ddf27"/><stop offset=".765" stop-color="#007be1"/><stop offset=".812" stop-color="#0656ec"/><stop offset="1" stop-color="#0655ec"/></linearGradient>
<linearGradient id="h231" x2="0" y2="1"><stop offset="0" stop-color="#0655ec"/><stop offset=".235" stop-color="#0362ea"/><stop offset=".271" stop-color="#00a2c5"/><stop offset=".318" stop-color="#5fe422"/><stop offset=".353" stop-color="#7ee71f"/><stop offset=".388" stop-color="#41e026"/><stop offset=".435" stop-color="#0084da"/><stop offset=".482" stop-color="#0658eb"/><stop offset=".588" stop-color="#0364ea"/><stop offset=".624" stop-color="#09b695"/><stop offset=".659" stop-color="#50e224"/><stop offset=".682" stop-color="#60e422"/><stop offset=".706" stop-color="#3fe026"/><stop offset=".753" stop-color="#007ede"/><stop offset=".8" stop-color="#0656ec"/><stop offset="1" stop-color="#0655ec"/></linearGradient>
<linearGradient id="h232" x2="0" y2="1"><stop offset="0" stop-color="#0655ec"/><stop offset=".247" stop-color="#055deb"/><stop offset=".282" stop-color="#008dd4"/><stop offset=".341" stop-color="#63e422"/><stop offset=".376" stop-color="#6ee521"/><stop offset=".412" stop-color="#26d73c"/><stop offset=".447" stop-color="#0085d9"/><stop offset=".494" stop-color="#0657ec"/><stop offset=".576" stop-color="#0460ea"/><stop offset=".612" stop-color="#02a9b8"/><stop offset=".647" stop-color="#43e026"/><stop offset=".671" stop-color="#57e323"/><stop offset=".694" stop-color="#3cdf27"/><stop offset=".741" stop-color="#007ede"/><stop offset=".788" stop-color="#0656ec"/><stop offset="1" stop-color="#0655ec"/></linearGradient>
<linearGradient id="h233" x2="0" y2="1"><stop offset="0" stop-color="#0655ec"/><stop offset=".271" stop-color="#045deb"/><stop offset=".306" stop-color="#0091d1"/><stop offset=".365" stop-color="#5ee323"/><stop offset=".4" stop-color="#5be323"/><stop offset=".471" stop-color="#0072e6"/><stop offset=".529" stop-color="#0655ec"/><stop offset=".576" stop-color="#0269e9"/><stop offset=".612" stop-color="#0fc374"/><stop offset=".647" stop-color="#49e125"/><stop offset=".671" stop-color="#48e125"/><stop offset=".741" stop-color="#0267e9"/><stop offset=".859" stop-color="#0655ec"/><stop offset="1" stop-color="#0655ec"/></linearGradient>
<linearGradient id="h234" x2="0" y2="1"><stop offset="0" stop-color="#0655ec"/><stop offset=".294" stop-color="#055ceb"/><stop offset=".329" stop-color="#008ed3"/><stop offset=".376" stop-color="#41e026"/><stop offset=".412" stop-color="#55e224"/><stop offset=".447" stop-color="#1cd24c"/><stop offset=".482" stop-color="#007ae1"/><stop offset=".518" stop-color="#0460ea"/><stop offset=".576" stop-color="#007ce0"/><stop offset=".635" stop-color="#3edf27"/><stop offset=".659" stop-color="#3bdf27"/><stop offset=".718" stop-color="#0073e6"/><stop offset=".765" stop-color="#0656ec"/><stop offset="1" stop-color="#0655ec"/></linearGradient>
<linearGradient id="h235" x2="0" y2="1"><stop offset="0" stop-color="#0655ec"/><stop offset=".329" stop-color="#0460ea"/><stop offset=".365" stop-color="#00a1c6"/><stop offset=".412" stop-color="#41e026"/><stop offset=".447" stop-color="#35de28"/><stop offset=".506" stop-color="#0077e3"/><stop offset=".576" stop-color="#01a7bd"/><stop offset=".624" stop-color="#31de29"/><stop offset=".647" stop-color="#2ddb30"/><stop offset=".706" stop-color="#016ae9"/><stop offset=".788" stop-color="#0655ec"/><stop offset="1" stop-color="#0655ec"/></linearGradient>
<linearGradient id="h236" x2="0" y2="1"><stop offset="0" stop-color="#0655ec"/><stop offset=".365" stop-color="#0362ea"/><stop offset=".4" stop-color="#02a9b8"/><stop offset=".435" stop-color="#2ddb31"/><stop offset=".471" stop-color="#2ad935"/><stop offset=".506" stop-color="#01a7bf"/><stop offset=".529" stop-color="#07b2a0"/><stop offset=".624" stop-color="#27d83a"/><stop offset=".694" stop-color="#0461ea"/><stop offset="1" stop-color="#0655ec"/></linearGradient>
<linearGradient id="h237" x2="0" y2="1"><stop offset="0" stop-color="#0655ec"/><stop offset=".4" stop-color="#0461ea"/><stop offset=".471" stop-color="#21d445"/><stop offset=".518" stop-color="#18cf53"/><stop offset=".565" stop-color="#31dd2a"/><stop offset=".624" stop-color="#0fc277"/><stop offset=".671" stop-color="#0362ea"/><stop offset="1" stop-color="#0655ec"/></linearGradient>
<linearGradient id="h238" x2="0" y2="1"><stop offset="0" stop-color="#0655ec"/><stop offset=".435" stop-color="#055ceb"/><stop offset=".494" stop-color="#0cbd85"/><stop offset=".541" stop-color="#6ae521"/><stop offset=".565" stop-color="#6ce521"/><stop offset=".624" stop-color="#0082db"/><stop offset=".671" stop-color="#0656ec"/><stop offset="1" stop-color="#0655ec"/></linearGradient>
<linearGradient id="h239" x2="0" y2="1"><stop offset="0" stop-color="#0655ec"/><stop offset=".471" stop-color="#055beb"/><stop offset=".494" stop-color="#0089d6"/><stop offset=".529" stop-color="#72e620"/><stop offset=".541" stop-color="#afeb1a"/><stop offset=".553" stop-color="#c4ed18"/><stop offset=".565" stop-color="#b3ec1a"/><stop offset=".588" stop-color="#39df27"/><stop offset=".612" stop-color="#008ed3"/><stop offset=".635" stop-color="#055ceb"/><stop offset="1" stop-color="#0655ec"/></linearGradient>
<linearGradient id="h240" x2="0" y2="1"><stop offset="0" stop-color="#0655ec"/><stop offset=".471" stop-color="#055ceb"/><stop offset=".494" stop-color="#0092d0"/><stop offset=".518" stop-color="#4be125"/><stop offset=".529" stop-color="#a2ea1b"/><stop offset=".541" stop-color="#f1ee14"/><stop offset=".553" stop-color="#f4e311"/><stop offset=".565" stop-color="#f1ec13"/><stop offset=".576" stop-color="#aeeb1a"/><stop offset=".612" stop-color="#0098cc"/><stop offset=".635" stop-color="#045deb"/><stop offset="1" stop-color="#0655ec"/></linearGradient>
<linearGradient id="h241" x2="0" y2="1"><stop offset="0" stop-color="#0655ec"/><stop offset=".471" stop-color="#055deb"/><stop offset=".494" stop-color="#0095ce"/><stop offset=".518" stop-color="#54e224"/><stop offset=".529" stop-color="#b6ec19"/><stop offset=".541" stop-color="#f4e412"/><stop offset=".553" stop-color="#f7d80f"/><stop offset=".565" stop-color="#f5e111"/><stop offset=".576" stop-color="#c2ed18"/><stop offset=".612" stop-color="#009bca"/><stop offset=".635" stop-color="#045eeb"/><stop offset="1" stop-color="#0655ec"/></linearGradient>
<linearGradient id="h242" x2="0" y2="1"><stop offset="0" stop-color="#0655ec"/><stop offset=".471" stop-color="#055deb"/><stop offset=".494" stop-color="#0096cd"/><stop offset=".518" stop-color="#58e323"/><stop offset=".529" stop-color="#beec19"/><stop offset=".541" stop-color="#f5df11"/><stop offset=".553" stop-color="#f9d30e"/><stop offset=".565" stop-color="#f6dc10"/><stop offset=".576" stop-color="#cbed17"/><stop offset=".612" stop-color="#009dc9"/><stop offset=".635" stop-color="#045eeb"/><stop offset="1" stop-color="#0655ec"/></linearGradient>
<linearGradient id="h243" x2="0" y2="1"><stop offset="0" stop-color="#0655ec"/><stop offset=".471" stop-color="#055deb"/><stop offset=".494" stop-color="#0095ce"/><stop offset=".518" stop-color="#54e224"/><stop offset=".529" stop-color="#b7ec19"/><stop offset=".541" stop-color="#f4e311"/><stop offset=".553" stop-color="#f7d70f"/><stop offset=".565" stop-color="#f5e011"/><stop offset=".576" stop-color="#c3ed18"/><stop offset=".612" stop-color="#009bca"/><stop offset=".635" stop-color="#045eeb"/><stop offset="1" stop-color="#0655ec"/></linearGradient>
<linearGradient id="h244" x2="0" y2="1"><stop offset="0" stop-color="#0655ec"/><stop offset=".471" stop-color="#055deb"/><stop offset=".494" stop-color="#0094cf"/><stop offset=".518" stop-color="#51e224"/><stop offset=".529" stop-color="#afeb1a"/><stop offset=".541" stop-color="#f3e712"/><stop offset=".553" stop-color="#f6dc10"/><stop offset=".565" stop-color="#f3e512"/><stop offset=".576" stop-color="#bbec19"/><stop offset=".612" stop-color="#009acb"/><stop offset=".635" stop-color="#045eeb"/><stop offset="1" stop-color="#0655ec"/></linearGradient>
<linearGradient id="h245" x2="0" y2="1"><stop offset="0" stop-color="#0655ec"/><stop offset=".471" stop-color="#055ceb"/><stop offset=".494" stop-color="#0093d0"/><stop offset=".518" stop-color="#4de125"/><stop offset=".529" stop-color="#a7eb1b"/><stop offset=".541" stop-color="#f1ec13"/><stop offset=".553" stop-color="#f5e011"/><stop offset=".565" stop-color="#f2e913"/><stop offset=".576" stop-color="#b3ec1a"/><stop offset=".612" stop-color="#0099cc"/><stop offset=".635" stop-color="#045eeb"/><stop offset="1" stop-color="#0655ec"/></linearGradient>
<linearGradient id="h246" x2="0" y2="1"><stop offset="0" stop-color="#0655ec"/><stop offset=".471" stop-color="#055ceb"/><stop offset=".494" stop-color="#0092d1"/><stop offset=".518" stop-color="#4ae125"/><stop offset=".529" stop-color="#9fea1b"/><stop offset=".541" stop-color="#f0f014"/><stop offset=".553" stop-color="#f3e412"/><stop offset=".565" stop-color="#f1ed13"/><stop offset=".576" stop-color="#abeb1a"/><stop offset=".612" stop-color="#0097cc"/><stop offset=".635" stop-color="#045deb"/><stop offset="1" stop-color="#0655ec"/></linearGradient>
<linearGradient id="h247" x2="0" y2="1"><stop offset="0" stop-color="#0655ec"/><stop offset=".471" stop-color="#055ceb"/><stop offset=".494" stop-color="#008fd2"/><stop offset=".518" stop-color="#43e026"/><stop offset=".529" stop-color="#90e91d"/><stop offset=".541" stop-color="#dfef16"/><stop offset=".553" stop-color="#f1ed13"/><stop offset=".565" stop-color="#e4ef15"/><stop offset=".576" stop-color="#9bea1c"/><stop offset=".612" stop-color="#0095ce"/><stop offset=".635" stop-color="#055deb"/><stop offset="1" stop-color="#0655ec"/></linearGradient>
<linearGradient id="h248" x2="0" y2="1"><stop offset="0" stop-color="#0655ec"/><stop offset=".471" stop-color="#055ceb"/><stop offset=".494" stop-color="#008bd5"/><stop offset=".529" stop-color="#7be71f"/><stop offset=".541" stop-color="#c0ec18"/><stop offset=".553" stop-color="#d6ee16"/><stop offset=".565" stop-color="#c5ed18"/><stop offset=".576" stop-color="#81e81e"/><stop offset=".612" stop-color="#0091d1"/><stop offset=".635" stop-color="#055deb"/><stop offset="1" stop-color="#0655ec"/></linearGradient>
<linearGradient id="h249" x2="0" y2="1"><stop offset="0" stop-color="#0655ec"/><stop offset=".471" stop-color="#055beb"/><stop offset=".494" stop-color="#0087d8"/><stop offset=".529" stop-color="#6be521"/><stop offset=".541" stop-color="#a1ea1b"/><stop offset=".553" stop-color="#b6ec19"/><stop offset=".565" stop-color="#a5eb1b"/><stop offset=".588" stop-color="#33de28"/><stop offset=".612" stop-color="#008cd4"/><stop offset=".635" stop-color="#055ceb"/><stop offset="1" stop-color="#0655ec"/></linearGradient>
<linearGradient id="h250" x2="0" y2="1"><stop offset="0" stop-color="#0655ec"/><stop offset=".471" stop-color="#055beb"/><stop offset=".494" stop-color="#0082db"/><stop offset=".541" stop-color="#7de71f"/><stop offset=".565" stop-color="#7fe81e"/><stop offset=".588" stop-color="#2ad936"/><stop offset=".612" stop-color="#0087d8"/><stop offset=".635" stop-color="#055beb"/><stop offset="1" stop-color="#0655ec"/></linearGradient>
<linearGradient id="h251" x2="0" y2="1"><stop offset="0" stop-color="#0655ec"/><stop offset=".471" stop-color="#055aeb"/><stop offset=".494" stop-color="#007ce0"/><stop offset=".541" stop-color="#5de323"/><stop offset=".565" stop-color="#5fe422"/><stop offset=".588" stop-color="#1ed349"/><stop offset=".612" stop-color="#0080dd"/><stop offset=".647" stop-color="#0656ec"/><stop offset="1" stop-color="#0655ec"/></linearGradient>
<linearGradient id="h252" x2="0" y2="1"><stop offset="0" stop-color="#0655ec"/><stop offset=".482" stop-color="#0460ea"/><stop offset=".518" stop-color="#09b792"/><stop offset=".541" stop-color="#2bda34"/><stop offset=".565" stop-color="#2cda33"/><stop offset=".624" stop-color="#0361ea"/><stop offset="1" stop-color="#0655ec"/></linearGradient>
<linearGradient id="h253" x2="0" y2="1"><stop offset="0" stop-color="#0655ec"/><stop offset=".482" stop-color="#055ceb"/><stop offset=".541" stop-color="#0fc375"/><stop offset=".576" stop-color="#08b59a"/><stop offset=".624" stop-color="#045deb"/><stop offset="1" stop-color="#0655ec"/></linearGradient>
<linearGradient id="h254" x2="0" y2="1"><stop offset="0" stop-color="#0655ec"/><stop offset=".494" stop-color="#045fea"/><stop offset=".553" stop-color="#0093d0"/><stop offset=".647" stop-color="#0655ec"/><stop offset="1" stop-color="#0655ec"/></linearGradient></defs>
<rect width="685" height="514" fill="#fff"/>
<text x="0.5" y="12.2" font-size="14" fill="#000" stroke="#000" stroke-width="0.3" font-weight="bold">a</text>
<g stroke="#8a8a8a" stroke-width="0.9" fill="none">
<line x1="59.0" y1="70.3" x2="59.0" y2="168.4"/>
<line x1="75.9" y1="78.2" x2="75.9" y2="176.0"/>
<line x1="109.5" y1="67.8" x2="109.5" y2="165.7"/>
<line x1="126.1" y1="75.5" x2="126.1" y2="173.2"/>
<line x1="59.0" y1="70.3" x2="75.9" y2="78.2"/>
<line x1="75.9" y1="78.2" x2="126.1" y2="75.5"/>
<line x1="126.1" y1="75.5" x2="109.5" y2="67.8"/>
<line x1="109.5" y1="67.8" x2="59.0" y2="70.3"/>
<line x1="59.0" y1="168.4" x2="75.9" y2="176.0"/>
<line x1="75.9" y1="176.0" x2="126.1" y2="173.2"/>
<line x1="126.1" y1="173.2" x2="109.5" y2="165.7"/>
<line x1="109.5" y1="165.7" x2="59.0" y2="168.4"/>
</g>
<g stroke="none">
<polygon points="67.3,44.0 84.2,38.4 117.6,41.0 101.0,46.5" fill="#9a9a9a" fill-opacity="0.55"/>
<polygon points="67.3,44.0 101.0,46.5 92.5,73.4" fill="#a8a8a8" fill-opacity="0.55"/>
<polygon points="101.0,46.5 117.6,41.0 92.5,73.4" fill="#8c8c8c" fill-opacity="0.5"/>
<polygon points="67.3,44.0 84.2,38.4 92.5,73.4" fill="#bdbdbd" fill-opacity="0.5"/>
<polygon points="86.9,45.8 101.0,46.5 92.5,73.4" fill="#e4e4e4" fill-opacity="0.75"/>
</g>
<circle cx="67.3" cy="44.0" r="1.5" fill="#7d7fb0" stroke="#55578a" stroke-width="0.4"/>
<circle cx="84.2" cy="38.4" r="1.5" fill="#7d7fb0" stroke="#55578a" stroke-width="0.4"/>
<circle cx="117.6" cy="41.0" r="1.5" fill="#7d7fb0" stroke="#55578a" stroke-width="0.4"/>
<circle cx="101.0" cy="46.5" r="1.5" fill="#7d7fb0" stroke="#55578a" stroke-width="0.4"/>
<g stroke="none">
<polygon points="67.3,105.5 84.2,100.5 117.6,102.5 101.0,108.3" fill="#9a9a9a" fill-opacity="0.55"/>
<polygon points="67.3,105.5 101.0,108.3 92.5,73.4" fill="#a8a8a8" fill-opacity="0.55"/>
<polygon points="101.0,108.3 117.6,102.5 92.5,73.4" fill="#8c8c8c" fill-opacity="0.5"/>
<polygon points="67.3,105.5 84.2,100.5 92.5,73.4" fill="#bdbdbd" fill-opacity="0.5"/>
<polygon points="86.9,107.5 101.0,108.3 92.5,73.4" fill="#e4e4e4" fill-opacity="0.75"/>
</g>
<circle cx="67.3" cy="105.5" r="1.5" fill="#7d7fb0" stroke="#55578a" stroke-width="0.4"/>
<circle cx="84.2" cy="100.5" r="1.5" fill="#7d7fb0" stroke="#55578a" stroke-width="0.4"/>
<circle cx="117.6" cy="102.5" r="1.5" fill="#7d7fb0" stroke="#55578a" stroke-width="0.4"/>
<circle cx="101.0" cy="108.3" r="1.5" fill="#7d7fb0" stroke="#55578a" stroke-width="0.4"/>
<g stroke="none">
<polygon points="67.3,141.6 84.2,136.5 117.6,139.0 101.0,144.3" fill="#9a9a9a" fill-opacity="0.55"/>
<polygon points="67.3,141.6 101.0,144.3 92.5,171.7" fill="#a8a8a8" fill-opacity="0.55"/>
<polygon points="101.0,144.3 117.6,139.0 92.5,171.7" fill="#8c8c8c" fill-opacity="0.5"/>
<polygon points="67.3,141.6 84.2,136.5 92.5,171.7" fill="#bdbdbd" fill-opacity="0.5"/>
<polygon points="86.9,143.5 101.0,144.3 92.5,171.7" fill="#e4e4e4" fill-opacity="0.75"/>
</g>
<circle cx="67.3" cy="141.6" r="1.5" fill="#7d7fb0" stroke="#55578a" stroke-width="0.4"/>
<circle cx="84.2" cy="136.5" r="1.5" fill="#7d7fb0" stroke="#55578a" stroke-width="0.4"/>
<circle cx="117.6" cy="139.0" r="1.5" fill="#7d7fb0" stroke="#55578a" stroke-width="0.4"/>
<circle cx="101.0" cy="144.3" r="1.5" fill="#7d7fb0" stroke="#55578a" stroke-width="0.4"/>
<g stroke="none">
<polygon points="67.3,203.6 84.2,198.1 117.6,201.1 101.0,206.4" fill="#9a9a9a" fill-opacity="0.55"/>
<polygon points="67.3,203.6 101.0,206.4 92.5,171.7" fill="#a8a8a8" fill-opacity="0.55"/>
<polygon points="101.0,206.4 117.6,201.1 92.5,171.7" fill="#8c8c8c" fill-opacity="0.5"/>
<polygon points="67.3,203.6 84.2,198.1 92.5,171.7" fill="#bdbdbd" fill-opacity="0.5"/>
<polygon points="86.9,205.6 101.0,206.4 92.5,171.7" fill="#e4e4e4" fill-opacity="0.75"/>
</g>
<circle cx="67.3" cy="203.6" r="1.5" fill="#7d7fb0" stroke="#55578a" stroke-width="0.4"/>
<circle cx="84.2" cy="198.1" r="1.5" fill="#7d7fb0" stroke="#55578a" stroke-width="0.4"/>
<circle cx="117.6" cy="201.1" r="1.5" fill="#7d7fb0" stroke="#55578a" stroke-width="0.4"/>
<circle cx="101.0" cy="206.4" r="1.5" fill="#7d7fb0" stroke="#55578a" stroke-width="0.4"/>
<circle cx="92.5" cy="73.4" r="1.5" fill="#7d7fb0" stroke="#55578a" stroke-width="0.4"/>
<circle cx="92.5" cy="171.7" r="1.5" fill="#7d7fb0" stroke="#55578a" stroke-width="0.4"/>
<circle cx="92.5" cy="45.2" r="2.1" fill="#d9483a"/>
<circle cx="92.5" cy="48.2" r="2.2" fill="#e8e04a"/>
<circle cx="92.5" cy="98.0" r="2.2" fill="#e8e04a"/>
<circle cx="92.5" cy="101.0" r="2.1" fill="#d9483a"/>
<circle cx="92.5" cy="143.6" r="2.1" fill="#d9483a"/>
<circle cx="92.5" cy="146.6" r="2.2" fill="#e8e04a"/>
<circle cx="92.5" cy="196.2" r="2.2" fill="#e8e04a"/>
<circle cx="92.5" cy="199.0" r="2.1" fill="#d9483a"/>
<path d="M90.3,55.5 C84.5,63 84,80 93,92.5" fill="none" stroke="#000" stroke-width="2.2" stroke-linecap="round"/>
<path d="M93,106.8 C85.5,113 85,127 93,136.8" fill="none" stroke="#000" stroke-width="2.2" stroke-linecap="round"/>
<circle cx="59.3" cy="21.4" r="4.9" fill="url(#gG)"/>
<circle cx="75.9" cy="29.3" r="4.9" fill="url(#gG)"/>
<circle cx="109.4" cy="18.9" r="4.9" fill="url(#gG)"/>
<circle cx="126.0" cy="26.6" r="4.9" fill="url(#gG)"/>
<circle cx="59.0" cy="119.3" r="4.9" fill="url(#gG)"/>
<circle cx="75.9" cy="126.4" r="4.9" fill="url(#gG)"/>
<circle cx="109.5" cy="116.8" r="4.9" fill="url(#gG)"/>
<circle cx="126.1" cy="124.4" r="4.9" fill="url(#gG)"/>
<circle cx="59.0" cy="217.4" r="4.9" fill="url(#gG)"/>
<circle cx="75.9" cy="225.2" r="4.9" fill="url(#gG)"/>
<circle cx="109.3" cy="214.9" r="4.9" fill="url(#gG)"/>
<circle cx="126.1" cy="222.7" r="4.9" fill="url(#gG)"/>
<circle cx="59.0" cy="70.3" r="7.5" fill="url(#gB)"/>
<circle cx="59.0" cy="168.4" r="7.5" fill="url(#gB)"/>
<circle cx="75.9" cy="78.2" r="7.5" fill="url(#gB)"/>
<circle cx="75.9" cy="176.0" r="7.5" fill="url(#gB)"/>
<circle cx="109.5" cy="67.8" r="7.5" fill="url(#gB)"/>
<circle cx="109.5" cy="165.7" r="7.5" fill="url(#gB)"/>
<circle cx="126.1" cy="75.5" r="7.5" fill="url(#gB)"/>
<circle cx="126.1" cy="173.2" r="7.5" fill="url(#gB)"/>
<text x="137.5" y="79.6" font-size="10" fill="#111" stroke="#111" stroke-width="0.3">Ba</text>
<text x="137.5" y="98.0" font-size="10" fill="#111" stroke="#111" stroke-width="0.3">Fe</text>
<text x="137.5" y="109.6" font-size="10" fill="#111" stroke="#111" stroke-width="0.3">Cu</text>
<text x="137.5" y="127.6" font-size="10" fill="#111" stroke="#111" stroke-width="0.3">Y</text>
<line x1="130" y1="94.2" x2="99" y2="97.6" stroke="#111" stroke-width="1"/>
<line x1="130" y1="104.3" x2="99" y2="100.8" stroke="#111" stroke-width="1"/>
<text x="63" y="61.5" font-size="10" fill="#111" stroke="#111" stroke-width="0.3"><tspan font-style="italic">J</tspan><tspan font-size="7" dy="2">c2</tspan></text>
<text x="92" y="126.5" font-size="10" fill="#111" stroke="#111" stroke-width="0.3"><tspan font-style="italic">J</tspan><tspan font-size="7" dy="2">c1</tspan></text>
<line x1="22.6" y1="169.2" x2="22.6" y2="148.9" stroke="#000" stroke-width="0.85"/>
<polygon points="22.6,144.5 25.7,150.0 19.5,150.0" fill="#000"/>
<text x="22.6" y="139.5" font-size="10" fill="#111" stroke="#111" stroke-width="0.3" text-anchor="middle">c</text>
<line x1="22.6" y1="169.2" x2="13.2" y2="169.2" stroke="#000" stroke-width="0.85"/>
<polygon points="8.8,169.2 14.3,166.1 14.3,172.3" fill="#000"/>
<text x="3.2" y="174.0" font-size="10" fill="#111" stroke="#111" stroke-width="0.3" text-anchor="middle">a</text>
<line x1="22.6" y1="169.2" x2="31.4" y2="174.1" stroke="#000" stroke-width="0.85"/>
<polygon points="35.2,176.2 28.9,176.2 31.9,170.8" fill="#000"/>
<text x="41.5" y="183.0" font-size="10" fill="#111" stroke="#111" stroke-width="0.3" text-anchor="middle">b</text>
<text x="0.5" y="275.5" font-size="14" fill="#000" stroke="#000" stroke-width="0.3" font-weight="bold">b</text>
<text x="61.5" y="286.5" font-size="10" fill="#111" stroke="#111" stroke-width="0.3">Collinear</text>
<g stroke="#9c9c9c" stroke-width="0.85" fill="none">
<rect x="43.2" y="296.8" width="289.5" height="29.7"/>
<line x1="101.1" y1="296.8" x2="101.1" y2="326.5"/>
<line x1="159.0" y1="296.8" x2="159.0" y2="326.5"/>
<line x1="216.9" y1="296.8" x2="216.9" y2="326.5"/>
<line x1="274.8" y1="296.8" x2="274.8" y2="326.5"/>
</g>
<polygon points="44.4,311.6 61.8,297.3 61.8,326.0" fill="#8a8ade" fill-opacity="0.8"/>
<polygon points="99.9,311.6 83.1,297.3 83.1,326.0" fill="#8a8ade" fill-opacity="0.8"/>
<line x1="53.9" y1="321.9" x2="59.7" y2="306.3" stroke="#99602c" stroke-width="1.4"/>
<polygon points="61.7,301.1 61.5,308.5 57.0,306.8" fill="#99602c"/>
<circle cx="57.8" cy="311.5" r="1.4" fill="#22229a"/>
<line x1="90.8" y1="301.1" x2="85.0" y2="316.7" stroke="#99602c" stroke-width="1.4"/>
<polygon points="83.0,321.9 83.2,314.5 87.7,316.2" fill="#99602c"/>
<circle cx="86.9" cy="311.5" r="1.4" fill="#22229a"/>
<polygon points="102.3,311.6 119.7,297.3 119.7,326.0" fill="#8a8ade" fill-opacity="0.8"/>
<polygon points="157.8,311.6 141.0,297.3 141.0,326.0" fill="#8a8ade" fill-opacity="0.8"/>
<line x1="119.6" y1="301.1" x2="113.8" y2="316.7" stroke="#99602c" stroke-width="1.4"/>
<polygon points="111.8,321.9 112.0,314.5 116.5,316.2" fill="#99602c"/>
<circle cx="115.7" cy="311.5" r="1.4" fill="#22229a"/>
<line x1="140.9" y1="321.9" x2="146.7" y2="306.3" stroke="#99602c" stroke-width="1.4"/>
<polygon points="148.7,301.1 148.5,308.5 144.0,306.8" fill="#99602c"/>
<circle cx="144.8" cy="311.5" r="1.4" fill="#22229a"/>
<polygon points="160.2,311.6 177.6,297.3 177.6,326.0" fill="#8a8ade" fill-opacity="0.8"/>
<polygon points="215.7,311.6 198.9,297.3 198.9,326.0" fill="#8a8ade" fill-opacity="0.8"/>
<line x1="169.7" y1="321.9" x2="175.5" y2="306.3" stroke="#99602c" stroke-width="1.4"/>
<polygon points="177.5,301.1 177.3,308.5 172.8,306.8" fill="#99602c"/>
<circle cx="173.6" cy="311.5" r="1.4" fill="#22229a"/>
<line x1="206.6" y1="301.1" x2="200.8" y2="316.7" stroke="#99602c" stroke-width="1.4"/>
<polygon points="198.8,321.9 199.0,314.5 203.5,316.2" fill="#99602c"/>
<circle cx="202.7" cy="311.5" r="1.4" fill="#22229a"/>
<polygon points="218.1,311.6 235.5,297.3 235.5,326.0" fill="#8a8ade" fill-opacity="0.8"/>
<polygon points="273.6,311.6 256.8,297.3 256.8,326.0" fill="#8a8ade" fill-opacity="0.8"/>
<line x1="235.4" y1="301.1" x2="229.6" y2="316.7" stroke="#99602c" stroke-width="1.4"/>
<polygon points="227.6,321.9 227.8,314.5 232.3,316.2" fill="#99602c"/>
<circle cx="231.5" cy="311.5" r="1.4" fill="#22229a"/>
<line x1="256.7" y1="321.9" x2="262.5" y2="306.3" stroke="#99602c" stroke-width="1.4"/>
<polygon points="264.5,301.1 264.3,308.5 259.8,306.8" fill="#99602c"/>
<circle cx="260.6" cy="311.5" r="1.4" fill="#22229a"/>
<polygon points="276.0,311.6 293.4,297.3 293.4,326.0" fill="#8a8ade" fill-opacity="0.8"/>
<polygon points="331.5,311.6 314.7,297.3 314.7,326.0" fill="#8a8ade" fill-opacity="0.8"/>
<line x1="285.5" y1="321.9" x2="291.3" y2="306.3" stroke="#99602c" stroke-width="1.4"/>
<polygon points="293.3,301.1 293.1,308.5 288.6,306.8" fill="#99602c"/>
<circle cx="289.4" cy="311.5" r="1.4" fill="#22229a"/>
<line x1="322.4" y1="301.1" x2="316.6" y2="316.7" stroke="#99602c" stroke-width="1.4"/>
<polygon points="314.6,321.9 314.8,314.5 319.3,316.2" fill="#99602c"/>
<circle cx="318.5" cy="311.5" r="1.4" fill="#22229a"/>
<circle cx="72.2" cy="296.8" r="1.6" fill="#4fc53a"/>
<circle cx="130.1" cy="296.8" r="1.6" fill="#4fc53a"/>
<circle cx="187.9" cy="296.8" r="1.6" fill="#4fc53a"/>
<circle cx="245.9" cy="296.8" r="1.6" fill="#4fc53a"/>
<circle cx="303.8" cy="296.8" r="1.6" fill="#4fc53a"/>
<circle cx="72.2" cy="326.5" r="1.6" fill="#4fc53a"/>
<circle cx="130.1" cy="326.5" r="1.6" fill="#4fc53a"/>
<circle cx="187.9" cy="326.5" r="1.6" fill="#4fc53a"/>
<circle cx="245.9" cy="326.5" r="1.6" fill="#4fc53a"/>
<circle cx="303.8" cy="326.5" r="1.6" fill="#4fc53a"/>
<circle cx="43.2" cy="296.8" r="2.8" fill="#1a1ec8" stroke="#0c0f90" stroke-width="0.4"/>
<circle cx="101.1" cy="296.8" r="2.8" fill="#1a1ec8" stroke="#0c0f90" stroke-width="0.4"/>
<circle cx="159.0" cy="296.8" r="2.8" fill="#1a1ec8" stroke="#0c0f90" stroke-width="0.4"/>
<circle cx="216.9" cy="296.8" r="2.8" fill="#1a1ec8" stroke="#0c0f90" stroke-width="0.4"/>
<circle cx="274.8" cy="296.8" r="2.8" fill="#1a1ec8" stroke="#0c0f90" stroke-width="0.4"/>
<circle cx="332.7" cy="296.8" r="2.8" fill="#1a1ec8" stroke="#0c0f90" stroke-width="0.4"/>
<circle cx="43.2" cy="326.5" r="2.8" fill="#1a1ec8" stroke="#0c0f90" stroke-width="0.4"/>
<circle cx="101.1" cy="326.5" r="2.8" fill="#1a1ec8" stroke="#0c0f90" stroke-width="0.4"/>
<circle cx="159.0" cy="326.5" r="2.8" fill="#1a1ec8" stroke="#0c0f90" stroke-width="0.4"/>
<circle cx="216.9" cy="326.5" r="2.8" fill="#1a1ec8" stroke="#0c0f90" stroke-width="0.4"/>
<circle cx="274.8" cy="326.5" r="2.8" fill="#1a1ec8" stroke="#0c0f90" stroke-width="0.4"/>
<circle cx="332.7" cy="326.5" r="2.8" fill="#1a1ec8" stroke="#0c0f90" stroke-width="0.4"/>
<line x1="9.5" y1="327.4" x2="9.5" y2="316.9" stroke="#000" stroke-width="0.85"/>
<polygon points="9.5,312.5 12.6,318.0 6.4,318.0" fill="#000"/>
<text x="9.5" y="309.5" font-size="10" fill="#111" stroke="#111" stroke-width="0.3" text-anchor="middle">a</text>
<line x1="9.5" y1="327.4" x2="28.3" y2="327.4" stroke="#000" stroke-width="0.85"/>
<polygon points="32.7,327.4 27.2,330.5 27.2,324.3" fill="#000"/>
<text x="29.6" y="322.0" font-size="10" fill="#111" stroke="#111" stroke-width="0.3" text-anchor="middle">c</text>
<line x1="65.7" y1="336.2" x2="80.4" y2="336.2" stroke="#000" stroke-width="1.5"/>
<polygon points="85.0,336.2 79.2,339.2 79.2,333.2" fill="#000"/>
<polygon points="61.1,336.2 66.9,339.2 66.9,333.2" fill="#000"/>
<text x="72.9" y="350.5" font-size="10" fill="#111" stroke="#111" stroke-width="0.3" text-anchor="middle">AFM</text>
<line x1="123.6" y1="336.2" x2="138.3" y2="336.2" stroke="#000" stroke-width="1.5"/>
<polygon points="142.9,336.2 137.1,339.2 137.1,333.2" fill="#000"/>
<polygon points="119.0,336.2 124.8,339.2 124.8,333.2" fill="#000"/>
<text x="130.8" y="350.5" font-size="10" fill="#111" stroke="#111" stroke-width="0.3" text-anchor="middle">AFM</text>
<line x1="181.5" y1="336.2" x2="196.2" y2="336.2" stroke="#000" stroke-width="1.5"/>
<polygon points="200.8,336.2 195.0,339.2 195.0,333.2" fill="#000"/>
<polygon points="176.9,336.2 182.7,339.2 182.7,333.2" fill="#000"/>
<text x="188.7" y="350.5" font-size="10" fill="#111" stroke="#111" stroke-width="0.3" text-anchor="middle">AFM</text>
<line x1="239.4" y1="336.2" x2="254.1" y2="336.2" stroke="#000" stroke-width="1.5"/>
<polygon points="258.7,336.2 252.9,339.2 252.9,333.2" fill="#000"/>
<polygon points="234.8,336.2 240.6,339.2 240.6,333.2" fill="#000"/>
<text x="246.6" y="350.5" font-size="10" fill="#111" stroke="#111" stroke-width="0.3" text-anchor="middle">AFM</text>
<line x1="297.3" y1="336.2" x2="312.0" y2="336.2" stroke="#000" stroke-width="1.5"/>
<polygon points="316.6,336.2 310.8,339.2 310.8,333.2" fill="#000"/>
<polygon points="292.7,336.2 298.5,339.2 298.5,333.2" fill="#000"/>
<text x="304.5" y="350.5" font-size="10" fill="#111" stroke="#111" stroke-width="0.3" text-anchor="middle">AFM</text>
<line x1="93.4" y1="336.2" x2="109.4" y2="336.2" stroke="#e41a1c" stroke-width="1.5"/>
<polygon points="114.0,336.2 108.2,339.2 108.2,333.2" fill="#e41a1c"/>
<polygon points="88.8,336.2 94.6,339.2 94.6,333.2" fill="#e41a1c"/>
<text x="101.3" y="350.5" font-size="10" fill="#e41a1c" stroke="#e41a1c" stroke-width="0.3" text-anchor="middle">FM</text>
<line x1="151.3" y1="336.2" x2="167.3" y2="336.2" stroke="#e41a1c" stroke-width="1.5"/>
<polygon points="171.9,336.2 166.1,339.2 166.1,333.2" fill="#e41a1c"/>
<polygon points="146.7,336.2 152.5,339.2 152.5,333.2" fill="#e41a1c"/>
<text x="159.2" y="350.5" font-size="10" fill="#e41a1c" stroke="#e41a1c" stroke-width="0.3" text-anchor="middle">FM</text>
<line x1="209.2" y1="336.2" x2="225.2" y2="336.2" stroke="#e41a1c" stroke-width="1.5"/>
<polygon points="229.8,336.2 224.0,339.2 224.0,333.2" fill="#e41a1c"/>
<polygon points="204.6,336.2 210.4,339.2 210.4,333.2" fill="#e41a1c"/>
<text x="217.1" y="350.5" font-size="10" fill="#e41a1c" stroke="#e41a1c" stroke-width="0.3" text-anchor="middle">FM</text>
<line x1="267.1" y1="336.2" x2="283.1" y2="336.2" stroke="#e41a1c" stroke-width="1.5"/>
<polygon points="287.7,336.2 281.9,339.2 281.9,333.2" fill="#e41a1c"/>
<polygon points="262.5,336.2 268.3,339.2 268.3,333.2" fill="#e41a1c"/>
<text x="275.0" y="350.5" font-size="10" fill="#e41a1c" stroke="#e41a1c" stroke-width="0.3" text-anchor="middle">FM</text>
<path d="M234.8,292.4 C238,286.2 251.5,286.2 254.9,292.4" fill="none" stroke="#000" stroke-width="1.5"/>
<path d="M262.5,292.4 C268,284.5 287,284.5 292.1,292.4" fill="none" stroke="#e41a1c" stroke-width="1.5"/>
<text x="238.5" y="280.2" font-size="10" fill="#111" stroke="#111" stroke-width="0.3"><tspan font-style="italic">J</tspan><tspan font-size="7" dy="2">c1</tspan></text>
<text x="271" y="279.5" font-size="10" fill="#e41a1c" stroke="#e41a1c" stroke-width="0.3"><tspan font-style="italic">J</tspan><tspan font-size="7" dy="2">c2</tspan></text>
<text x="0.5" y="374.5" font-size="14" fill="#000" stroke="#000" stroke-width="0.3" font-weight="bold">c</text>
<text x="61.5" y="377.8" font-size="10" fill="#111" stroke="#111" stroke-width="0.3">Spiral</text>
<g stroke="#9c9c9c" stroke-width="0.85" fill="none">
<rect x="43.9" y="388.3" width="289.3" height="29.2"/>
<line x1="101.8" y1="388.3" x2="101.8" y2="417.5"/>
<line x1="159.6" y1="388.3" x2="159.6" y2="417.5"/>
<line x1="217.4" y1="388.3" x2="217.4" y2="417.5"/>
<line x1="275.3" y1="388.3" x2="275.3" y2="417.5"/>
</g>
<line x1="47.7" y1="410.2" x2="65.1" y2="399.4" stroke="#99602c" stroke-width="1.4"/>
<polygon points="69.8,396.4 65.1,402.1 62.6,398.1" fill="#99602c"/>
<circle cx="58.8" cy="403.3" r="1.4" fill="#22229a"/>
<line x1="99.2" y1="396.4" x2="81.4" y2="407.3" stroke="#99602c" stroke-width="1.4"/>
<polygon points="76.6,410.2 81.3,404.5 83.8,408.6" fill="#99602c"/>
<circle cx="87.9" cy="403.3" r="1.4" fill="#22229a"/>
<line x1="126.9" y1="397.1" x2="112.3" y2="406.1" stroke="#99602c" stroke-width="1.4"/>
<polygon points="107.5,409.0 112.2,403.3 114.7,407.4" fill="#99602c"/>
<circle cx="117.2" cy="403.1" r="1.4" fill="#22229a"/>
<line x1="135.7" y1="409.0" x2="149.1" y2="400.6" stroke="#99602c" stroke-width="1.4"/>
<polygon points="153.8,397.6 149.2,403.4 146.6,399.3" fill="#99602c"/>
<circle cx="144.8" cy="403.3" r="1.4" fill="#22229a"/>
<line x1="170.3" y1="405.3" x2="177.6" y2="400.9" stroke="#9a6a3a" stroke-width="1.6"/>
<circle cx="176.1" cy="401.8" r="2.2" fill="#2a2aa8"/>
<line x1="200.3" y1="404.3" x2="207.3" y2="400.7" stroke="#9a6a3a" stroke-width="1.6"/>
<circle cx="201.3" cy="403.8" r="2.2" fill="#7a4a2a"/>
<line x1="229.0" y1="404.6" x2="235.0" y2="400.8" stroke="#9a6a3a" stroke-width="1.6"/>
<circle cx="232.3" cy="402.5" r="2.2" fill="#7a4a2a"/>
<line x1="264.3" y1="401.0" x2="257.0" y2="404.2" stroke="#9a6a3a" stroke-width="1.6"/>
<circle cx="258.5" cy="403.6" r="2.2" fill="#2a2aa8"/>
<line x1="298.9" y1="397.1" x2="286.7" y2="404.7" stroke="#99602c" stroke-width="1.4"/>
<polygon points="282.0,407.7 286.7,401.9 289.2,406.0" fill="#99602c"/>
<circle cx="290.4" cy="402.4" r="1.4" fill="#22229a"/>
<line x1="309.7" y1="408.2" x2="322.5" y2="400.5" stroke="#99602c" stroke-width="1.4"/>
<polygon points="327.3,397.6 322.5,403.3 320.1,399.2" fill="#99602c"/>
<circle cx="318.5" cy="402.9" r="1.4" fill="#22229a"/>
<circle cx="72.8" cy="388.3" r="1.6" fill="#4fc53a"/>
<circle cx="130.7" cy="388.3" r="1.6" fill="#4fc53a"/>
<circle cx="188.5" cy="388.3" r="1.6" fill="#4fc53a"/>
<circle cx="246.4" cy="388.3" r="1.6" fill="#4fc53a"/>
<circle cx="304.2" cy="388.3" r="1.6" fill="#4fc53a"/>
<circle cx="72.8" cy="417.5" r="1.6" fill="#4fc53a"/>
<circle cx="130.7" cy="417.5" r="1.6" fill="#4fc53a"/>
<circle cx="188.5" cy="417.5" r="1.6" fill="#4fc53a"/>
<circle cx="246.4" cy="417.5" r="1.6" fill="#4fc53a"/>
<circle cx="304.2" cy="417.5" r="1.6" fill="#4fc53a"/>
<circle cx="43.9" cy="388.3" r="2.8" fill="#1a1ec8" stroke="#0c0f90" stroke-width="0.4"/>
<circle cx="101.8" cy="388.3" r="2.8" fill="#1a1ec8" stroke="#0c0f90" stroke-width="0.4"/>
<circle cx="159.6" cy="388.3" r="2.8" fill="#1a1ec8" stroke="#0c0f90" stroke-width="0.4"/>
<circle cx="217.4" cy="388.3" r="2.8" fill="#1a1ec8" stroke="#0c0f90" stroke-width="0.4"/>
<circle cx="275.3" cy="388.3" r="2.8" fill="#1a1ec8" stroke="#0c0f90" stroke-width="0.4"/>
<circle cx="333.2" cy="388.3" r="2.8" fill="#1a1ec8" stroke="#0c0f90" stroke-width="0.4"/>
<circle cx="43.9" cy="417.5" r="2.8" fill="#1a1ec8" stroke="#0c0f90" stroke-width="0.4"/>
<circle cx="101.8" cy="417.5" r="2.8" fill="#1a1ec8" stroke="#0c0f90" stroke-width="0.4"/>
<circle cx="159.6" cy="417.5" r="2.8" fill="#1a1ec8" stroke="#0c0f90" stroke-width="0.4"/>
<circle cx="217.4" cy="417.5" r="2.8" fill="#1a1ec8" stroke="#0c0f90" stroke-width="0.4"/>
<circle cx="275.3" cy="417.5" r="2.8" fill="#1a1ec8" stroke="#0c0f90" stroke-width="0.4"/>
<circle cx="333.2" cy="417.5" r="2.8" fill="#1a1ec8" stroke="#0c0f90" stroke-width="0.4"/>
<line x1="9.5" y1="417.2" x2="9.5" y2="407.9" stroke="#000" stroke-width="0.85"/>
<polygon points="9.5,403.5 12.6,409.0 6.4,409.0" fill="#000"/>
<text x="9.5" y="400.0" font-size="10" fill="#111" stroke="#111" stroke-width="0.3" text-anchor="middle">a</text>
<line x1="9.5" y1="417.2" x2="27.8" y2="417.2" stroke="#000" stroke-width="0.85"/>
<polygon points="32.2,417.2 26.7,420.3 26.7,414.1" fill="#000"/>
<text x="29.6" y="412.5" font-size="10" fill="#111" stroke="#111" stroke-width="0.3" text-anchor="middle">c</text>
<g stroke="#9c9c9c" stroke-width="0.85" fill="none">
<line x1="43.9" y1="436.6" x2="333.2" y2="434.1"/>
<line x1="47.6" y1="449.9" x2="336.9" y2="447.4"/>
<line x1="42.6" y1="463.5" x2="331.9" y2="461.0"/>
<line x1="45.6" y1="476.3" x2="334.9" y2="473.8"/>
<polygon points="43.9,436.6 47.6,449.9 45.6,476.3 42.6,463.5"/>
<polygon points="101.8,436.1 105.5,449.4 103.5,475.8 100.5,463.0"/>
<polygon points="159.6,435.6 163.3,448.9 161.3,475.3 158.3,462.5"/>
<polygon points="217.4,435.1 221.1,448.4 219.1,474.8 216.1,462.0"/>
<polygon points="275.3,434.6 279.0,447.9 277.0,474.3 274.0,461.5"/>
<polygon points="333.2,434.1 336.9,447.4 334.9,473.8 331.9,461.0"/>
</g>
<ellipse cx="59.0" cy="456.0" rx="9.9" ry="13.2" fill="#b8a898" fill-opacity="0.6" transform="rotate(28 59.0 456.0)"/>
<ellipse cx="88.0" cy="456.0" rx="9.9" ry="13.2" fill="#b8a898" fill-opacity="0.6" transform="rotate(28 88.0 456.0)"/>
<ellipse cx="118.0" cy="455.4" rx="9.9" ry="13.2" fill="#b8a898" fill-opacity="0.6" transform="rotate(28 118.0 455.4)"/>
<ellipse cx="145.7" cy="455.4" rx="9.9" ry="13.2" fill="#b8a898" fill-opacity="0.6" transform="rotate(28 145.7 455.4)"/>
<ellipse cx="175.5" cy="455.0" rx="9.9" ry="13.2" fill="#b8a898" fill-opacity="0.6" transform="rotate(28 175.5 455.0)"/>
<ellipse cx="204.5" cy="455.0" rx="9.9" ry="13.2" fill="#b8a898" fill-opacity="0.6" transform="rotate(28 204.5 455.0)"/>
<ellipse cx="233.5" cy="455.0" rx="9.9" ry="13.2" fill="#b8a898" fill-opacity="0.6" transform="rotate(28 233.5 455.0)"/>
<ellipse cx="262.0" cy="455.0" rx="9.9" ry="13.2" fill="#b8a898" fill-opacity="0.6" transform="rotate(28 262.0 455.0)"/>
<ellipse cx="291.5" cy="455.0" rx="9.9" ry="13.2" fill="#b8a898" fill-opacity="0.6" transform="rotate(28 291.5 455.0)"/>
<ellipse cx="320.0" cy="455.0" rx="9.9" ry="13.2" fill="#b8a898" fill-opacity="0.6" transform="rotate(28 320.0 455.0)"/>
<line x1="49.0" y1="458.4" x2="64.4" y2="454.7" stroke="#99602c" stroke-width="1.4"/>
<polygon points="69.8,453.4 63.6,457.4 62.4,452.7" fill="#99602c"/>
<circle cx="59.4" cy="455.9" r="1.4" fill="#22229a"/>
<line x1="99.2" y1="453.0" x2="83.3" y2="457.0" stroke="#99602c" stroke-width="1.4"/>
<polygon points="77.9,458.4 84.1,454.4 85.3,459.0" fill="#99602c"/>
<circle cx="88.6" cy="455.7" r="1.4" fill="#22229a"/>
<line x1="126.9" y1="445.4" x2="113.0" y2="460.8" stroke="#99602c" stroke-width="1.4"/>
<polygon points="109.3,465.0 112.2,458.2 115.8,461.4" fill="#99602c"/>
<circle cx="118.1" cy="455.2" r="1.4" fill="#22229a"/>
<line x1="137.0" y1="465.5" x2="150.7" y2="450.7" stroke="#99602c" stroke-width="1.4"/>
<polygon points="154.5,446.6 151.5,453.4 148.0,450.1" fill="#99602c"/>
<circle cx="145.8" cy="456.1" r="1.4" fill="#22229a"/>
<line x1="173.3" y1="465.5" x2="177.6" y2="448.3" stroke="#99602c" stroke-width="1.4"/>
<polygon points="179.0,442.9 179.6,450.3 175.0,449.1" fill="#99602c"/>
<circle cx="176.2" cy="454.2" r="1.4" fill="#22229a"/>
<line x1="208.4" y1="442.9" x2="202.6" y2="461.4" stroke="#99602c" stroke-width="1.4"/>
<polygon points="200.9,466.7 200.7,459.3 205.3,460.7" fill="#99602c"/>
<circle cx="204.7" cy="454.8" r="1.4" fill="#22229a"/>
<line x1="231.0" y1="444.1" x2="233.8" y2="460.0" stroke="#99602c" stroke-width="1.4"/>
<polygon points="234.8,465.5 231.2,459.0 235.9,458.2" fill="#99602c"/>
<circle cx="232.9" cy="454.8" r="1.4" fill="#22229a"/>
<line x1="264.5" y1="465.5" x2="261.2" y2="449.6" stroke="#99602c" stroke-width="1.4"/>
<polygon points="260.0,444.1 263.8,450.5 259.1,451.4" fill="#99602c"/>
<circle cx="262.2" cy="454.8" r="1.4" fill="#22229a"/>
<line x1="298.9" y1="459.2" x2="288.6" y2="452.8" stroke="#99602c" stroke-width="1.4"/>
<polygon points="283.8,449.9 291.0,451.5 288.5,455.6" fill="#99602c"/>
<circle cx="291.4" cy="454.5" r="1.4" fill="#22229a"/>
<line x1="312.2" y1="449.1" x2="322.6" y2="456.1" stroke="#99602c" stroke-width="1.4"/>
<polygon points="327.3,459.2 320.1,457.3 322.8,453.3" fill="#99602c"/>
<circle cx="319.8" cy="454.1" r="1.4" fill="#22229a"/>
<circle cx="72.8" cy="436.4" r="1.5" fill="#4fc53a"/>
<circle cx="130.7" cy="435.9" r="1.5" fill="#4fc53a"/>
<circle cx="188.5" cy="435.4" r="1.5" fill="#4fc53a"/>
<circle cx="246.4" cy="434.9" r="1.5" fill="#4fc53a"/>
<circle cx="304.2" cy="434.4" r="1.5" fill="#4fc53a"/>
<circle cx="76.5" cy="449.6" r="1.5" fill="#4fc53a"/>
<circle cx="134.4" cy="449.1" r="1.5" fill="#4fc53a"/>
<circle cx="192.2" cy="448.6" r="1.5" fill="#4fc53a"/>
<circle cx="250.1" cy="448.1" r="1.5" fill="#4fc53a"/>
<circle cx="307.9" cy="447.7" r="1.5" fill="#4fc53a"/>
<circle cx="71.5" cy="463.3" r="1.5" fill="#4fc53a"/>
<circle cx="129.4" cy="462.8" r="1.5" fill="#4fc53a"/>
<circle cx="187.2" cy="462.3" r="1.5" fill="#4fc53a"/>
<circle cx="245.1" cy="461.8" r="1.5" fill="#4fc53a"/>
<circle cx="302.9" cy="461.3" r="1.5" fill="#4fc53a"/>
<circle cx="74.5" cy="476.0" r="1.5" fill="#4fc53a"/>
<circle cx="132.4" cy="475.5" r="1.5" fill="#4fc53a"/>
<circle cx="190.2" cy="475.1" r="1.5" fill="#4fc53a"/>
<circle cx="248.1" cy="474.6" r="1.5" fill="#4fc53a"/>
<circle cx="305.9" cy="474.1" r="1.5" fill="#4fc53a"/>
<circle cx="43.9" cy="436.6" r="2.8" fill="#1a1ec8" stroke="#0c0f90" stroke-width="0.4"/>
<circle cx="101.8" cy="436.1" r="2.8" fill="#1a1ec8" stroke="#0c0f90" stroke-width="0.4"/>
<circle cx="159.6" cy="435.6" r="2.8" fill="#1a1ec8" stroke="#0c0f90" stroke-width="0.4"/>
<circle cx="217.4" cy="435.1" r="2.8" fill="#1a1ec8" stroke="#0c0f90" stroke-width="0.4"/>
<circle cx="275.3" cy="434.6" r="2.8" fill="#1a1ec8" stroke="#0c0f90" stroke-width="0.4"/>
<circle cx="333.2" cy="434.1" r="2.8" fill="#1a1ec8" stroke="#0c0f90" stroke-width="0.4"/>
<circle cx="47.6" cy="449.9" r="2.8" fill="#1a1ec8" stroke="#0c0f90" stroke-width="0.4"/>
<circle cx="105.5" cy="449.4" r="2.8" fill="#1a1ec8" stroke="#0c0f90" stroke-width="0.4"/>
<circle cx="163.3" cy="448.9" r="2.8" fill="#1a1ec8" stroke="#0c0f90" stroke-width="0.4"/>
<circle cx="221.1" cy="448.4" r="2.8" fill="#1a1ec8" stroke="#0c0f90" stroke-width="0.4"/>
<circle cx="279.0" cy="447.9" r="2.8" fill="#1a1ec8" stroke="#0c0f90" stroke-width="0.4"/>
<circle cx="336.9" cy="447.4" r="2.8" fill="#1a1ec8" stroke="#0c0f90" stroke-width="0.4"/>
<circle cx="42.6" cy="463.5" r="2.8" fill="#1a1ec8" stroke="#0c0f90" stroke-width="0.4"/>
<circle cx="100.5" cy="463.0" r="2.8" fill="#1a1ec8" stroke="#0c0f90" stroke-width="0.4"/>
<circle cx="158.3" cy="462.5" r="2.8" fill="#1a1ec8" stroke="#0c0f90" stroke-width="0.4"/>
<circle cx="216.1" cy="462.0" r="2.8" fill="#1a1ec8" stroke="#0c0f90" stroke-width="0.4"/>
<circle cx="274.0" cy="461.5" r="2.8" fill="#1a1ec8" stroke="#0c0f90" stroke-width="0.4"/>
<circle cx="331.9" cy="461.0" r="2.8" fill="#1a1ec8" stroke="#0c0f90" stroke-width="0.4"/>
<circle cx="45.6" cy="476.3" r="2.8" fill="#1a1ec8" stroke="#0c0f90" stroke-width="0.4"/>
<circle cx="103.5" cy="475.8" r="2.8" fill="#1a1ec8" stroke="#0c0f90" stroke-width="0.4"/>
<circle cx="161.3" cy="475.3" r="2.8" fill="#1a1ec8" stroke="#0c0f90" stroke-width="0.4"/>
<circle cx="219.1" cy="474.8" r="2.8" fill="#1a1ec8" stroke="#0c0f90" stroke-width="0.4"/>
<circle cx="277.0" cy="474.3" r="2.8" fill="#1a1ec8" stroke="#0c0f90" stroke-width="0.4"/>
<circle cx="334.9" cy="473.8" r="2.8" fill="#1a1ec8" stroke="#0c0f90" stroke-width="0.4"/>
<line x1="10.0" y1="449.2" x2="5.6" y2="439.4" stroke="#000" stroke-width="0.85"/>
<polygon points="3.8,435.4 8.9,439.1 3.2,441.7" fill="#000"/>
<text x="10.5" y="433.5" font-size="10" fill="#111" stroke="#111" stroke-width="0.3" text-anchor="middle">a</text>
<line x1="10.0" y1="449.2" x2="28.3" y2="449.2" stroke="#000" stroke-width="0.85"/>
<polygon points="32.7,449.2 27.2,452.3 27.2,446.1" fill="#000"/>
<text x="29.6" y="443.8" font-size="10" fill="#111" stroke="#111" stroke-width="0.3" text-anchor="middle">c</text>
<line x1="10.0" y1="449.2" x2="10.0" y2="459.6" stroke="#000" stroke-width="0.85"/>
<polygon points="10.0,464.0 6.9,458.5 13.1,458.5" fill="#000"/>
<text x="17.0" y="467.2" font-size="10" fill="#111" stroke="#111" stroke-width="0.3" text-anchor="middle">b</text>
<line x1="65.7" y1="485.1" x2="80.4" y2="485.1" stroke="#000" stroke-width="1.5"/>
<polygon points="85.0,485.1 79.2,488.1 79.2,482.1" fill="#000"/>
<polygon points="61.1,485.1 66.9,488.1 66.9,482.1" fill="#000"/>
<text x="72.9" y="499.2" font-size="10" fill="#111" stroke="#111" stroke-width="0.3" text-anchor="middle">AFM</text>
<line x1="123.6" y1="485.1" x2="138.3" y2="485.1" stroke="#000" stroke-width="1.5"/>
<polygon points="142.9,485.1 137.1,488.1 137.1,482.1" fill="#000"/>
<polygon points="119.0,485.1 124.8,488.1 124.8,482.1" fill="#000"/>
<text x="130.8" y="499.2" font-size="10" fill="#111" stroke="#111" stroke-width="0.3" text-anchor="middle">AFM</text>
<line x1="181.5" y1="485.1" x2="196.2" y2="485.1" stroke="#000" stroke-width="1.5"/>
<polygon points="200.8,485.1 195.0,488.1 195.0,482.1" fill="#000"/>
<polygon points="176.9,485.1 182.7,488.1 182.7,482.1" fill="#000"/>
<text x="188.7" y="499.2" font-size="10" fill="#111" stroke="#111" stroke-width="0.3" text-anchor="middle">AFM</text>
<line x1="239.4" y1="485.1" x2="254.1" y2="485.1" stroke="#000" stroke-width="1.5"/>
<polygon points="258.7,485.1 252.9,488.1 252.9,482.1" fill="#000"/>
<polygon points="234.8,485.1 240.6,488.1 240.6,482.1" fill="#000"/>
<text x="246.6" y="499.2" font-size="10" fill="#111" stroke="#111" stroke-width="0.3" text-anchor="middle">AFM</text>
<line x1="297.3" y1="485.1" x2="312.0" y2="485.1" stroke="#000" stroke-width="1.5"/>
<polygon points="316.6,485.1 310.8,488.1 310.8,482.1" fill="#000"/>
<polygon points="292.7,485.1 298.5,488.1 298.5,482.1" fill="#000"/>
<text x="304.5" y="499.2" font-size="10" fill="#111" stroke="#111" stroke-width="0.3" text-anchor="middle">AFM</text>
<line x1="93.4" y1="485.1" x2="109.4" y2="485.1" stroke="#e41a1c" stroke-width="1.5" stroke-dasharray="1.3 1.1"/>
<polygon points="114.0,485.1 108.2,488.1 108.2,482.1" fill="#e41a1c"/>
<polygon points="88.8,485.1 94.6,488.1 94.6,482.1" fill="#e41a1c"/>
<text x="101.3" y="499.2" font-size="10" fill="#e41a1c" stroke="#e41a1c" stroke-width="0.3" text-anchor="middle">Non</text>
<text x="101.3" y="511.2" font-size="10" fill="#e41a1c" stroke="#e41a1c" stroke-width="0.3" text-anchor="middle">collinear</text>
<line x1="151.3" y1="485.1" x2="167.3" y2="485.1" stroke="#e41a1c" stroke-width="1.5" stroke-dasharray="1.3 1.1"/>
<polygon points="171.9,485.1 166.1,488.1 166.1,482.1" fill="#e41a1c"/>
<polygon points="146.7,485.1 152.5,488.1 152.5,482.1" fill="#e41a1c"/>
<text x="159.2" y="499.2" font-size="10" fill="#e41a1c" stroke="#e41a1c" stroke-width="0.3" text-anchor="middle">Non</text>
<text x="159.2" y="511.2" font-size="10" fill="#e41a1c" stroke="#e41a1c" stroke-width="0.3" text-anchor="middle">collinear</text>
<line x1="209.2" y1="485.1" x2="225.2" y2="485.1" stroke="#e41a1c" stroke-width="1.5" stroke-dasharray="1.3 1.1"/>
<polygon points="229.8,485.1 224.0,488.1 224.0,482.1" fill="#e41a1c"/>
<polygon points="204.6,485.1 210.4,488.1 210.4,482.1" fill="#e41a1c"/>
<text x="217.1" y="499.2" font-size="10" fill="#e41a1c" stroke="#e41a1c" stroke-width="0.3" text-anchor="middle">Non</text>
<text x="217.1" y="511.2" font-size="10" fill="#e41a1c" stroke="#e41a1c" stroke-width="0.3" text-anchor="middle">collinear</text>
<line x1="267.1" y1="485.1" x2="283.1" y2="485.1" stroke="#e41a1c" stroke-width="1.5" stroke-dasharray="1.3 1.1"/>
<polygon points="287.7,485.1 281.9,488.1 281.9,482.1" fill="#e41a1c"/>
<polygon points="262.5,485.1 268.3,488.1 268.3,482.1" fill="#e41a1c"/>
<text x="275.0" y="499.2" font-size="10" fill="#e41a1c" stroke="#e41a1c" stroke-width="0.3" text-anchor="middle">Non</text>
<text x="275.0" y="511.2" font-size="10" fill="#e41a1c" stroke="#e41a1c" stroke-width="0.3" text-anchor="middle">collinear</text>
<text x="167.3" y="12.5" font-size="14" fill="#000" stroke="#000" stroke-width="0.3" font-weight="bold">f</text>
<polygon points="210.3,31.9 212.3,32.1 214.2,32.4 216.2,32.7 218.2,32.9 220.1,33.2 222.1,33.5 224.1,33.8 226.1,34.2 228.0,34.5 230.0,34.8 232.0,35.2 233.9,35.5 235.9,35.9 237.9,36.3 239.9,36.8 241.8,37.3 243.8,37.7 245.8,37.9 247.8,38.1 249.7,38.3 251.7,38.5 253.7,38.8 255.6,39.2 257.6,39.5 259.6,39.8 261.6,40.1 263.5,40.4 265.5,40.7 267.5,40.9 269.4,41.1 271.4,41.3 273.4,41.5 275.4,41.6 277.3,41.8 279.3,41.9 281.3,42.0 283.2,42.1 285.2,42.2 287.2,42.4 289.2,42.5 291.1,42.6 293.1,42.7 295.1,42.7 297.1,42.8 299.0,42.9 301.0,42.9 303.0,42.9 304.9,42.9 306.9,42.9 308.9,42.9 310.9,42.9 312.8,42.9 314.8,42.9 316.8,42.9 318.7,42.8 320.7,42.8 322.7,42.8 324.7,42.7 326.6,42.7 326.6,89.6 324.7,89.6 322.7,89.7 320.7,89.7 318.7,89.8 316.8,89.9 314.8,90.0 312.8,90.1 310.9,90.2 308.9,90.4 306.9,90.7 304.9,90.9 303.0,91.1 301.0,91.4 299.0,91.8 297.1,92.2 295.1,92.6 293.1,93.1 291.1,93.6 289.2,94.1 287.2,94.6 285.2,95.2 283.2,95.8 281.3,96.4 279.3,97.1 277.3,97.7 275.4,98.4 273.4,99.1 271.4,99.9 269.4,100.7 267.5,101.5 265.5,102.4 263.5,103.3 261.6,104.3 259.6,105.4 257.6,106.5 255.6,107.7 253.7,108.9 251.7,110.3 249.7,111.8 247.8,113.6 245.8,115.7 243.8,117.6 241.8,119.3 239.9,121.0 237.9,122.8 235.9,124.6 233.9,126.5 232.0,128.4 230.0,130.3 228.0,132.3 226.1,134.3 224.1,136.4 222.1,138.5 220.1,140.6 218.2,142.7 216.2,144.9 214.2,147.1 212.3,149.4 210.3,151.7" fill="#d5defa"/>
<polygon points="210.3,151.7 212.3,149.4 214.2,147.1 216.2,144.9 218.2,142.7 220.1,140.6 222.1,138.5 224.1,136.4 226.1,134.3 228.0,132.3 230.0,130.3 232.0,128.4 233.9,126.5 235.9,124.6 237.9,122.8 239.9,121.0 241.8,119.3 243.8,117.6 245.8,115.7 247.8,113.6 249.7,111.8 251.7,110.3 253.7,108.9 255.6,107.7 257.6,106.5 259.6,105.4 261.6,104.3 263.5,103.3 265.5,102.4 267.5,101.5 269.4,100.7 271.4,99.9 273.4,99.1 275.4,98.4 277.3,97.7 279.3,97.1 281.3,96.4 283.2,95.8 285.2,95.2 287.2,94.6 289.2,94.1 291.1,93.6 293.1,93.1 295.1,92.6 297.1,92.2 299.0,91.8 301.0,91.4 303.0,91.1 304.9,90.9 306.9,90.7 308.9,90.4 310.9,90.2 312.8,90.1 314.8,90.0 316.8,89.9 318.7,89.8 320.7,89.7 322.7,89.7 324.7,89.6 326.6,89.6 326.6,213.0 210.3,213.0" fill="#fee8e3"/>
<polyline points="210.3,31.9 212.3,32.1 214.2,32.4 216.2,32.7 218.2,32.9 220.1,33.2 222.1,33.5 224.1,33.8 226.1,34.2 228.0,34.5 230.0,34.8 232.0,35.2 233.9,35.5 235.9,35.9 237.9,36.3 239.9,36.8 241.8,37.3 243.8,37.7 245.8,37.9 247.8,38.1 249.7,38.3 251.7,38.5 253.7,38.8 255.6,39.2 257.6,39.5 259.6,39.8 261.6,40.1 263.5,40.4 265.5,40.7 267.5,40.9 269.4,41.1 271.4,41.3 273.4,41.5 275.4,41.6 277.3,41.8 279.3,41.9 281.3,42.0 283.2,42.1 285.2,42.2 287.2,42.4 289.2,42.5 291.1,42.6 293.1,42.7 295.1,42.7 297.1,42.8 299.0,42.9 301.0,42.9 303.0,42.9 304.9,42.9 306.9,42.9 308.9,42.9 310.9,42.9 312.8,42.9 314.8,42.9 316.8,42.9 318.7,42.8 320.7,42.8 322.7,42.8 324.7,42.7 326.6,42.7" fill="none" stroke="#3050e0" stroke-width="0.8" stroke-dasharray="1.6 1.4"/>
<polyline points="210.3,151.7 212.3,149.4 214.2,147.1 216.2,144.9 218.2,142.7 220.1,140.6 222.1,138.5 224.1,136.4 226.1,134.3 228.0,132.3 230.0,130.3 232.0,128.4 233.9,126.5 235.9,124.6 237.9,122.8 239.9,121.0 241.8,119.3 243.8,117.6 245.8,115.7 247.8,113.6 249.7,111.8 251.7,110.3 253.7,108.9 255.6,107.7 257.6,106.5 259.6,105.4 261.6,104.3 263.5,103.3 265.5,102.4 267.5,101.5 269.4,100.7 271.4,99.9 273.4,99.1 275.4,98.4 277.3,97.7 279.3,97.1 281.3,96.4 283.2,95.8 285.2,95.2 287.2,94.6 289.2,94.1 291.1,93.6 293.1,93.1 295.1,92.6 297.1,92.2 299.0,91.8 301.0,91.4 303.0,91.1 304.9,90.9 306.9,90.7 308.9,90.4 310.9,90.2 312.8,90.1 314.8,90.0 316.8,89.9 318.7,89.8 320.7,89.7 322.7,89.7 324.7,89.6 326.6,89.6" fill="none" stroke="#e03030" stroke-width="0.8" stroke-dasharray="1.6 1.4"/>
<rect x="207.6" y="11.2" width="122.0" height="202.8" fill="none" stroke="#808080" stroke-width="1"/>
<g stroke="#808080" stroke-width="0.8">
<line x1="205.1" y1="213.0" x2="207.6" y2="213.0"/>
<line x1="329.6" y1="213.0" x2="332.1" y2="213.0"/>
<line x1="205.1" y1="173.2" x2="207.6" y2="173.2"/>
<line x1="329.6" y1="173.2" x2="332.1" y2="173.2"/>
<line x1="205.1" y1="133.4" x2="207.6" y2="133.4"/>
<line x1="329.6" y1="133.4" x2="332.1" y2="133.4"/>
<line x1="205.1" y1="93.6" x2="207.6" y2="93.6"/>
<line x1="329.6" y1="93.6" x2="332.1" y2="93.6"/>
<line x1="205.1" y1="53.8" x2="207.6" y2="53.8"/>
<line x1="329.6" y1="53.8" x2="332.1" y2="53.8"/>
<line x1="205.1" y1="14.0" x2="207.6" y2="14.0"/>
<line x1="329.6" y1="14.0" x2="332.1" y2="14.0"/>
<line x1="215.3" y1="214.0" x2="215.3" y2="216.5"/>
<line x1="235.0" y1="214.0" x2="235.0" y2="216.5"/>
<line x1="254.6" y1="214.0" x2="254.6" y2="216.5"/>
<line x1="274.2" y1="214.0" x2="274.2" y2="216.5"/>
<line x1="293.9" y1="214.0" x2="293.9" y2="216.5"/>
<line x1="313.6" y1="214.0" x2="313.6" y2="216.5"/>
<line x1="209.4" y1="214.0" x2="209.4" y2="215.5" stroke-width="0.5"/>
<line x1="210.9" y1="214.0" x2="210.9" y2="215.5" stroke-width="0.5"/>
<line x1="212.3" y1="214.0" x2="212.3" y2="215.5" stroke-width="0.5"/>
<line x1="213.4" y1="214.0" x2="213.4" y2="215.5" stroke-width="0.5"/>
<line x1="214.4" y1="214.0" x2="214.4" y2="215.5" stroke-width="0.5"/>
<line x1="221.2" y1="214.0" x2="221.2" y2="215.5" stroke-width="0.5"/>
<line x1="224.7" y1="214.0" x2="224.7" y2="215.5" stroke-width="0.5"/>
<line x1="227.1" y1="214.0" x2="227.1" y2="215.5" stroke-width="0.5"/>
<line x1="229.0" y1="214.0" x2="229.0" y2="215.5" stroke-width="0.5"/>
<line x1="230.6" y1="214.0" x2="230.6" y2="215.5" stroke-width="0.5"/>
<line x1="231.9" y1="214.0" x2="231.9" y2="215.5" stroke-width="0.5"/>
<line x1="233.0" y1="214.0" x2="233.0" y2="215.5" stroke-width="0.5"/>
<line x1="234.1" y1="214.0" x2="234.1" y2="215.5" stroke-width="0.5"/>
<line x1="240.9" y1="214.0" x2="240.9" y2="215.5" stroke-width="0.5"/>
<line x1="244.3" y1="214.0" x2="244.3" y2="215.5" stroke-width="0.5"/>
<line x1="246.8" y1="214.0" x2="246.8" y2="215.5" stroke-width="0.5"/>
<line x1="248.7" y1="214.0" x2="248.7" y2="215.5" stroke-width="0.5"/>
<line x1="250.2" y1="214.0" x2="250.2" y2="215.5" stroke-width="0.5"/>
<line x1="251.6" y1="214.0" x2="251.6" y2="215.5" stroke-width="0.5"/>
<line x1="252.7" y1="214.0" x2="252.7" y2="215.5" stroke-width="0.5"/>
<line x1="253.7" y1="214.0" x2="253.7" y2="215.5" stroke-width="0.5"/>
<line x1="260.5" y1="214.0" x2="260.5" y2="215.5" stroke-width="0.5"/>
<line x1="264.0" y1="214.0" x2="264.0" y2="215.5" stroke-width="0.5"/>
<line x1="266.4" y1="214.0" x2="266.4" y2="215.5" stroke-width="0.5"/>
<line x1="268.3" y1="214.0" x2="268.3" y2="215.5" stroke-width="0.5"/>
<line x1="269.9" y1="214.0" x2="269.9" y2="215.5" stroke-width="0.5"/>
<line x1="271.2" y1="214.0" x2="271.2" y2="215.5" stroke-width="0.5"/>
<line x1="272.3" y1="214.0" x2="272.3" y2="215.5" stroke-width="0.5"/>
<line x1="273.4" y1="214.0" x2="273.4" y2="215.5" stroke-width="0.5"/>
<line x1="280.2" y1="214.0" x2="280.2" y2="215.5" stroke-width="0.5"/>
<line x1="283.6" y1="214.0" x2="283.6" y2="215.5" stroke-width="0.5"/>
<line x1="286.1" y1="214.0" x2="286.1" y2="215.5" stroke-width="0.5"/>
<line x1="288.0" y1="214.0" x2="288.0" y2="215.5" stroke-width="0.5"/>
<line x1="289.5" y1="214.0" x2="289.5" y2="215.5" stroke-width="0.5"/>
<line x1="290.9" y1="214.0" x2="290.9" y2="215.5" stroke-width="0.5"/>
<line x1="292.0" y1="214.0" x2="292.0" y2="215.5" stroke-width="0.5"/>
<line x1="293.0" y1="214.0" x2="293.0" y2="215.5" stroke-width="0.5"/>
<line x1="299.8" y1="214.0" x2="299.8" y2="215.5" stroke-width="0.5"/>
<line x1="303.3" y1="214.0" x2="303.3" y2="215.5" stroke-width="0.5"/>
<line x1="305.7" y1="214.0" x2="305.7" y2="215.5" stroke-width="0.5"/>
<line x1="307.6" y1="214.0" x2="307.6" y2="215.5" stroke-width="0.5"/>
<line x1="309.2" y1="214.0" x2="309.2" y2="215.5" stroke-width="0.5"/>
<line x1="310.5" y1="214.0" x2="310.5" y2="215.5" stroke-width="0.5"/>
<line x1="311.6" y1="214.0" x2="311.6" y2="215.5" stroke-width="0.5"/>
<line x1="312.7" y1="214.0" x2="312.7" y2="215.5" stroke-width="0.5"/>
<line x1="319.5" y1="214.0" x2="319.5" y2="215.5" stroke-width="0.5"/>
<line x1="322.9" y1="214.0" x2="322.9" y2="215.5" stroke-width="0.5"/>
<line x1="325.4" y1="214.0" x2="325.4" y2="215.5" stroke-width="0.5"/>
<line x1="327.3" y1="214.0" x2="327.3" y2="215.5" stroke-width="0.5"/>
<line x1="328.8" y1="214.0" x2="328.8" y2="215.5" stroke-width="0.5"/>
</g>
<text x="201.5" y="216.6" font-size="10" fill="#111" stroke="#111" stroke-width="0.3" text-anchor="end">0</text>
<text x="201.5" y="176.8" font-size="10" fill="#111" stroke="#111" stroke-width="0.3" text-anchor="end">100</text>
<text x="201.5" y="137.0" font-size="10" fill="#111" stroke="#111" stroke-width="0.3" text-anchor="end">200</text>
<text x="201.5" y="97.2" font-size="10" fill="#111" stroke="#111" stroke-width="0.3" text-anchor="end">300</text>
<text x="201.5" y="57.4" font-size="10" fill="#111" stroke="#111" stroke-width="0.3" text-anchor="end">400</text>
<text x="201.5" y="17.6" font-size="10" fill="#111" stroke="#111" stroke-width="0.3" text-anchor="end">500</text>
<text x="215.8" y="232.5" font-size="10" fill="#111" stroke="#111" stroke-width="0.3" text-anchor="middle">10<tspan font-size="7" dy="-3.5">1</tspan></text>
<text x="235.5" y="232.5" font-size="10" fill="#111" stroke="#111" stroke-width="0.3" text-anchor="middle">10<tspan font-size="7" dy="-3.5">2</tspan></text>
<text x="255.1" y="232.5" font-size="10" fill="#111" stroke="#111" stroke-width="0.3" text-anchor="middle">10<tspan font-size="7" dy="-3.5">3</tspan></text>
<text x="274.8" y="232.5" font-size="10" fill="#111" stroke="#111" stroke-width="0.3" text-anchor="middle">10<tspan font-size="7" dy="-3.5">4</tspan></text>
<text x="294.4" y="232.5" font-size="10" fill="#111" stroke="#111" stroke-width="0.3" text-anchor="middle">10<tspan font-size="7" dy="-3.5">5</tspan></text>
<text x="314.1" y="232.5" font-size="10" fill="#111" stroke="#111" stroke-width="0.3" text-anchor="middle">10<tspan font-size="7" dy="-3.5">6</tspan></text>
<text x="266.5" y="247" font-size="10" fill="#111" stroke="#111" stroke-width="0.3" text-anchor="middle">Cooling rate (K h<tspan font-size="7" dy="-3.5">−1</tspan><tspan dy="3.5">)</tspan></text>
<text transform="translate(175.5,111.5) rotate(-90)" font-size="10" fill="#111" stroke="#111" stroke-width="0.3" text-anchor="middle">Temperature (K)</text>
<circle cx="210.3" cy="31.9" r="2.3" fill="#1a35e0"/>
<circle cx="235.9" cy="35.9" r="2.3" fill="#1a35e0"/>
<circle cx="245.2" cy="37.9" r="2.3" fill="#1a35e0"/>
<circle cx="249.6" cy="38.3" r="2.3" fill="#1a35e0"/>
<circle cx="326.6" cy="42.7" r="2.3" fill="#1a35e0"/>
<circle cx="210.3" cy="151.7" r="2.3" fill="#e0201c"/>
<circle cx="235.9" cy="124.6" r="2.3" fill="#e0201c"/>
<circle cx="245.2" cy="116.3" r="2.3" fill="#e0201c"/>
<circle cx="249.6" cy="111.9" r="2.3" fill="#e0201c"/>
<circle cx="326.6" cy="89.6" r="2.3" fill="#e0201c"/>
<text x="254.8" y="25.6" font-size="10" fill="#111" stroke="#111" stroke-width="0.3">Paramagnetic</text>
<text x="222.0" y="76.8" font-size="10" fill="#1c24cc" stroke="#1c24cc" stroke-width="0.3">Collinear</text>
<text x="262.3" y="160.7" font-size="10" fill="#e0201c" stroke="#e0201c" stroke-width="0.3">Spiral</text>
<text x="308.3" y="57.4" font-size="10" fill="#1c24cc" stroke="#1c24cc" stroke-width="0.3"><tspan font-style="italic">T</tspan><tspan font-size="7" dy="2">N1</tspan></text>
<text x="308.8" y="109.5" font-size="10" fill="#e0201c" stroke="#e0201c" stroke-width="0.3"><tspan font-style="italic">T</tspan><tspan font-size="7" dy="2">N2</tspan></text>
<text x="381.5" y="13.0" font-size="14" fill="#000" stroke="#000" stroke-width="0.3" font-weight="bold">d</text>
<rect x="399.5" y="12.8" width="113.1" height="84.4" fill="#fff" stroke="#8a8a8a" stroke-width="0.9"/>
<g stroke="#999" stroke-width="0.7">
<line x1="399.5" y1="87.4" x2="401.7" y2="87.4"/>
<line x1="510.4" y1="87.4" x2="512.6" y2="87.4"/>
<line x1="399.5" y1="70.5" x2="401.7" y2="70.5"/>
<line x1="510.4" y1="70.5" x2="512.6" y2="70.5"/>
<line x1="399.5" y1="53.6" x2="401.7" y2="53.6"/>
<line x1="510.4" y1="53.6" x2="512.6" y2="53.6"/>
<line x1="399.5" y1="36.8" x2="401.7" y2="36.8"/>
<line x1="510.4" y1="36.8" x2="512.6" y2="36.8"/>
<line x1="399.5" y1="19.9" x2="401.7" y2="19.9"/>
<line x1="510.4" y1="19.9" x2="512.6" y2="19.9"/>
<line x1="404.0" y1="12.8" x2="404.0" y2="14.0"/>
<line x1="404.0" y1="96.0" x2="404.0" y2="97.2"/>
<line x1="408.5" y1="12.8" x2="408.5" y2="14.0"/>
<line x1="408.5" y1="96.0" x2="408.5" y2="97.2"/>
<line x1="413.1" y1="12.8" x2="413.1" y2="14.0"/>
<line x1="413.1" y1="96.0" x2="413.1" y2="97.2"/>
<line x1="417.6" y1="12.8" x2="417.6" y2="14.0"/>
<line x1="417.6" y1="96.0" x2="417.6" y2="97.2"/>
<line x1="422.1" y1="12.8" x2="422.1" y2="15.0"/>
<line x1="422.1" y1="95.0" x2="422.1" y2="97.2"/>
<line x1="426.6" y1="12.8" x2="426.6" y2="14.0"/>
<line x1="426.6" y1="96.0" x2="426.6" y2="97.2"/>
<line x1="431.2" y1="12.8" x2="431.2" y2="14.0"/>
<line x1="431.2" y1="96.0" x2="431.2" y2="97.2"/>
<line x1="435.7" y1="12.8" x2="435.7" y2="14.0"/>
<line x1="435.7" y1="96.0" x2="435.7" y2="97.2"/>
<line x1="440.2" y1="12.8" x2="440.2" y2="14.0"/>
<line x1="440.2" y1="96.0" x2="440.2" y2="97.2"/>
<line x1="444.7" y1="12.8" x2="444.7" y2="15.0"/>
<line x1="444.7" y1="95.0" x2="444.7" y2="97.2"/>
<line x1="449.3" y1="12.8" x2="449.3" y2="14.0"/>
<line x1="449.3" y1="96.0" x2="449.3" y2="97.2"/>
<line x1="453.8" y1="12.8" x2="453.8" y2="14.0"/>
<line x1="453.8" y1="96.0" x2="453.8" y2="97.2"/>
<line x1="458.3" y1="12.8" x2="458.3" y2="14.0"/>
<line x1="458.3" y1="96.0" x2="458.3" y2="97.2"/>
<line x1="462.8" y1="12.8" x2="462.8" y2="14.0"/>
<line x1="462.8" y1="96.0" x2="462.8" y2="97.2"/>
<line x1="467.4" y1="12.8" x2="467.4" y2="15.0"/>
<line x1="467.4" y1="95.0" x2="467.4" y2="97.2"/>
<line x1="471.9" y1="12.8" x2="471.9" y2="14.0"/>
<line x1="471.9" y1="96.0" x2="471.9" y2="97.2"/>
<line x1="476.4" y1="12.8" x2="476.4" y2="14.0"/>
<line x1="476.4" y1="96.0" x2="476.4" y2="97.2"/>
<line x1="480.9" y1="12.8" x2="480.9" y2="14.0"/>
<line x1="480.9" y1="96.0" x2="480.9" y2="97.2"/>
<line x1="485.5" y1="12.8" x2="485.5" y2="14.0"/>
<line x1="485.5" y1="96.0" x2="485.5" y2="97.2"/>
<line x1="490.0" y1="12.8" x2="490.0" y2="15.0"/>
<line x1="490.0" y1="95.0" x2="490.0" y2="97.2"/>
<line x1="494.5" y1="12.8" x2="494.5" y2="14.0"/>
<line x1="494.5" y1="96.0" x2="494.5" y2="97.2"/>
<line x1="499.0" y1="12.8" x2="499.0" y2="14.0"/>
<line x1="499.0" y1="96.0" x2="499.0" y2="97.2"/>
<line x1="503.6" y1="12.8" x2="503.6" y2="14.0"/>
<line x1="503.6" y1="96.0" x2="503.6" y2="97.2"/>
<line x1="508.1" y1="12.8" x2="508.1" y2="14.0"/>
<line x1="508.1" y1="96.0" x2="508.1" y2="97.2"/>
</g>
<text x="396.0" y="91.0" font-size="10" fill="#111" stroke="#111" stroke-width="0.3" text-anchor="end">6.0</text>
<text x="396.0" y="74.1" font-size="10" fill="#111" stroke="#111" stroke-width="0.3" text-anchor="end">6.5</text>
<text x="396.0" y="57.2" font-size="10" fill="#111" stroke="#111" stroke-width="0.3" text-anchor="end">7.0</text>
<text x="396.0" y="40.4" font-size="10" fill="#111" stroke="#111" stroke-width="0.3" text-anchor="end">7.5</text>
<text x="396.0" y="23.5" font-size="10" fill="#111" stroke="#111" stroke-width="0.3" text-anchor="end">8.0</text>
<path d="M399.8,49.9 L400.6,54.5 L401.4,58.1 L402.2,60.2 L403.0,61.8 L403.9,63.0 L404.7,63.6 L405.5,64.0 L406.3,64.4 L407.1,64.6 L407.9,64.7 L408.7,64.6 L409.5,64.4 L410.3,64.2 L411.2,63.9 L412.0,63.6 L412.8,63.1 L413.6,62.5 L414.4,61.6 L415.2,60.6 L416.0,59.5 L416.8,58.3 L417.7,57.1 L418.5,55.8 L419.3,54.4 L420.1,52.9 L420.9,51.3 L421.7,49.7 L422.5,48.1 L423.3,46.6 L424.1,44.9 L425.0,43.1 L425.8,41.4 L426.6,39.8 L427.4,38.2 L428.2,36.9 L429.0,35.6 L429.8,34.3 L430.6,33.2 L431.4,32.5 L432.3,32.0 L433.1,31.6 L433.9,31.4 L434.7,31.5 L435.5,32.0 L436.3,32.7 L437.1,33.4 L437.9,34.4 L438.8,35.6 L439.6,36.8 L440.4,37.9 L441.2,38.9 L442.0,39.8 L442.8,40.6 L443.6,41.3 L444.4,42.0 L445.2,42.7 L446.1,43.3 L446.9,43.9 L447.7,44.4 L448.5,44.9 L449.3,45.4 L450.1,45.9 L450.9,46.3 L451.7,46.7 L452.5,47.1 L453.4,47.4 L454.2,47.6 L455.0,47.8 L455.8,48.0 L456.6,48.2 L457.4,48.4 L458.2,48.6 L459.0,48.7 L459.9,48.8 L460.7,48.9 L461.5,48.9 L462.3,48.9 L463.1,48.8 L463.9,48.7 L464.7,48.6 L465.5,48.5 L466.3,48.4 L467.2,48.2 L468.0,48.1 L468.8,47.9 L469.6,47.8 L470.4,47.6 L471.2,47.3 L472.0,47.1 L472.8,46.8 L473.6,46.5 L474.5,46.2 L475.3,45.9 L476.1,45.6 L476.9,45.3 L477.7,44.9 L478.5,44.5 L479.3,44.1 L480.1,43.7 L481.0,43.3 L481.8,42.8 L482.6,42.3 L483.4,41.7 L484.2,41.1 L485.0,40.5 L485.8,39.8 L486.6,39.1 L487.4,38.3 L488.3,37.5 L489.1,36.6 L489.9,35.6 L490.7,34.5 L491.5,33.3 L492.3,32.0 L493.1,30.7 L493.9,29.4 L494.7,28.2 L495.6,27.0 L496.4,25.7 L497.2,24.6 L498.0,23.8 L498.8,23.1 L499.6,22.5 L500.4,22.0 L501.2,21.8 L502.1,21.8 L502.9,21.9 L503.7,22.1 L504.5,22.4 L505.3,22.7 L506.1,23.0 L506.9,23.3 L507.7,23.6 L508.5,24.0 L509.4,24.3 L510.2,24.7 L511.0,25.0 L511.8,25.4 L512.6,25.8" fill="none" stroke="#2b7bba" stroke-width="1.5" stroke-linejoin="round"/>
<path d="M433.6,39.3 L437.0,45.1 L435.0,44.3 L435.0,51.5 L432.2,51.5 L432.2,44.3 L430.2,45.1 Z" fill="#e41a1c"/>
<text x="434.5" y="66.0" font-size="10" fill="#e41a1c" stroke="#e41a1c" stroke-width="0.3" text-anchor="middle">154 K</text>
<path d="M502.2,28.3 L505.6,34.1 L503.6,33.3 L503.6,40.5 L500.8,40.5 L500.8,33.3 L498.8,34.1 Z" fill="#3d9be9"/>
<text x="497.0" y="58.0" font-size="10" fill="#3d9be9" stroke="#3d9be9" stroke-width="0.3" text-anchor="middle">455 K</text>
<rect x="462.4" y="79.2" width="44.6" height="13.1" fill="#fff" stroke="#111" stroke-width="0.9"/>
<text x="484.7" y="89.7" font-size="10" fill="#111" stroke="#111" stroke-width="0.3" text-anchor="middle">5 K h<tspan font-size="7" dy="-3.5">−1</tspan></text>
<rect x="399.5" y="110.7" width="113.1" height="84.4" fill="#fff" stroke="#8a8a8a" stroke-width="0.9"/>
<g stroke="#999" stroke-width="0.7">
<line x1="399.5" y1="185.3" x2="401.7" y2="185.3"/>
<line x1="510.4" y1="185.3" x2="512.6" y2="185.3"/>
<line x1="399.5" y1="168.4" x2="401.7" y2="168.4"/>
<line x1="510.4" y1="168.4" x2="512.6" y2="168.4"/>
<line x1="399.5" y1="151.6" x2="401.7" y2="151.6"/>
<line x1="510.4" y1="151.6" x2="512.6" y2="151.6"/>
<line x1="399.5" y1="134.7" x2="401.7" y2="134.7"/>
<line x1="510.4" y1="134.7" x2="512.6" y2="134.7"/>
<line x1="399.5" y1="117.8" x2="401.7" y2="117.8"/>
<line x1="510.4" y1="117.8" x2="512.6" y2="117.8"/>
<line x1="404.0" y1="110.7" x2="404.0" y2="111.9"/>
<line x1="404.0" y1="193.9" x2="404.0" y2="195.1"/>
<line x1="408.5" y1="110.7" x2="408.5" y2="111.9"/>
<line x1="408.5" y1="193.9" x2="408.5" y2="195.1"/>
<line x1="413.1" y1="110.7" x2="413.1" y2="111.9"/>
<line x1="413.1" y1="193.9" x2="413.1" y2="195.1"/>
<line x1="417.6" y1="110.7" x2="417.6" y2="111.9"/>
<line x1="417.6" y1="193.9" x2="417.6" y2="195.1"/>
<line x1="422.1" y1="110.7" x2="422.1" y2="112.9"/>
<line x1="422.1" y1="192.9" x2="422.1" y2="195.1"/>
<line x1="426.6" y1="110.7" x2="426.6" y2="111.9"/>
<line x1="426.6" y1="193.9" x2="426.6" y2="195.1"/>
<line x1="431.2" y1="110.7" x2="431.2" y2="111.9"/>
<line x1="431.2" y1="193.9" x2="431.2" y2="195.1"/>
<line x1="435.7" y1="110.7" x2="435.7" y2="111.9"/>
<line x1="435.7" y1="193.9" x2="435.7" y2="195.1"/>
<line x1="440.2" y1="110.7" x2="440.2" y2="111.9"/>
<line x1="440.2" y1="193.9" x2="440.2" y2="195.1"/>
<line x1="444.7" y1="110.7" x2="444.7" y2="112.9"/>
<line x1="444.7" y1="192.9" x2="444.7" y2="195.1"/>
<line x1="449.3" y1="110.7" x2="449.3" y2="111.9"/>
<line x1="449.3" y1="193.9" x2="449.3" y2="195.1"/>
<line x1="453.8" y1="110.7" x2="453.8" y2="111.9"/>
<line x1="453.8" y1="193.9" x2="453.8" y2="195.1"/>
<line x1="458.3" y1="110.7" x2="458.3" y2="111.9"/>
<line x1="458.3" y1="193.9" x2="458.3" y2="195.1"/>
<line x1="462.8" y1="110.7" x2="462.8" y2="111.9"/>
<line x1="462.8" y1="193.9" x2="462.8" y2="195.1"/>
<line x1="467.4" y1="110.7" x2="467.4" y2="112.9"/>
<line x1="467.4" y1="192.9" x2="467.4" y2="195.1"/>
<line x1="471.9" y1="110.7" x2="471.9" y2="111.9"/>
<line x1="471.9" y1="193.9" x2="471.9" y2="195.1"/>
<line x1="476.4" y1="110.7" x2="476.4" y2="111.9"/>
<line x1="476.4" y1="193.9" x2="476.4" y2="195.1"/>
<line x1="480.9" y1="110.7" x2="480.9" y2="111.9"/>
<line x1="480.9" y1="193.9" x2="480.9" y2="195.1"/>
<line x1="485.5" y1="110.7" x2="485.5" y2="111.9"/>
<line x1="485.5" y1="193.9" x2="485.5" y2="195.1"/>
<line x1="490.0" y1="110.7" x2="490.0" y2="112.9"/>
<line x1="490.0" y1="192.9" x2="490.0" y2="195.1"/>
<line x1="494.5" y1="110.7" x2="494.5" y2="111.9"/>
<line x1="494.5" y1="193.9" x2="494.5" y2="195.1"/>
<line x1="499.0" y1="110.7" x2="499.0" y2="111.9"/>
<line x1="499.0" y1="193.9" x2="499.0" y2="195.1"/>
<line x1="503.6" y1="110.7" x2="503.6" y2="111.9"/>
<line x1="503.6" y1="193.9" x2="503.6" y2="195.1"/>
<line x1="508.1" y1="110.7" x2="508.1" y2="111.9"/>
<line x1="508.1" y1="193.9" x2="508.1" y2="195.1"/>
</g>
<text x="396.0" y="188.9" font-size="10" fill="#111" stroke="#111" stroke-width="0.3" text-anchor="end">6.0</text>
<text x="396.0" y="172.0" font-size="10" fill="#111" stroke="#111" stroke-width="0.3" text-anchor="end">6.5</text>
<text x="396.0" y="155.2" font-size="10" fill="#111" stroke="#111" stroke-width="0.3" text-anchor="end">7.0</text>
<text x="396.0" y="138.3" font-size="10" fill="#111" stroke="#111" stroke-width="0.3" text-anchor="end">7.5</text>
<text x="396.0" y="121.4" font-size="10" fill="#111" stroke="#111" stroke-width="0.3" text-anchor="end">8.0</text>
<path d="M399.8,172.9 L400.6,175.0 L401.4,176.1 L402.2,176.9 L403.0,177.5 L403.9,178.1 L404.7,178.6 L405.5,178.9 L406.3,178.9 L407.1,178.9 L407.9,178.8 L408.7,178.6 L409.5,178.4 L410.3,178.1 L411.2,177.9 L412.0,177.5 L412.8,177.2 L413.6,176.7 L414.4,176.2 L415.2,175.7 L416.0,175.2 L416.8,174.7 L417.7,174.1 L418.5,173.6 L419.3,172.9 L420.1,172.3 L420.9,171.6 L421.7,170.9 L422.5,170.2 L423.3,169.5 L424.1,168.7 L425.0,167.9 L425.8,167.2 L426.6,166.4 L427.4,165.6 L428.2,164.9 L429.0,164.1 L429.8,163.3 L430.6,162.5 L431.4,161.7 L432.3,160.8 L433.1,159.9 L433.9,159.0 L434.7,158.0 L435.5,157.0 L436.3,155.8 L437.1,154.6 L437.9,153.2 L438.8,151.9 L439.6,150.5 L440.4,149.0 L441.2,147.5 L442.0,145.8 L442.8,144.0 L443.6,142.4 L444.4,140.8 L445.2,139.4 L446.1,138.1 L446.9,137.0 L447.7,136.3 L448.5,135.8 L449.3,135.5 L450.1,135.7 L450.9,136.3 L451.7,136.9 L452.5,137.6 L453.4,138.3 L454.2,139.0 L455.0,139.7 L455.8,140.3 L456.6,140.7 L457.4,141.2 L458.2,141.6 L459.0,141.9 L459.9,142.3 L460.7,142.5 L461.5,142.7 L462.3,142.9 L463.1,143.0 L463.9,143.2 L464.7,143.3 L465.5,143.4 L466.3,143.5 L467.2,143.5 L468.0,143.6 L468.8,143.6 L469.6,143.5 L470.4,143.5 L471.2,143.4 L472.0,143.3 L472.8,143.1 L473.6,143.0 L474.5,142.9 L475.3,142.7 L476.1,142.5 L476.9,142.3 L477.7,142.0 L478.5,141.6 L479.3,141.2 L480.1,140.8 L481.0,140.3 L481.8,139.9 L482.6,139.4 L483.4,138.9 L484.2,138.3 L485.0,137.6 L485.8,136.9 L486.6,136.2 L487.4,135.4 L488.3,134.5 L489.1,133.7 L489.9,132.8 L490.7,131.8 L491.5,130.7 L492.3,129.5 L493.1,128.3 L493.9,127.2 L494.7,126.2 L495.6,125.1 L496.4,124.2 L497.2,123.4 L498.0,123.0 L498.8,122.7 L499.6,122.5 L500.4,122.7 L501.2,123.0 L502.1,123.4 L502.9,123.9 L503.7,124.3 L504.5,124.7 L505.3,125.2 L506.1,125.7 L506.9,126.2 L507.7,126.7 L508.5,127.2 L509.4,127.7 L510.2,128.3 L511.0,128.8 L511.8,129.4 L512.6,130.0" fill="none" stroke="#2b7bba" stroke-width="1.5" stroke-linejoin="round"/>
<path d="M449.2,142.3 L452.6,148.1 L450.6,147.3 L450.6,155.0 L447.8,155.0 L447.8,147.3 L445.8,148.1 Z" fill="#e41a1c"/>
<text x="449.0" y="167.5" font-size="10" fill="#e41a1c" stroke="#e41a1c" stroke-width="0.3" text-anchor="middle">222 K</text>
<path d="M499.8,128.3 L503.2,134.1 L501.2,133.3 L501.2,141.0 L498.4,141.0 L498.4,133.3 L496.4,134.1 Z" fill="#3d9be9"/>
<text x="496.0" y="153.5" font-size="10" fill="#3d9be9" stroke="#3d9be9" stroke-width="0.3" text-anchor="middle">445 K</text>
<rect x="462.6" y="177.2" width="44.6" height="13.1" fill="#fff" stroke="#111" stroke-width="0.9"/>
<text x="484.9" y="187.7" font-size="10" fill="#111" stroke="#111" stroke-width="0.3" text-anchor="middle">100 K h<tspan font-size="7" dy="-3.5">−1</tspan></text>
<rect x="399.5" y="208.7" width="113.1" height="84.4" fill="#fff" stroke="#8a8a8a" stroke-width="0.9"/>
<g stroke="#999" stroke-width="0.7">
<line x1="399.5" y1="283.3" x2="401.7" y2="283.3"/>
<line x1="510.4" y1="283.3" x2="512.6" y2="283.3"/>
<line x1="399.5" y1="266.4" x2="401.7" y2="266.4"/>
<line x1="510.4" y1="266.4" x2="512.6" y2="266.4"/>
<line x1="399.5" y1="249.5" x2="401.7" y2="249.5"/>
<line x1="510.4" y1="249.5" x2="512.6" y2="249.5"/>
<line x1="399.5" y1="232.7" x2="401.7" y2="232.7"/>
<line x1="510.4" y1="232.7" x2="512.6" y2="232.7"/>
<line x1="399.5" y1="215.8" x2="401.7" y2="215.8"/>
<line x1="510.4" y1="215.8" x2="512.6" y2="215.8"/>
<line x1="404.0" y1="208.7" x2="404.0" y2="209.9"/>
<line x1="404.0" y1="291.9" x2="404.0" y2="293.1"/>
<line x1="408.5" y1="208.7" x2="408.5" y2="209.9"/>
<line x1="408.5" y1="291.9" x2="408.5" y2="293.1"/>
<line x1="413.1" y1="208.7" x2="413.1" y2="209.9"/>
<line x1="413.1" y1="291.9" x2="413.1" y2="293.1"/>
<line x1="417.6" y1="208.7" x2="417.6" y2="209.9"/>
<line x1="417.6" y1="291.9" x2="417.6" y2="293.1"/>
<line x1="422.1" y1="208.7" x2="422.1" y2="210.9"/>
<line x1="422.1" y1="290.9" x2="422.1" y2="293.1"/>
<line x1="426.6" y1="208.7" x2="426.6" y2="209.9"/>
<line x1="426.6" y1="291.9" x2="426.6" y2="293.1"/>
<line x1="431.2" y1="208.7" x2="431.2" y2="209.9"/>
<line x1="431.2" y1="291.9" x2="431.2" y2="293.1"/>
<line x1="435.7" y1="208.7" x2="435.7" y2="209.9"/>
<line x1="435.7" y1="291.9" x2="435.7" y2="293.1"/>
<line x1="440.2" y1="208.7" x2="440.2" y2="209.9"/>
<line x1="440.2" y1="291.9" x2="440.2" y2="293.1"/>
<line x1="444.7" y1="208.7" x2="444.7" y2="210.9"/>
<line x1="444.7" y1="290.9" x2="444.7" y2="293.1"/>
<line x1="449.3" y1="208.7" x2="449.3" y2="209.9"/>
<line x1="449.3" y1="291.9" x2="449.3" y2="293.1"/>
<line x1="453.8" y1="208.7" x2="453.8" y2="209.9"/>
<line x1="453.8" y1="291.9" x2="453.8" y2="293.1"/>
<line x1="458.3" y1="208.7" x2="458.3" y2="209.9"/>
<line x1="458.3" y1="291.9" x2="458.3" y2="293.1"/>
<line x1="462.8" y1="208.7" x2="462.8" y2="209.9"/>
<line x1="462.8" y1="291.9" x2="462.8" y2="293.1"/>
<line x1="467.4" y1="208.7" x2="467.4" y2="210.9"/>
<line x1="467.4" y1="290.9" x2="467.4" y2="293.1"/>
<line x1="471.9" y1="208.7" x2="471.9" y2="209.9"/>
<line x1="471.9" y1="291.9" x2="471.9" y2="293.1"/>
<line x1="476.4" y1="208.7" x2="476.4" y2="209.9"/>
<line x1="476.4" y1="291.9" x2="476.4" y2="293.1"/>
<line x1="480.9" y1="208.7" x2="480.9" y2="209.9"/>
<line x1="480.9" y1="291.9" x2="480.9" y2="293.1"/>
<line x1="485.5" y1="208.7" x2="485.5" y2="209.9"/>
<line x1="485.5" y1="291.9" x2="485.5" y2="293.1"/>
<line x1="490.0" y1="208.7" x2="490.0" y2="210.9"/>
<line x1="490.0" y1="290.9" x2="490.0" y2="293.1"/>
<line x1="494.5" y1="208.7" x2="494.5" y2="209.9"/>
<line x1="494.5" y1="291.9" x2="494.5" y2="293.1"/>
<line x1="499.0" y1="208.7" x2="499.0" y2="209.9"/>
<line x1="499.0" y1="291.9" x2="499.0" y2="293.1"/>
<line x1="503.6" y1="208.7" x2="503.6" y2="209.9"/>
<line x1="503.6" y1="291.9" x2="503.6" y2="293.1"/>
<line x1="508.1" y1="208.7" x2="508.1" y2="209.9"/>
<line x1="508.1" y1="291.9" x2="508.1" y2="293.1"/>
</g>
<text x="396.0" y="286.9" font-size="10" fill="#111" stroke="#111" stroke-width="0.3" text-anchor="end">6.0</text>
<text x="396.0" y="270.0" font-size="10" fill="#111" stroke="#111" stroke-width="0.3" text-anchor="end">6.5</text>
<text x="396.0" y="253.1" font-size="10" fill="#111" stroke="#111" stroke-width="0.3" text-anchor="end">7.0</text>
<text x="396.0" y="236.3" font-size="10" fill="#111" stroke="#111" stroke-width="0.3" text-anchor="end">7.5</text>
<text x="396.0" y="219.4" font-size="10" fill="#111" stroke="#111" stroke-width="0.3" text-anchor="end">8.0</text>
<path d="M399.8,272.7 L400.6,274.7 L401.4,275.9 L402.2,276.7 L403.0,277.2 L403.9,277.7 L404.7,278.0 L405.5,278.3 L406.3,278.3 L407.1,278.3 L407.9,278.2 L408.7,278.0 L409.5,277.8 L410.3,277.5 L411.2,277.3 L412.0,276.9 L412.8,276.5 L413.6,276.0 L414.4,275.5 L415.2,275.0 L416.0,274.5 L416.8,273.9 L417.7,273.4 L418.5,272.8 L419.3,272.2 L420.1,271.6 L420.9,271.0 L421.7,270.3 L422.5,269.7 L423.3,269.0 L424.1,268.3 L425.0,267.6 L425.8,266.9 L426.6,266.2 L427.4,265.5 L428.2,264.7 L429.0,264.0 L429.8,263.3 L430.6,262.5 L431.4,261.7 L432.3,260.9 L433.1,260.1 L433.9,259.3 L434.7,258.4 L435.5,257.5 L436.3,256.6 L437.1,255.6 L437.9,254.6 L438.8,253.5 L439.6,252.4 L440.4,251.3 L441.2,250.2 L442.0,249.0 L442.8,247.7 L443.6,246.4 L444.4,245.0 L445.2,243.6 L446.1,242.2 L446.9,240.9 L447.7,239.6 L448.5,238.2 L449.3,236.9 L450.1,235.7 L450.9,234.8 L451.7,233.9 L452.5,233.2 L453.4,232.8 L454.2,233.0 L455.0,233.4 L455.8,233.9 L456.6,234.4 L457.4,235.0 L458.2,235.7 L459.0,236.4 L459.9,236.9 L460.7,237.3 L461.5,237.5 L462.3,237.8 L463.1,238.0 L463.9,238.3 L464.7,238.4 L465.5,238.5 L466.3,238.6 L467.2,238.6 L468.0,238.5 L468.8,238.5 L469.6,238.4 L470.4,238.3 L471.2,238.2 L472.0,238.1 L472.8,238.0 L473.6,237.9 L474.5,237.7 L475.3,237.5 L476.1,237.2 L476.9,236.8 L477.7,236.4 L478.5,236.0 L479.3,235.6 L480.1,235.1 L481.0,234.7 L481.8,234.2 L482.6,233.7 L483.4,233.1 L484.2,232.5 L485.0,231.9 L485.8,231.2 L486.6,230.5 L487.4,229.8 L488.3,229.0 L489.1,228.2 L489.9,227.3 L490.7,226.3 L491.5,225.3 L492.3,224.2 L493.1,223.1 L493.9,221.8 L494.7,220.4 L495.6,219.2 L496.4,218.2 L497.2,217.3 L498.0,216.9 L498.8,216.9 L499.6,217.1 L500.4,217.3 L501.2,217.6 L502.1,217.9 L502.9,218.3 L503.7,218.8 L504.5,219.3 L505.3,219.9 L506.1,220.4 L506.9,220.9 L507.7,221.4 L508.5,221.9 L509.4,222.4 L510.2,222.9 L511.0,223.5 L511.8,224.0 L512.6,224.5" fill="none" stroke="#2b7bba" stroke-width="1.5" stroke-linejoin="round"/>
<path d="M453.6,239.8 L457.0,245.6 L455.0,244.8 L455.0,252.5 L452.2,252.5 L452.2,244.8 L450.2,245.6 Z" fill="#e41a1c"/>
<text x="453.5" y="265.5" font-size="10" fill="#e41a1c" stroke="#e41a1c" stroke-width="0.3" text-anchor="middle">243 K</text>
<path d="M498.7,222.3 L502.1,228.1 L500.1,227.3 L500.1,235.0 L497.3,235.0 L497.3,227.3 L495.3,228.1 Z" fill="#3d9be9"/>
<text x="496.0" y="249.5" font-size="10" fill="#3d9be9" stroke="#3d9be9" stroke-width="0.3" text-anchor="middle">440 K</text>
<rect x="462.4" y="275.2" width="44.6" height="13.1" fill="#fff" stroke="#111" stroke-width="0.9"/>
<text x="484.7" y="285.7" font-size="10" fill="#111" stroke="#111" stroke-width="0.3" text-anchor="middle">300 K h<tspan font-size="7" dy="-3.5">−1</tspan></text>
<rect x="399.5" y="303.7" width="113.1" height="84.4" fill="#fff" stroke="#8a8a8a" stroke-width="0.9"/>
<g stroke="#999" stroke-width="0.7">
<line x1="399.5" y1="378.3" x2="401.7" y2="378.3"/>
<line x1="510.4" y1="378.3" x2="512.6" y2="378.3"/>
<line x1="399.5" y1="361.4" x2="401.7" y2="361.4"/>
<line x1="510.4" y1="361.4" x2="512.6" y2="361.4"/>
<line x1="399.5" y1="344.6" x2="401.7" y2="344.6"/>
<line x1="510.4" y1="344.6" x2="512.6" y2="344.6"/>
<line x1="399.5" y1="327.7" x2="401.7" y2="327.7"/>
<line x1="510.4" y1="327.7" x2="512.6" y2="327.7"/>
<line x1="399.5" y1="310.8" x2="401.7" y2="310.8"/>
<line x1="510.4" y1="310.8" x2="512.6" y2="310.8"/>
<line x1="404.0" y1="303.7" x2="404.0" y2="304.9"/>
<line x1="404.0" y1="386.9" x2="404.0" y2="388.1"/>
<line x1="408.5" y1="303.7" x2="408.5" y2="304.9"/>
<line x1="408.5" y1="386.9" x2="408.5" y2="388.1"/>
<line x1="413.1" y1="303.7" x2="413.1" y2="304.9"/>
<line x1="413.1" y1="386.9" x2="413.1" y2="388.1"/>
<line x1="417.6" y1="303.7" x2="417.6" y2="304.9"/>
<line x1="417.6" y1="386.9" x2="417.6" y2="388.1"/>
<line x1="422.1" y1="303.7" x2="422.1" y2="305.9"/>
<line x1="422.1" y1="385.9" x2="422.1" y2="388.1"/>
<line x1="426.6" y1="303.7" x2="426.6" y2="304.9"/>
<line x1="426.6" y1="386.9" x2="426.6" y2="388.1"/>
<line x1="431.2" y1="303.7" x2="431.2" y2="304.9"/>
<line x1="431.2" y1="386.9" x2="431.2" y2="388.1"/>
<line x1="435.7" y1="303.7" x2="435.7" y2="304.9"/>
<line x1="435.7" y1="386.9" x2="435.7" y2="388.1"/>
<line x1="440.2" y1="303.7" x2="440.2" y2="304.9"/>
<line x1="440.2" y1="386.9" x2="440.2" y2="388.1"/>
<line x1="444.7" y1="303.7" x2="444.7" y2="305.9"/>
<line x1="444.7" y1="385.9" x2="444.7" y2="388.1"/>
<line x1="449.3" y1="303.7" x2="449.3" y2="304.9"/>
<line x1="449.3" y1="386.9" x2="449.3" y2="388.1"/>
<line x1="453.8" y1="303.7" x2="453.8" y2="304.9"/>
<line x1="453.8" y1="386.9" x2="453.8" y2="388.1"/>
<line x1="458.3" y1="303.7" x2="458.3" y2="304.9"/>
<line x1="458.3" y1="386.9" x2="458.3" y2="388.1"/>
<line x1="462.8" y1="303.7" x2="462.8" y2="304.9"/>
<line x1="462.8" y1="386.9" x2="462.8" y2="388.1"/>
<line x1="467.4" y1="303.7" x2="467.4" y2="305.9"/>
<line x1="467.4" y1="385.9" x2="467.4" y2="388.1"/>
<line x1="471.9" y1="303.7" x2="471.9" y2="304.9"/>
<line x1="471.9" y1="386.9" x2="471.9" y2="388.1"/>
<line x1="476.4" y1="303.7" x2="476.4" y2="304.9"/>
<line x1="476.4" y1="386.9" x2="476.4" y2="388.1"/>
<line x1="480.9" y1="303.7" x2="480.9" y2="304.9"/>
<line x1="480.9" y1="386.9" x2="480.9" y2="388.1"/>
<line x1="485.5" y1="303.7" x2="485.5" y2="304.9"/>
<line x1="485.5" y1="386.9" x2="485.5" y2="388.1"/>
<line x1="490.0" y1="303.7" x2="490.0" y2="305.9"/>
<line x1="490.0" y1="385.9" x2="490.0" y2="388.1"/>
<line x1="494.5" y1="303.7" x2="494.5" y2="304.9"/>
<line x1="494.5" y1="386.9" x2="494.5" y2="388.1"/>
<line x1="499.0" y1="303.7" x2="499.0" y2="304.9"/>
<line x1="499.0" y1="386.9" x2="499.0" y2="388.1"/>
<line x1="503.6" y1="303.7" x2="503.6" y2="304.9"/>
<line x1="503.6" y1="386.9" x2="503.6" y2="388.1"/>
<line x1="508.1" y1="303.7" x2="508.1" y2="304.9"/>
<line x1="508.1" y1="386.9" x2="508.1" y2="388.1"/>
</g>
<text x="396.0" y="381.9" font-size="10" fill="#111" stroke="#111" stroke-width="0.3" text-anchor="end">6.0</text>
<text x="396.0" y="365.0" font-size="10" fill="#111" stroke="#111" stroke-width="0.3" text-anchor="end">6.5</text>
<text x="396.0" y="348.2" font-size="10" fill="#111" stroke="#111" stroke-width="0.3" text-anchor="end">7.0</text>
<text x="396.0" y="331.3" font-size="10" fill="#111" stroke="#111" stroke-width="0.3" text-anchor="end">7.5</text>
<text x="396.0" y="314.4" font-size="10" fill="#111" stroke="#111" stroke-width="0.3" text-anchor="end">8.0</text>
<path d="M399.8,355.8 L400.6,358.1 L401.4,359.3 L402.2,360.2 L403.0,361.0 L403.9,361.8 L404.7,362.5 L405.5,363.0 L406.3,363.2 L407.1,363.3 L407.9,363.4 L408.7,363.5 L409.5,363.5 L410.3,363.5 L411.2,363.5 L412.0,363.4 L412.8,363.1 L413.6,362.8 L414.4,362.5 L415.2,362.1 L416.0,361.7 L416.8,361.2 L417.7,360.8 L418.5,360.4 L419.3,360.0 L420.1,359.5 L420.9,359.0 L421.7,358.4 L422.5,357.8 L423.3,357.2 L424.1,356.6 L425.0,356.0 L425.8,355.4 L426.6,354.7 L427.4,354.1 L428.2,353.4 L429.0,352.7 L429.8,352.0 L430.6,351.3 L431.4,350.5 L432.3,349.7 L433.1,348.9 L433.9,348.1 L434.7,347.3 L435.5,346.4 L436.3,345.4 L437.1,344.5 L437.9,343.5 L438.8,342.4 L439.6,341.3 L440.4,340.2 L441.2,339.0 L442.0,337.9 L442.8,336.6 L443.6,335.3 L444.4,334.0 L445.2,332.6 L446.1,331.2 L446.9,329.8 L447.7,328.4 L448.5,326.8 L449.3,325.3 L450.1,323.7 L450.9,322.3 L451.7,321.1 L452.5,319.9 L453.4,318.8 L454.2,318.1 L455.0,317.7 L455.8,317.4 L456.6,317.3 L457.4,317.6 L458.2,318.2 L459.0,318.7 L459.9,319.4 L460.7,320.0 L461.5,320.7 L462.3,321.2 L463.1,321.7 L463.9,322.0 L464.7,322.4 L465.5,322.7 L466.3,323.0 L467.2,323.2 L468.0,323.4 L468.8,323.6 L469.6,323.7 L470.4,323.8 L471.2,323.9 L472.0,323.9 L472.8,324.0 L473.6,324.0 L474.5,324.1 L475.3,324.1 L476.1,324.1 L476.9,324.1 L477.7,324.1 L478.5,324.0 L479.3,323.8 L480.1,323.6 L481.0,323.3 L481.8,323.0 L482.6,322.7 L483.4,322.3 L484.2,322.0 L485.0,321.6 L485.8,321.1 L486.6,320.6 L487.4,320.0 L488.3,319.4 L489.1,318.7 L489.9,318.0 L490.7,317.1 L491.5,316.1 L492.3,314.8 L493.1,313.6 L493.9,312.4 L494.7,311.3 L495.6,310.4 L496.4,309.5 L497.2,308.9 L498.0,308.6 L498.8,308.4 L499.6,308.4 L500.4,308.6 L501.2,309.0 L502.1,309.6 L502.9,310.3 L503.7,310.9 L504.5,311.5 L505.3,312.2 L506.1,312.8 L506.9,313.5 L507.7,314.1 L508.5,314.7 L509.4,315.3 L510.2,315.8 L511.0,316.3 L511.8,316.8 L512.6,317.3" fill="none" stroke="#2b7bba" stroke-width="1.5" stroke-linejoin="round"/>
<path d="M456.2,322.3 L459.6,328.1 L457.6,327.3 L457.6,335.0 L454.8,335.0 L454.8,327.3 L452.8,328.1 Z" fill="#e41a1c"/>
<text x="459.5" y="349.0" font-size="10" fill="#e41a1c" stroke="#e41a1c" stroke-width="0.3" text-anchor="middle">254 K</text>
<path d="M498.5,314.8 L501.9,320.6 L499.9,319.8 L499.9,327.5 L497.1,327.5 L497.1,319.8 L495.1,320.6 Z" fill="#3d9be9"/>
<text x="497.5" y="341.5" font-size="10" fill="#3d9be9" stroke="#3d9be9" stroke-width="0.3" text-anchor="middle">439 K</text>
<rect x="462.6" y="369.0" width="44.6" height="13.3" fill="#fff" stroke="#111" stroke-width="0.9"/>
<text x="484.9" y="379.5" font-size="10" fill="#111" stroke="#111" stroke-width="0.3" text-anchor="middle">500 K h<tspan font-size="7" dy="-3.5">−1</tspan></text>
<rect x="399.5" y="401.5" width="113.1" height="84.4" fill="#fff" stroke="#8a8a8a" stroke-width="0.9"/>
<g stroke="#999" stroke-width="0.7">
<line x1="399.5" y1="476.1" x2="401.7" y2="476.1"/>
<line x1="510.4" y1="476.1" x2="512.6" y2="476.1"/>
<line x1="399.5" y1="459.2" x2="401.7" y2="459.2"/>
<line x1="510.4" y1="459.2" x2="512.6" y2="459.2"/>
<line x1="399.5" y1="442.4" x2="401.7" y2="442.4"/>
<line x1="510.4" y1="442.4" x2="512.6" y2="442.4"/>
<line x1="399.5" y1="425.5" x2="401.7" y2="425.5"/>
<line x1="510.4" y1="425.5" x2="512.6" y2="425.5"/>
<line x1="399.5" y1="408.6" x2="401.7" y2="408.6"/>
<line x1="510.4" y1="408.6" x2="512.6" y2="408.6"/>
<line x1="404.0" y1="401.5" x2="404.0" y2="402.7"/>
<line x1="404.0" y1="484.7" x2="404.0" y2="485.9"/>
<line x1="408.5" y1="401.5" x2="408.5" y2="402.7"/>
<line x1="408.5" y1="484.7" x2="408.5" y2="485.9"/>
<line x1="413.1" y1="401.5" x2="413.1" y2="402.7"/>
<line x1="413.1" y1="484.7" x2="413.1" y2="485.9"/>
<line x1="417.6" y1="401.5" x2="417.6" y2="402.7"/>
<line x1="417.6" y1="484.7" x2="417.6" y2="485.9"/>
<line x1="422.1" y1="401.5" x2="422.1" y2="403.7"/>
<line x1="422.1" y1="483.7" x2="422.1" y2="485.9"/>
<line x1="426.6" y1="401.5" x2="426.6" y2="402.7"/>
<line x1="426.6" y1="484.7" x2="426.6" y2="485.9"/>
<line x1="431.2" y1="401.5" x2="431.2" y2="402.7"/>
<line x1="431.2" y1="484.7" x2="431.2" y2="485.9"/>
<line x1="435.7" y1="401.5" x2="435.7" y2="402.7"/>
<line x1="435.7" y1="484.7" x2="435.7" y2="485.9"/>
<line x1="440.2" y1="401.5" x2="440.2" y2="402.7"/>
<line x1="440.2" y1="484.7" x2="440.2" y2="485.9"/>
<line x1="444.7" y1="401.5" x2="444.7" y2="403.7"/>
<line x1="444.7" y1="483.7" x2="444.7" y2="485.9"/>
<line x1="449.3" y1="401.5" x2="449.3" y2="402.7"/>
<line x1="449.3" y1="484.7" x2="449.3" y2="485.9"/>
<line x1="453.8" y1="401.5" x2="453.8" y2="402.7"/>
<line x1="453.8" y1="484.7" x2="453.8" y2="485.9"/>
<line x1="458.3" y1="401.5" x2="458.3" y2="402.7"/>
<line x1="458.3" y1="484.7" x2="458.3" y2="485.9"/>
<line x1="462.8" y1="401.5" x2="462.8" y2="402.7"/>
<line x1="462.8" y1="484.7" x2="462.8" y2="485.9"/>
<line x1="467.4" y1="401.5" x2="467.4" y2="403.7"/>
<line x1="467.4" y1="483.7" x2="467.4" y2="485.9"/>
<line x1="471.9" y1="401.5" x2="471.9" y2="402.7"/>
<line x1="471.9" y1="484.7" x2="471.9" y2="485.9"/>
<line x1="476.4" y1="401.5" x2="476.4" y2="402.7"/>
<line x1="476.4" y1="484.7" x2="476.4" y2="485.9"/>
<line x1="480.9" y1="401.5" x2="480.9" y2="402.7"/>
<line x1="480.9" y1="484.7" x2="480.9" y2="485.9"/>
<line x1="485.5" y1="401.5" x2="485.5" y2="402.7"/>
<line x1="485.5" y1="484.7" x2="485.5" y2="485.9"/>
<line x1="490.0" y1="401.5" x2="490.0" y2="403.7"/>
<line x1="490.0" y1="483.7" x2="490.0" y2="485.9"/>
<line x1="494.5" y1="401.5" x2="494.5" y2="402.7"/>
<line x1="494.5" y1="484.7" x2="494.5" y2="485.9"/>
<line x1="499.0" y1="401.5" x2="499.0" y2="402.7"/>
<line x1="499.0" y1="484.7" x2="499.0" y2="485.9"/>
<line x1="503.6" y1="401.5" x2="503.6" y2="402.7"/>
<line x1="503.6" y1="484.7" x2="503.6" y2="485.9"/>
<line x1="508.1" y1="401.5" x2="508.1" y2="402.7"/>
<line x1="508.1" y1="484.7" x2="508.1" y2="485.9"/>
</g>
<text x="396.0" y="479.7" font-size="10" fill="#111" stroke="#111" stroke-width="0.3" text-anchor="end">6.0</text>
<text x="396.0" y="462.8" font-size="10" fill="#111" stroke="#111" stroke-width="0.3" text-anchor="end">6.5</text>
<text x="396.0" y="446.0" font-size="10" fill="#111" stroke="#111" stroke-width="0.3" text-anchor="end">7.0</text>
<text x="396.0" y="429.1" font-size="10" fill="#111" stroke="#111" stroke-width="0.3" text-anchor="end">7.5</text>
<text x="396.0" y="412.2" font-size="10" fill="#111" stroke="#111" stroke-width="0.3" text-anchor="end">8.0</text>
<path d="M399.8,471.2 L400.6,474.1 L401.4,475.0 L402.2,475.3 L403.0,475.5 L403.9,475.6 L404.7,475.7 L405.5,475.7 L406.3,475.7 L407.1,475.7 L407.9,475.7 L408.7,475.6 L409.5,475.6 L410.3,475.6 L411.2,475.5 L412.0,475.3 L412.8,475.1 L413.6,474.8 L414.4,474.5 L415.2,474.2 L416.0,473.9 L416.8,473.5 L417.7,473.1 L418.5,472.6 L419.3,472.2 L420.1,471.7 L420.9,471.2 L421.7,470.8 L422.5,470.3 L423.3,469.9 L424.1,469.4 L425.0,468.9 L425.8,468.4 L426.6,467.9 L427.4,467.4 L428.2,466.9 L429.0,466.4 L429.8,465.8 L430.6,465.3 L431.4,464.8 L432.3,464.3 L433.1,463.7 L433.9,463.2 L434.7,462.7 L435.5,462.1 L436.3,461.5 L437.1,461.0 L437.9,460.4 L438.8,459.8 L439.6,459.2 L440.4,458.6 L441.2,458.0 L442.0,457.4 L442.8,456.7 L443.6,456.1 L444.4,455.4 L445.2,454.7 L446.1,454.0 L446.9,453.3 L447.7,452.6 L448.5,451.8 L449.3,451.1 L450.1,450.3 L450.9,449.6 L451.7,448.8 L452.5,448.1 L453.4,447.3 L454.2,446.6 L455.0,445.8 L455.8,445.0 L456.6,444.3 L457.4,443.5 L458.2,442.8 L459.0,442.0 L459.9,441.3 L460.7,440.6 L461.5,439.9 L462.3,439.2 L463.1,438.5 L463.9,437.8 L464.7,437.3 L465.5,436.7 L466.3,436.2 L467.2,435.7 L468.0,435.3 L468.8,435.2 L469.6,435.1 L470.4,435.1 L471.2,435.4 L472.0,435.8 L472.8,436.2 L473.6,436.5 L474.5,436.8 L475.3,437.1 L476.1,437.3 L476.9,437.5 L477.7,437.6 L478.5,437.7 L479.3,437.8 L480.1,437.9 L481.0,437.9 L481.8,437.8 L482.6,437.6 L483.4,437.3 L484.2,437.0 L485.0,436.6 L485.8,436.2 L486.6,435.6 L487.4,434.9 L488.3,434.2 L489.1,433.4 L489.9,432.6 L490.7,431.6 L491.5,430.6 L492.3,429.7 L493.1,428.9 L493.9,428.0 L494.7,427.3 L495.6,427.0 L496.4,427.2 L497.2,427.5 L498.0,427.9 L498.8,428.2 L499.6,428.7 L500.4,429.3 L501.2,429.8 L502.1,430.4 L502.9,431.0 L503.7,431.6 L504.5,432.2 L505.3,432.9 L506.1,433.5 L506.9,434.1 L507.7,434.8 L508.5,435.4 L509.4,436.0 L510.2,436.6 L511.0,437.2 L511.8,437.9 L512.6,438.5" fill="none" stroke="#2b7bba" stroke-width="1.5" stroke-linejoin="round"/>
<path d="M468.9,440.6 L472.3,446.4 L470.2,445.6 L470.2,453.6 L467.5,453.6 L467.5,445.6 L465.5,446.4 Z" fill="#e41a1c"/>
<text x="463.5" y="427.5" font-size="10" fill="#e41a1c" stroke="#e41a1c" stroke-width="0.3" text-anchor="middle">310 K</text>
<path d="M496.0,433.3 L499.4,439.1 L497.4,438.3 L497.4,446.0 L494.6,446.0 L494.6,438.3 L492.6,439.1 Z" fill="#3d9be9"/>
<text x="496.5" y="420.5" font-size="10" fill="#3d9be9" stroke="#3d9be9" stroke-width="0.3" text-anchor="middle">428 K</text>
<rect x="453.5" y="463.5" width="53.8" height="17.4" fill="#fff" stroke="#111" stroke-width="0.9"/>
<text x="480.4" y="475.8" font-size="10" fill="#111" stroke="#111" stroke-width="0.3" text-anchor="middle">Quenched</text>
<text x="408.5" y="31.5" font-size="10" fill="#e41a1c" stroke="#e41a1c" stroke-width="0.3"><tspan font-style="italic">T</tspan><tspan font-size="7" dy="2">N2</tspan></text>
<text x="470.5" y="27.5" font-size="10" fill="#3d9be9" stroke="#3d9be9" stroke-width="0.3"><tspan font-style="italic">T</tspan><tspan font-size="7" dy="2">N1</tspan></text>
<text x="399.5" y="498.5" font-size="10" fill="#111" stroke="#111" stroke-width="0.3" text-anchor="middle">0</text>
<text x="422.1" y="498.5" font-size="10" fill="#111" stroke="#111" stroke-width="0.3" text-anchor="middle">100</text>
<text x="444.7" y="498.5" font-size="10" fill="#111" stroke="#111" stroke-width="0.3" text-anchor="middle">200</text>
<text x="467.4" y="498.5" font-size="10" fill="#111" stroke="#111" stroke-width="0.3" text-anchor="middle">300</text>
<text x="490.0" y="498.5" font-size="10" fill="#111" stroke="#111" stroke-width="0.3" text-anchor="middle">400</text>
<text x="512.6" y="498.5" font-size="10" fill="#111" stroke="#111" stroke-width="0.3" text-anchor="middle">500</text>
<text x="453.5" y="511.5" font-size="10" fill="#111" stroke="#111" stroke-width="0.3" text-anchor="middle">Temperature (K)</text>
<text transform="translate(369.5,249.5) rotate(-90)" font-size="10" fill="#111" stroke="#111" stroke-width="0.3" text-anchor="middle"><tspan font-style="italic">M/H</tspan> (emu g<tspan font-size="7" dy="-3.5">−1</tspan><tspan dy="3.5"> Oe</tspan><tspan font-size="7" dy="-3.5">−1</tspan><tspan dy="3.5">) x10</tspan><tspan font-size="7" dy="-3.5">−6</tspan></text>
<rect x="512.9" y="53.7" width="21.3" height="5.4" fill="#000"/>
<rect x="512.9" y="151.5" width="21.3" height="5.4" fill="#000"/>
<rect x="512.9" y="249.4" width="21.3" height="5.4" fill="#000"/>
<rect x="512.9" y="344.4" width="21.3" height="5.4" fill="#000"/>
<rect x="512.9" y="442.2" width="21.3" height="5.4" fill="#000"/>
<text x="523.5" y="13.0" font-size="14" fill="#000" stroke="#000" stroke-width="0.3" font-weight="bold">e</text>
<rect x="534.2" y="13.2" width="113.8" height="84.9" fill="rgb(9,31,233)"/>
<g clip-path="url(#cp0)" shape-rendering="crispEdges">
<rect x="534" y="13.2" width="2" height="84.9" fill="url(#h1)"/>
<rect x="536" y="13.2" width="2" height="84.9" fill="url(#h2)"/>
<rect x="538" y="13.2" width="2" height="84.9" fill="url(#h3)"/>
<rect x="540" y="13.2" width="2" height="84.9" fill="url(#h4)"/>
<rect x="542" y="13.2" width="2" height="84.9" fill="url(#h5)"/>
<rect x="544" y="13.2" width="2" height="84.9" fill="url(#h6)"/>
<rect x="546" y="13.2" width="2" height="84.9" fill="url(#h7)"/>
<rect x="548" y="13.2" width="2" height="84.9" fill="url(#h8)"/>
<rect x="550" y="13.2" width="2" height="84.9" fill="url(#h9)"/>
<rect x="552" y="13.2" width="2" height="84.9" fill="url(#h10)"/>
<rect x="554" y="13.2" width="2" height="84.9" fill="url(#h11)"/>
<rect x="556" y="13.2" width="2" height="84.9" fill="url(#h12)"/>
<rect x="558" y="13.2" width="2" height="84.9" fill="url(#h13)"/>
<rect x="560" y="13.2" width="2" height="84.9" fill="url(#h14)"/>
<rect x="562" y="13.2" width="2" height="84.9" fill="url(#h15)"/>
<rect x="564" y="13.2" width="2" height="84.9" fill="url(#h16)"/>
<rect x="566" y="13.2" width="2" height="84.9" fill="url(#h17)"/>
<rect x="568" y="13.2" width="2" height="84.9" fill="url(#h18)"/>
<rect x="570" y="13.2" width="2" height="84.9" fill="url(#h19)"/>
<rect x="572" y="13.2" width="2" height="84.9" fill="url(#h20)"/>
<rect x="574" y="13.2" width="2" height="84.9" fill="url(#h21)"/>
<rect x="576" y="13.2" width="2" height="84.9" fill="url(#h22)"/>
<rect x="578" y="13.2" width="2" height="84.9" fill="url(#h23)"/>
<rect x="580" y="13.2" width="2" height="84.9" fill="url(#h24)"/>
<rect x="582" y="13.2" width="2" height="84.9" fill="url(#h25)"/>
<rect x="584" y="13.2" width="2" height="84.9" fill="url(#h26)"/>
<rect x="586" y="13.2" width="2" height="84.9" fill="url(#h27)"/>
<rect x="588" y="13.2" width="2" height="84.9" fill="url(#h28)"/>
<rect x="590" y="13.2" width="2" height="84.9" fill="url(#h29)"/>
<rect x="592" y="13.2" width="2" height="84.9" fill="url(#h30)"/>
<rect x="594" y="13.2" width="2" height="84.9" fill="url(#h31)"/>
<rect x="596" y="13.2" width="2" height="84.9" fill="url(#h32)"/>
<rect x="598" y="13.2" width="2" height="84.9" fill="url(#h33)"/>
<rect x="600" y="13.2" width="2" height="84.9" fill="url(#h34)"/>
<rect x="602" y="13.2" width="2" height="84.9" fill="url(#h35)"/>
<rect x="604" y="13.2" width="2" height="84.9" fill="url(#h36)"/>
<rect x="606" y="13.2" width="2" height="84.9" fill="url(#h37)"/>
<rect x="608" y="13.2" width="2" height="84.9" fill="url(#h38)"/>
<rect x="610" y="13.2" width="2" height="84.9" fill="url(#h39)"/>
<rect x="612" y="13.2" width="2" height="84.9" fill="url(#h40)"/>
<rect x="614" y="13.2" width="2" height="84.9" fill="url(#h41)"/>
<rect x="616" y="13.2" width="2" height="84.9" fill="url(#h42)"/>
<rect x="618" y="13.2" width="2" height="84.9" fill="url(#h43)"/>
<rect x="620" y="13.2" width="2" height="84.9" fill="url(#h44)"/>
<rect x="622" y="13.2" width="2" height="84.9" fill="url(#h45)"/>
<rect x="624" y="13.2" width="2" height="84.9" fill="url(#h46)"/>
<rect x="626" y="13.2" width="2" height="84.9" fill="url(#h47)"/>
<rect x="628" y="13.2" width="2" height="84.9" fill="url(#h48)"/>
<rect x="630" y="13.2" width="2" height="84.9" fill="url(#h49)"/>
<rect x="632" y="13.2" width="2" height="84.9" fill="url(#h50)"/>
<rect x="634" y="13.2" width="2" height="84.9" fill="url(#h51)"/>
<rect x="636" y="13.2" width="2" height="84.9" fill="url(#h52)"/>
<rect x="638" y="13.2" width="2" height="84.9" fill="url(#h53)"/>
</g>
<rect x="534.2" y="13.2" width="113.8" height="84.9" filter="url(#nz)" opacity="0.17"/>
<g stroke="#999" stroke-width="0.7">
<line x1="532.0" y1="92.4" x2="534.2" y2="92.4"/>
<line x1="648.0" y1="92.4" x2="650.2" y2="92.4"/>
<line x1="532.0" y1="69.5" x2="534.2" y2="69.5"/>
<line x1="648.0" y1="69.5" x2="650.2" y2="69.5"/>
<line x1="532.0" y1="46.6" x2="534.2" y2="46.6"/>
<line x1="648.0" y1="46.6" x2="650.2" y2="46.6"/>
<line x1="532.0" y1="23.7" x2="534.2" y2="23.7"/>
<line x1="648.0" y1="23.7" x2="650.2" y2="23.7"/>
<line x1="555.7" y1="11.0" x2="555.7" y2="13.2"/>
<line x1="555.7" y1="98.1" x2="555.7" y2="100.3"/>
<line x1="578.7" y1="11.0" x2="578.7" y2="13.2"/>
<line x1="578.7" y1="98.1" x2="578.7" y2="100.3"/>
<line x1="601.6" y1="11.0" x2="601.6" y2="13.2"/>
<line x1="601.6" y1="98.1" x2="601.6" y2="100.3"/>
<line x1="624.6" y1="11.0" x2="624.6" y2="13.2"/>
<line x1="624.6" y1="98.1" x2="624.6" y2="100.3"/>
<line x1="647.6" y1="11.0" x2="647.6" y2="13.2"/>
<line x1="647.6" y1="98.1" x2="647.6" y2="100.3"/>
</g>
<text x="654.0" y="96.0" font-size="10" fill="#111" stroke="#111" stroke-width="0.3">49</text>
<text x="654.0" y="73.1" font-size="10" fill="#111" stroke="#111" stroke-width="0.3">51</text>
<text x="654.0" y="50.2" font-size="10" fill="#111" stroke="#111" stroke-width="0.3">53</text>
<text x="654.0" y="27.3" font-size="10" fill="#111" stroke="#111" stroke-width="0.3">55</text>
<path d="M566.9,68.4 L570.3,74.2 L568.2,73.4 L568.2,81.4 L565.5,81.4 L565.5,73.4 L563.5,74.2 Z" fill="#e2203a"/>
<path d="M634.7,66.3 L638.1,72.1 L636.1,71.3 L636.1,79.3 L633.4,79.3 L633.4,71.3 L631.3,72.1 Z" fill="#30e8ff"/>
<rect x="534.2" y="110.5" width="113.8" height="84.9" fill="rgb(9,31,233)"/>
<g clip-path="url(#cp1)" shape-rendering="crispEdges">
<rect x="534" y="110.5" width="2" height="84.9" fill="url(#h54)"/>
<rect x="536" y="110.5" width="2" height="84.9" fill="url(#h55)"/>
<rect x="538" y="110.5" width="2" height="84.9" fill="url(#h56)"/>
<rect x="540" y="110.5" width="2" height="84.9" fill="url(#h57)"/>
<rect x="542" y="110.5" width="2" height="84.9" fill="url(#h58)"/>
<rect x="544" y="110.5" width="2" height="84.9" fill="url(#h59)"/>
<rect x="546" y="110.5" width="2" height="84.9" fill="url(#h60)"/>
<rect x="548" y="110.5" width="2" height="84.9" fill="url(#h61)"/>
<rect x="550" y="110.5" width="2" height="84.9" fill="url(#h62)"/>
<rect x="552" y="110.5" width="2" height="84.9" fill="url(#h63)"/>
<rect x="554" y="110.5" width="2" height="84.9" fill="url(#h64)"/>
<rect x="556" y="110.5" width="2" height="84.9" fill="url(#h65)"/>
<rect x="558" y="110.5" width="2" height="84.9" fill="url(#h66)"/>
<rect x="560" y="110.5" width="2" height="84.9" fill="url(#h67)"/>
<rect x="562" y="110.5" width="2" height="84.9" fill="url(#h68)"/>
<rect x="564" y="110.5" width="2" height="84.9" fill="url(#h69)"/>
<rect x="566" y="110.5" width="2" height="84.9" fill="url(#h70)"/>
<rect x="568" y="110.5" width="2" height="84.9" fill="url(#h71)"/>
<rect x="570" y="110.5" width="2" height="84.9" fill="url(#h72)"/>
<rect x="572" y="110.5" width="2" height="84.9" fill="url(#h73)"/>
<rect x="574" y="110.5" width="2" height="84.9" fill="url(#h74)"/>
<rect x="576" y="110.5" width="2" height="84.9" fill="url(#h75)"/>
<rect x="578" y="110.5" width="2" height="84.9" fill="url(#h76)"/>
<rect x="580" y="110.5" width="2" height="84.9" fill="url(#h77)"/>
<rect x="582" y="110.5" width="2" height="84.9" fill="url(#h78)"/>
<rect x="584" y="110.5" width="2" height="84.9" fill="url(#h79)"/>
<rect x="586" y="110.5" width="2" height="84.9" fill="url(#h80)"/>
<rect x="588" y="110.5" width="2" height="84.9" fill="url(#h81)"/>
<rect x="590" y="110.5" width="2" height="84.9" fill="url(#h82)"/>
<rect x="592" y="110.5" width="2" height="84.9" fill="url(#h83)"/>
<rect x="594" y="110.5" width="2" height="84.9" fill="url(#h84)"/>
<rect x="596" y="110.5" width="2" height="84.9" fill="url(#h85)"/>
<rect x="598" y="110.5" width="2" height="84.9" fill="url(#h86)"/>
<rect x="600" y="110.5" width="2" height="84.9" fill="url(#h87)"/>
<rect x="602" y="110.5" width="2" height="84.9" fill="url(#h88)"/>
<rect x="604" y="110.5" width="2" height="84.9" fill="url(#h89)"/>
<rect x="606" y="110.5" width="2" height="84.9" fill="url(#h90)"/>
<rect x="608" y="110.5" width="2" height="84.9" fill="url(#h91)"/>
<rect x="610" y="110.5" width="2" height="84.9" fill="url(#h92)"/>
<rect x="612" y="110.5" width="2" height="84.9" fill="url(#h93)"/>
<rect x="614" y="110.5" width="2" height="84.9" fill="url(#h94)"/>
<rect x="616" y="110.5" width="2" height="84.9" fill="url(#h95)"/>
<rect x="618" y="110.5" width="2" height="84.9" fill="url(#h96)"/>
<rect x="620" y="110.5" width="2" height="84.9" fill="url(#h97)"/>
<rect x="622" y="110.5" width="2" height="84.9" fill="url(#h98)"/>
<rect x="624" y="110.5" width="2" height="84.9" fill="url(#h99)"/>
<rect x="626" y="110.5" width="2" height="84.9" fill="url(#h100)"/>
<rect x="628" y="110.5" width="2" height="84.9" fill="url(#h101)"/>
<rect x="630" y="110.5" width="2" height="84.9" fill="url(#h102)"/>
<rect x="632" y="110.5" width="2" height="84.9" fill="url(#h103)"/>
<rect x="634" y="110.5" width="2" height="84.9" fill="url(#h104)"/>
</g>
<rect x="534.2" y="110.5" width="113.8" height="84.9" filter="url(#nz)" opacity="0.17"/>
<g stroke="#999" stroke-width="0.7">
<line x1="532.0" y1="189.7" x2="534.2" y2="189.7"/>
<line x1="648.0" y1="189.7" x2="650.2" y2="189.7"/>
<line x1="532.0" y1="166.8" x2="534.2" y2="166.8"/>
<line x1="648.0" y1="166.8" x2="650.2" y2="166.8"/>
<line x1="532.0" y1="143.9" x2="534.2" y2="143.9"/>
<line x1="648.0" y1="143.9" x2="650.2" y2="143.9"/>
<line x1="532.0" y1="121.0" x2="534.2" y2="121.0"/>
<line x1="648.0" y1="121.0" x2="650.2" y2="121.0"/>
<line x1="555.7" y1="108.3" x2="555.7" y2="110.5"/>
<line x1="555.7" y1="195.4" x2="555.7" y2="197.6"/>
<line x1="578.7" y1="108.3" x2="578.7" y2="110.5"/>
<line x1="578.7" y1="195.4" x2="578.7" y2="197.6"/>
<line x1="601.6" y1="108.3" x2="601.6" y2="110.5"/>
<line x1="601.6" y1="195.4" x2="601.6" y2="197.6"/>
<line x1="624.6" y1="108.3" x2="624.6" y2="110.5"/>
<line x1="624.6" y1="195.4" x2="624.6" y2="197.6"/>
<line x1="647.6" y1="108.3" x2="647.6" y2="110.5"/>
<line x1="647.6" y1="195.4" x2="647.6" y2="197.6"/>
</g>
<text x="654.0" y="193.3" font-size="10" fill="#111" stroke="#111" stroke-width="0.3">49</text>
<text x="654.0" y="170.4" font-size="10" fill="#111" stroke="#111" stroke-width="0.3">51</text>
<text x="654.0" y="147.5" font-size="10" fill="#111" stroke="#111" stroke-width="0.3">53</text>
<text x="654.0" y="124.6" font-size="10" fill="#111" stroke="#111" stroke-width="0.3">55</text>
<path d="M580.4,166.7 L583.8,172.5 L581.8,171.7 L581.8,179.7 L579.0,179.7 L579.0,171.7 L577.0,172.5 Z" fill="#e2203a"/>
<path d="M631.3,164.6 L634.7,170.4 L632.6,169.6 L632.6,177.6 L629.9,177.6 L629.9,169.6 L627.9,170.4 Z" fill="#30e8ff"/>
<rect x="534.2" y="207.9" width="113.8" height="84.9" fill="rgb(8,22,230)"/>
<g clip-path="url(#cp2)" shape-rendering="crispEdges">
<rect x="534" y="207.9" width="2" height="84.9" fill="url(#h105)"/>
<rect x="536" y="207.9" width="2" height="84.9" fill="url(#h106)"/>
<rect x="538" y="207.9" width="2" height="84.9" fill="url(#h107)"/>
<rect x="540" y="207.9" width="2" height="84.9" fill="url(#h108)"/>
<rect x="542" y="207.9" width="2" height="84.9" fill="url(#h109)"/>
<rect x="544" y="207.9" width="2" height="84.9" fill="url(#h110)"/>
<rect x="546" y="207.9" width="2" height="84.9" fill="url(#h111)"/>
<rect x="548" y="207.9" width="2" height="84.9" fill="url(#h112)"/>
<rect x="550" y="207.9" width="2" height="84.9" fill="url(#h113)"/>
<rect x="552" y="207.9" width="2" height="84.9" fill="url(#h114)"/>
<rect x="554" y="207.9" width="2" height="84.9" fill="url(#h115)"/>
<rect x="556" y="207.9" width="2" height="84.9" fill="url(#h116)"/>
<rect x="558" y="207.9" width="2" height="84.9" fill="url(#h117)"/>
<rect x="560" y="207.9" width="2" height="84.9" fill="url(#h118)"/>
<rect x="562" y="207.9" width="2" height="84.9" fill="url(#h119)"/>
<rect x="564" y="207.9" width="2" height="84.9" fill="url(#h120)"/>
<rect x="566" y="207.9" width="2" height="84.9" fill="url(#h121)"/>
<rect x="568" y="207.9" width="2" height="84.9" fill="url(#h122)"/>
<rect x="570" y="207.9" width="2" height="84.9" fill="url(#h123)"/>
<rect x="572" y="207.9" width="2" height="84.9" fill="url(#h124)"/>
<rect x="574" y="207.9" width="2" height="84.9" fill="url(#h125)"/>
<rect x="576" y="207.9" width="2" height="84.9" fill="url(#h126)"/>
<rect x="578" y="207.9" width="2" height="84.9" fill="url(#h127)"/>
<rect x="580" y="207.9" width="2" height="84.9" fill="url(#h128)"/>
<rect x="582" y="207.9" width="2" height="84.9" fill="url(#h129)"/>
<rect x="584" y="207.9" width="2" height="84.9" fill="url(#h130)"/>
<rect x="586" y="207.9" width="2" height="84.9" fill="url(#h131)"/>
<rect x="588" y="207.9" width="2" height="84.9" fill="url(#h132)"/>
<rect x="590" y="207.9" width="2" height="84.9" fill="url(#h133)"/>
<rect x="592" y="207.9" width="2" height="84.9" fill="url(#h134)"/>
<rect x="594" y="207.9" width="2" height="84.9" fill="url(#h135)"/>
<rect x="596" y="207.9" width="2" height="84.9" fill="url(#h136)"/>
<rect x="598" y="207.9" width="2" height="84.9" fill="url(#h137)"/>
<rect x="600" y="207.9" width="2" height="84.9" fill="url(#h138)"/>
<rect x="602" y="207.9" width="2" height="84.9" fill="url(#h139)"/>
<rect x="604" y="207.9" width="2" height="84.9" fill="url(#h140)"/>
<rect x="606" y="207.9" width="2" height="84.9" fill="url(#h141)"/>
<rect x="608" y="207.9" width="2" height="84.9" fill="url(#h142)"/>
<rect x="610" y="207.9" width="2" height="84.9" fill="url(#h143)"/>
<rect x="612" y="207.9" width="2" height="84.9" fill="url(#h144)"/>
<rect x="614" y="207.9" width="2" height="84.9" fill="url(#h145)"/>
<rect x="616" y="207.9" width="2" height="84.9" fill="url(#h146)"/>
<rect x="618" y="207.9" width="2" height="84.9" fill="url(#h147)"/>
<rect x="620" y="207.9" width="2" height="84.9" fill="url(#h148)"/>
<rect x="622" y="207.9" width="2" height="84.9" fill="url(#h149)"/>
<rect x="624" y="207.9" width="2" height="84.9" fill="url(#h150)"/>
<rect x="626" y="207.9" width="2" height="84.9" fill="url(#h151)"/>
<rect x="628" y="207.9" width="2" height="84.9" fill="url(#h152)"/>
<rect x="630" y="207.9" width="2" height="84.9" fill="url(#h153)"/>
<rect x="632" y="207.9" width="2" height="84.9" fill="url(#h154)"/>
</g>
<rect x="534.2" y="207.9" width="113.8" height="84.9" filter="url(#nz)" opacity="0.17"/>
<g stroke="#999" stroke-width="0.7">
<line x1="532.0" y1="287.1" x2="534.2" y2="287.1"/>
<line x1="648.0" y1="287.1" x2="650.2" y2="287.1"/>
<line x1="532.0" y1="264.2" x2="534.2" y2="264.2"/>
<line x1="648.0" y1="264.2" x2="650.2" y2="264.2"/>
<line x1="532.0" y1="241.3" x2="534.2" y2="241.3"/>
<line x1="648.0" y1="241.3" x2="650.2" y2="241.3"/>
<line x1="532.0" y1="218.4" x2="534.2" y2="218.4"/>
<line x1="648.0" y1="218.4" x2="650.2" y2="218.4"/>
<line x1="555.7" y1="205.7" x2="555.7" y2="207.9"/>
<line x1="555.7" y1="292.8" x2="555.7" y2="295.0"/>
<line x1="578.7" y1="205.7" x2="578.7" y2="207.9"/>
<line x1="578.7" y1="292.8" x2="578.7" y2="295.0"/>
<line x1="601.6" y1="205.7" x2="601.6" y2="207.9"/>
<line x1="601.6" y1="292.8" x2="601.6" y2="295.0"/>
<line x1="624.6" y1="205.7" x2="624.6" y2="207.9"/>
<line x1="624.6" y1="292.8" x2="624.6" y2="295.0"/>
<line x1="647.6" y1="205.7" x2="647.6" y2="207.9"/>
<line x1="647.6" y1="292.8" x2="647.6" y2="295.0"/>
</g>
<text x="654.0" y="290.7" font-size="10" fill="#111" stroke="#111" stroke-width="0.3">49</text>
<text x="654.0" y="267.8" font-size="10" fill="#111" stroke="#111" stroke-width="0.3">51</text>
<text x="654.0" y="244.9" font-size="10" fill="#111" stroke="#111" stroke-width="0.3">53</text>
<text x="654.0" y="222.0" font-size="10" fill="#111" stroke="#111" stroke-width="0.3">55</text>
<path d="M584.0,264.0 L587.4,269.8 L585.4,269.0 L585.4,277.0 L582.6,277.0 L582.6,269.0 L580.6,269.8 Z" fill="#e2203a"/>
<path d="M629.2,261.5 L632.6,267.3 L630.6,266.5 L630.6,274.5 L627.9,274.5 L627.9,266.5 L625.8,267.3 Z" fill="#30e8ff"/>
<rect x="534.2" y="304.2" width="113.8" height="84.9" fill="rgb(8,22,230)"/>
<g clip-path="url(#cp3)" shape-rendering="crispEdges">
<rect x="534" y="304.2" width="2" height="84.9" fill="url(#h155)"/>
<rect x="536" y="304.2" width="2" height="84.9" fill="url(#h156)"/>
<rect x="538" y="304.2" width="2" height="84.9" fill="url(#h157)"/>
<rect x="540" y="304.2" width="2" height="84.9" fill="url(#h158)"/>
<rect x="542" y="304.2" width="2" height="84.9" fill="url(#h159)"/>
<rect x="544" y="304.2" width="2" height="84.9" fill="url(#h160)"/>
<rect x="546" y="304.2" width="2" height="84.9" fill="url(#h161)"/>
<rect x="548" y="304.2" width="2" height="84.9" fill="url(#h162)"/>
<rect x="550" y="304.2" width="2" height="84.9" fill="url(#h163)"/>
<rect x="552" y="304.2" width="2" height="84.9" fill="url(#h164)"/>
<rect x="554" y="304.2" width="2" height="84.9" fill="url(#h165)"/>
<rect x="556" y="304.2" width="2" height="84.9" fill="url(#h166)"/>
<rect x="558" y="304.2" width="2" height="84.9" fill="url(#h167)"/>
<rect x="560" y="304.2" width="2" height="84.9" fill="url(#h168)"/>
<rect x="562" y="304.2" width="2" height="84.9" fill="url(#h169)"/>
<rect x="564" y="304.2" width="2" height="84.9" fill="url(#h170)"/>
<rect x="566" y="304.2" width="2" height="84.9" fill="url(#h171)"/>
<rect x="568" y="304.2" width="2" height="84.9" fill="url(#h172)"/>
<rect x="570" y="304.2" width="2" height="84.9" fill="url(#h173)"/>
<rect x="572" y="304.2" width="2" height="84.9" fill="url(#h174)"/>
<rect x="574" y="304.2" width="2" height="84.9" fill="url(#h175)"/>
<rect x="576" y="304.2" width="2" height="84.9" fill="url(#h176)"/>
<rect x="578" y="304.2" width="2" height="84.9" fill="url(#h177)"/>
<rect x="580" y="304.2" width="2" height="84.9" fill="url(#h178)"/>
<rect x="582" y="304.2" width="2" height="84.9" fill="url(#h179)"/>
<rect x="584" y="304.2" width="2" height="84.9" fill="url(#h180)"/>
<rect x="586" y="304.2" width="2" height="84.9" fill="url(#h181)"/>
<rect x="588" y="304.2" width="2" height="84.9" fill="url(#h182)"/>
<rect x="590" y="304.2" width="2" height="84.9" fill="url(#h183)"/>
<rect x="592" y="304.2" width="2" height="84.9" fill="url(#h184)"/>
<rect x="594" y="304.2" width="2" height="84.9" fill="url(#h185)"/>
<rect x="596" y="304.2" width="2" height="84.9" fill="url(#h186)"/>
<rect x="598" y="304.2" width="2" height="84.9" fill="url(#h187)"/>
<rect x="600" y="304.2" width="2" height="84.9" fill="url(#h188)"/>
<rect x="602" y="304.2" width="2" height="84.9" fill="url(#h189)"/>
<rect x="604" y="304.2" width="2" height="84.9" fill="url(#h190)"/>
<rect x="606" y="304.2" width="2" height="84.9" fill="url(#h191)"/>
<rect x="608" y="304.2" width="2" height="84.9" fill="url(#h192)"/>
<rect x="610" y="304.2" width="2" height="84.9" fill="url(#h193)"/>
<rect x="612" y="304.2" width="2" height="84.9" fill="url(#h194)"/>
<rect x="614" y="304.2" width="2" height="84.9" fill="url(#h195)"/>
<rect x="616" y="304.2" width="2" height="84.9" fill="url(#h196)"/>
<rect x="618" y="304.2" width="2" height="84.9" fill="url(#h197)"/>
<rect x="620" y="304.2" width="2" height="84.9" fill="url(#h198)"/>
<rect x="622" y="304.2" width="2" height="84.9" fill="url(#h199)"/>
<rect x="624" y="304.2" width="2" height="84.9" fill="url(#h200)"/>
<rect x="626" y="304.2" width="2" height="84.9" fill="url(#h201)"/>
<rect x="628" y="304.2" width="2" height="84.9" fill="url(#h202)"/>
<rect x="630" y="304.2" width="2" height="84.9" fill="url(#h203)"/>
<rect x="632" y="304.2" width="2" height="84.9" fill="url(#h204)"/>
<rect x="634" y="304.2" width="2" height="84.9" fill="url(#h205)"/>
</g>
<rect x="534.2" y="304.2" width="113.8" height="84.9" filter="url(#nz)" opacity="0.17"/>
<g stroke="#999" stroke-width="0.7">
<line x1="532.0" y1="383.4" x2="534.2" y2="383.4"/>
<line x1="648.0" y1="383.4" x2="650.2" y2="383.4"/>
<line x1="532.0" y1="360.5" x2="534.2" y2="360.5"/>
<line x1="648.0" y1="360.5" x2="650.2" y2="360.5"/>
<line x1="532.0" y1="337.6" x2="534.2" y2="337.6"/>
<line x1="648.0" y1="337.6" x2="650.2" y2="337.6"/>
<line x1="532.0" y1="314.7" x2="534.2" y2="314.7"/>
<line x1="648.0" y1="314.7" x2="650.2" y2="314.7"/>
<line x1="555.7" y1="302.0" x2="555.7" y2="304.2"/>
<line x1="555.7" y1="389.1" x2="555.7" y2="391.3"/>
<line x1="578.7" y1="302.0" x2="578.7" y2="304.2"/>
<line x1="578.7" y1="389.1" x2="578.7" y2="391.3"/>
<line x1="601.6" y1="302.0" x2="601.6" y2="304.2"/>
<line x1="601.6" y1="389.1" x2="601.6" y2="391.3"/>
<line x1="624.6" y1="302.0" x2="624.6" y2="304.2"/>
<line x1="624.6" y1="389.1" x2="624.6" y2="391.3"/>
<line x1="647.6" y1="302.0" x2="647.6" y2="304.2"/>
<line x1="647.6" y1="389.1" x2="647.6" y2="391.3"/>
</g>
<text x="654.0" y="387.0" font-size="10" fill="#111" stroke="#111" stroke-width="0.3">49</text>
<text x="654.0" y="364.1" font-size="10" fill="#111" stroke="#111" stroke-width="0.3">51</text>
<text x="654.0" y="341.2" font-size="10" fill="#111" stroke="#111" stroke-width="0.3">53</text>
<text x="654.0" y="318.3" font-size="10" fill="#111" stroke="#111" stroke-width="0.3">55</text>
<path d="M588.0,359.5 L591.4,365.3 L589.4,364.5 L589.4,372.5 L586.6,372.5 L586.6,364.5 L584.6,365.3 Z" fill="#e2203a"/>
<path d="M630.3,357.5 L633.7,363.3 L631.6,362.5 L631.6,370.5 L628.9,370.5 L628.9,362.5 L626.9,363.3 Z" fill="#30e8ff"/>
<rect x="534.2" y="401.0" width="113.8" height="84.9" fill="rgb(6,85,235)"/>
<g clip-path="url(#cp4)" shape-rendering="crispEdges">
<rect x="534" y="401.0" width="2" height="84.9" fill="url(#h206)"/>
<rect x="536" y="401.0" width="2" height="84.9" fill="url(#h207)"/>
<rect x="538" y="401.0" width="2" height="84.9" fill="url(#h208)"/>
<rect x="540" y="401.0" width="2" height="84.9" fill="url(#h209)"/>
<rect x="542" y="401.0" width="2" height="84.9" fill="url(#h210)"/>
<rect x="544" y="401.0" width="2" height="84.9" fill="url(#h211)"/>
<rect x="546" y="401.0" width="2" height="84.9" fill="url(#h212)"/>
<rect x="548" y="401.0" width="2" height="84.9" fill="url(#h213)"/>
<rect x="550" y="401.0" width="2" height="84.9" fill="url(#h214)"/>
<rect x="552" y="401.0" width="2" height="84.9" fill="url(#h215)"/>
<rect x="554" y="401.0" width="2" height="84.9" fill="url(#h216)"/>
<rect x="556" y="401.0" width="2" height="84.9" fill="url(#h217)"/>
<rect x="558" y="401.0" width="2" height="84.9" fill="url(#h218)"/>
<rect x="560" y="401.0" width="2" height="84.9" fill="url(#h219)"/>
<rect x="562" y="401.0" width="2" height="84.9" fill="url(#h220)"/>
<rect x="564" y="401.0" width="2" height="84.9" fill="url(#h221)"/>
<rect x="566" y="401.0" width="2" height="84.9" fill="url(#h222)"/>
<rect x="568" y="401.0" width="2" height="84.9" fill="url(#h223)"/>
<rect x="570" y="401.0" width="2" height="84.9" fill="url(#h224)"/>
<rect x="572" y="401.0" width="2" height="84.9" fill="url(#h225)"/>
<rect x="574" y="401.0" width="2" height="84.9" fill="url(#h226)"/>
<rect x="576" y="401.0" width="2" height="84.9" fill="url(#h227)"/>
<rect x="578" y="401.0" width="2" height="84.9" fill="url(#h228)"/>
<rect x="580" y="401.0" width="2" height="84.9" fill="url(#h229)"/>
<rect x="582" y="401.0" width="2" height="84.9" fill="url(#h230)"/>
<rect x="584" y="401.0" width="2" height="84.9" fill="url(#h231)"/>
<rect x="586" y="401.0" width="2" height="84.9" fill="url(#h232)"/>
<rect x="588" y="401.0" width="2" height="84.9" fill="url(#h233)"/>
<rect x="590" y="401.0" width="2" height="84.9" fill="url(#h234)"/>
<rect x="592" y="401.0" width="2" height="84.9" fill="url(#h235)"/>
<rect x="594" y="401.0" width="2" height="84.9" fill="url(#h236)"/>
<rect x="596" y="401.0" width="2" height="84.9" fill="url(#h237)"/>
<rect x="598" y="401.0" width="2" height="84.9" fill="url(#h238)"/>
<rect x="600" y="401.0" width="2" height="84.9" fill="url(#h239)"/>
<rect x="602" y="401.0" width="2" height="84.9" fill="url(#h240)"/>
<rect x="604" y="401.0" width="2" height="84.9" fill="url(#h241)"/>
<rect x="606" y="401.0" width="2" height="84.9" fill="url(#h242)"/>
<rect x="608" y="401.0" width="2" height="84.9" fill="url(#h243)"/>
<rect x="610" y="401.0" width="2" height="84.9" fill="url(#h244)"/>
<rect x="612" y="401.0" width="2" height="84.9" fill="url(#h245)"/>
<rect x="614" y="401.0" width="2" height="84.9" fill="url(#h246)"/>
<rect x="616" y="401.0" width="2" height="84.9" fill="url(#h247)"/>
<rect x="618" y="401.0" width="2" height="84.9" fill="url(#h248)"/>
<rect x="620" y="401.0" width="2" height="84.9" fill="url(#h249)"/>
<rect x="622" y="401.0" width="2" height="84.9" fill="url(#h250)"/>
<rect x="624" y="401.0" width="2" height="84.9" fill="url(#h251)"/>
<rect x="626" y="401.0" width="2" height="84.9" fill="url(#h252)"/>
<rect x="628" y="401.0" width="2" height="84.9" fill="url(#h253)"/>
<rect x="630" y="401.0" width="2" height="84.9" fill="url(#h254)"/>
</g>
<rect x="534.2" y="401.0" width="113.8" height="84.9" filter="url(#nz)" opacity="0.1"/>
<g stroke="#999" stroke-width="0.7">
<line x1="532.0" y1="480.2" x2="534.2" y2="480.2"/>
<line x1="648.0" y1="480.2" x2="650.2" y2="480.2"/>
<line x1="532.0" y1="457.3" x2="534.2" y2="457.3"/>
<line x1="648.0" y1="457.3" x2="650.2" y2="457.3"/>
<line x1="532.0" y1="434.4" x2="534.2" y2="434.4"/>
<line x1="648.0" y1="434.4" x2="650.2" y2="434.4"/>
<line x1="532.0" y1="411.5" x2="534.2" y2="411.5"/>
<line x1="648.0" y1="411.5" x2="650.2" y2="411.5"/>
<line x1="555.7" y1="398.8" x2="555.7" y2="401.0"/>
<line x1="555.7" y1="485.9" x2="555.7" y2="488.1"/>
<line x1="578.7" y1="398.8" x2="578.7" y2="401.0"/>
<line x1="578.7" y1="485.9" x2="578.7" y2="488.1"/>
<line x1="601.6" y1="398.8" x2="601.6" y2="401.0"/>
<line x1="601.6" y1="485.9" x2="601.6" y2="488.1"/>
<line x1="624.6" y1="398.8" x2="624.6" y2="401.0"/>
<line x1="624.6" y1="485.9" x2="624.6" y2="488.1"/>
<line x1="647.6" y1="398.8" x2="647.6" y2="401.0"/>
<line x1="647.6" y1="485.9" x2="647.6" y2="488.1"/>
</g>
<text x="654.0" y="483.8" font-size="10" fill="#111" stroke="#111" stroke-width="0.3">49</text>
<text x="654.0" y="460.9" font-size="10" fill="#111" stroke="#111" stroke-width="0.3">51</text>
<text x="654.0" y="438.0" font-size="10" fill="#111" stroke="#111" stroke-width="0.3">53</text>
<text x="654.0" y="415.1" font-size="10" fill="#111" stroke="#111" stroke-width="0.3">55</text>
<path d="M601.9,457.0 L605.3,462.8 L603.2,462.0 L603.2,470.0 L600.5,470.0 L600.5,462.0 L598.5,462.8 Z" fill="#e2203a"/>
<path d="M629.2,454.3 L632.6,460.1 L630.6,459.3 L630.6,467.3 L627.9,467.3 L627.9,459.3 L625.8,460.1 Z" fill="#30e8ff"/>
<text x="536.0" y="28.0" font-size="10" fill="#fff" stroke="#fff" stroke-width="0.3">(½ ½ ½ + <tspan font-style="italic">q</tspan>)</text>
<text x="604.5" y="48.0" font-size="10" fill="#fff" stroke="#fff" stroke-width="0.3">(½ ½ ½ )</text>
<text x="536.0" y="95.0" font-size="10" fill="#fff" stroke="#fff" stroke-width="0.3">(½ ½ ½ - <tspan font-style="italic">q</tspan>)</text>
<text x="534.4" y="498.5" font-size="10" fill="#111" stroke="#111" stroke-width="0.3" text-anchor="middle">5</text>
<text x="556.4" y="498.5" font-size="10" fill="#111" stroke="#111" stroke-width="0.3" text-anchor="middle">100</text>
<text x="579.4" y="498.5" font-size="10" fill="#111" stroke="#111" stroke-width="0.3" text-anchor="middle">200</text>
<text x="602.3" y="498.5" font-size="10" fill="#111" stroke="#111" stroke-width="0.3" text-anchor="middle">300</text>
<text x="625.3" y="498.5" font-size="10" fill="#111" stroke="#111" stroke-width="0.3" text-anchor="middle">400</text>
<text x="648.3" y="498.5" font-size="10" fill="#111" stroke="#111" stroke-width="0.3" text-anchor="middle">500</text>
<text x="593.8" y="511.5" font-size="10" fill="#111" stroke="#111" stroke-width="0.3" text-anchor="middle">Temperature (K)</text>
<text transform="translate(676.5,249.5) rotate(90)" font-size="10" fill="#111" stroke="#111" stroke-width="0.3" text-anchor="middle">2<tspan font-style="italic">θ</tspan> (°)</text>
</svg>
</body></html>
